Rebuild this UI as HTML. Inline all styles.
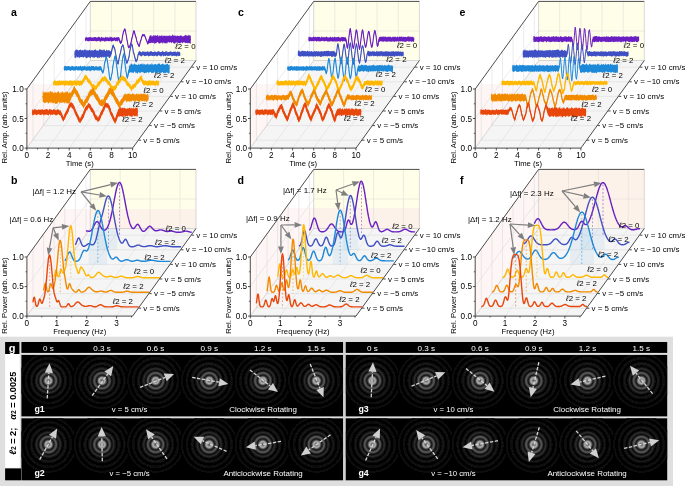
<!DOCTYPE html>
<html lang="en"><head><meta charset="utf-8"><title>Figure</title>
<style>html,body{margin:0;padding:0;background:#fff}svg{display:block;will-change:transform;transform:translateZ(0)}</style></head>
<body>
<svg width="685" height="486" viewBox="0 0 685 486" font-family='"Liberation Sans", "DejaVu Sans", sans-serif'>
<rect width="685" height="486" fill="#fff"/>
<polygon points="90.3,60.5 196,60.5 196,1.4 90.3,1.4" fill="#FFFEE8" stroke="none" stroke-width="0"/>
<polygon points="26.9,148.1 132.6,148.1 196,60.5 90.3,60.5" fill="#F5F5F5" stroke="none" stroke-width="0"/>
<clipPath id="w0_0"><rect x="0" y="84.2" width="685" height="486"/></clipPath>
<g clip-path="url(#w0_0)">
<polygon points="26.9,148.1 26.9,89 90.3,1.4 90.3,60.5" fill="#FEF5F5" stroke="none" stroke-width="0"/>
<polygon points="90.3,60.5 196,60.5 196,1.4 90.3,1.4" fill="#FDF2E9" stroke="none" stroke-width="0"/>
</g>
<line x1="111.4" y1="60.5" x2="111.4" y2="1.4" stroke="#D9D9D9" stroke-width="0.5"/>
<line x1="48" y1="148.1" x2="111.4" y2="60.5" stroke="#D9D9D9" stroke-width="0.5"/>
<line x1="132.6" y1="60.5" x2="132.6" y2="1.4" stroke="#D9D9D9" stroke-width="0.5"/>
<line x1="69.2" y1="148.1" x2="132.6" y2="60.5" stroke="#D9D9D9" stroke-width="0.5"/>
<line x1="153.7" y1="60.5" x2="153.7" y2="1.4" stroke="#D9D9D9" stroke-width="0.5"/>
<line x1="90.3" y1="148.1" x2="153.7" y2="60.5" stroke="#D9D9D9" stroke-width="0.5"/>
<line x1="174.9" y1="60.5" x2="174.9" y2="1.4" stroke="#D9D9D9" stroke-width="0.5"/>
<line x1="111.5" y1="148.1" x2="174.9" y2="60.5" stroke="#D9D9D9" stroke-width="0.5"/>
<line x1="90.3" y1="31" x2="196" y2="31" stroke="#D9D9D9" stroke-width="0.5"/>
<line x1="26.9" y1="118.5" x2="90.3" y2="31" stroke="#D9D9D9" stroke-width="0.5"/>
<line x1="33" y1="140.2" x2="138.7" y2="140.2" stroke="#D9D9D9" stroke-width="0.5"/>
<line x1="33" y1="140.2" x2="33" y2="81.1" stroke="#D9D9D9" stroke-width="0.5"/>
<line x1="43.6" y1="125.6" x2="149.3" y2="125.6" stroke="#D9D9D9" stroke-width="0.5"/>
<line x1="43.6" y1="125.6" x2="43.6" y2="66.5" stroke="#D9D9D9" stroke-width="0.5"/>
<line x1="54.2" y1="111" x2="159.9" y2="111" stroke="#D9D9D9" stroke-width="0.5"/>
<line x1="54.2" y1="111" x2="54.2" y2="51.9" stroke="#D9D9D9" stroke-width="0.5"/>
<line x1="64.8" y1="96.4" x2="170.5" y2="96.4" stroke="#D9D9D9" stroke-width="0.5"/>
<line x1="64.8" y1="96.4" x2="64.8" y2="37.3" stroke="#D9D9D9" stroke-width="0.5"/>
<line x1="75.4" y1="81.8" x2="181.1" y2="81.8" stroke="#D9D9D9" stroke-width="0.5"/>
<line x1="75.4" y1="81.8" x2="75.4" y2="22.7" stroke="#D9D9D9" stroke-width="0.5"/>
<line x1="86" y1="67.2" x2="191.7" y2="67.2" stroke="#D9D9D9" stroke-width="0.5"/>
<line x1="86" y1="67.2" x2="86" y2="8.1" stroke="#D9D9D9" stroke-width="0.5"/>
<line x1="196" y1="60.5" x2="196" y2="1.4" stroke="#BDBDBD" stroke-width="0.6"/>
<line x1="90.3" y1="60.5" x2="196" y2="60.5" stroke="#BDBDBD" stroke-width="0.6"/>
<line x1="90.3" y1="60.5" x2="90.3" y2="1.4" stroke="#BDBDBD" stroke-width="0.6"/>
<line x1="26.9" y1="148.1" x2="90.3" y2="60.5" stroke="#BDBDBD" stroke-width="0.6"/>
<polygon points="85.1,37.4 85.6,37.5 86,37.6 86.5,37 86.9,37.3 87.4,37.6 87.9,37.6 88.3,37.2 88.8,37.4 89.2,37 89.7,37.2 90.2,37.5 90.6,36.8 91.1,37.2 91.5,37.4 92,37.4 92.5,37.8 92.9,37.3 93.4,37.3 93.8,37.4 94.3,37 94.8,36.9 95.2,36.9 95.7,37.3 96.1,37.1 96.6,37.7 97,37.7 97.5,37.4 98,37 98.4,37 98.9,36.6 99.3,36.9 99.8,37.2 100.3,37.6 100.7,38.1 101.2,37.2 101.6,36.5 102.1,37.2 102.6,37.7 103,37.3 103.5,37.5 103.9,37.8 104.4,37.6 104.9,38.1 105.3,37.3 105.8,36.4 106.2,37.2 106.7,37.5 107.2,36.8 107.6,37.6 108.1,37.6 108.5,37.3 109,38.1 109.5,37.5 109.9,36.3 110.4,36.9 110.8,37.2 111.3,37 111.8,37.2 112.2,37.5 112.7,37.5 113.1,37.9 113.6,37.6 114.1,36.9 114.5,37.3 115,37.6 115.4,37.8 115.9,37.6 116.4,37.6 116.8,37.1 117.3,37.1 117.7,37.4 118.2,37.2 118.6,37.1 119.1,37 119.6,38.7 120,40.3 120.5,41.2 120.9,41.1 121.4,40.9 121.9,39.8 122.3,36.7 122.8,34.2 123.2,32 123.7,30.1 124.2,29.4 124.6,28.1 125.1,28.4 125.5,30.7 126,33.4 126.5,35.6 126.9,38.3 127.4,40.6 127.8,42.9 128.3,46 128.8,46.8 129.2,46.1 129.7,45.4 130.1,44.4 130.6,43.1 131.1,41.5 131.5,39 132,36.9 132.4,35.8 132.9,33.4 133.4,31 133.8,30 134.3,30.5 134.7,31.8 135.2,34.5 135.7,35.3 136.1,36.7 136.6,39.4 137,40.7 137.5,41.6 137.9,43 138.4,43.9 138.9,45.2 139.3,45.4 139.8,43.5 140.2,41.1 140.7,39.9 141.2,38.2 141.6,36.4 142.1,35.3 142.5,34.1 143,33.8 143.5,34.7 143.9,34.5 144.4,33.9 144.8,35.2 145.3,36.2 145.8,37.6 146.2,39.2 146.7,39.6 147.1,40.8 147.6,42.1 148.1,41.3 148.5,39.3 149,37.8 149.4,36.5 149.9,35.6 150.4,35.2 150.8,35.4 151.3,34.9 151.7,36.6 152.2,36.5 152.7,36 153.1,34.8 153.6,35.7 154,35.2 154.5,35.4 155,36.1 155.4,35.6 155.9,35 156.3,36.2 156.8,35.3 157.3,35.8 157.7,34.7 158.2,35.3 158.6,36.9 159.1,35.6 159.5,36.1 160,35.2 160.5,36.1 160.9,36.1 161.4,35.8 161.8,35.2 162.3,34.9 162.8,36.7 163.2,35.8 163.7,36.1 164.1,35.2 164.6,35.9 165.1,35.2 165.5,36.3 166,35.9 166.4,35.5 166.9,36 167.4,36.3 167.8,35.5 168.3,36 168.7,35.8 169.2,35.7 169.7,35.3 170.1,35.4 170.6,35.7 171,36.4 171.5,35.5 172,36 172.4,34.6 172.9,34.5 173.3,35.3 173.8,36.1 174.3,35.3 174.7,35.8 175.2,35.5 175.6,35.8 176.1,36.3 176.6,36.1 177,35.3 177.5,36 177.9,35.4 178.4,36.1 178.9,35.9 179.3,36.2 179.8,35.8 180.2,34.8 180.7,35.9 181.1,35.3 181.6,36.1 182.1,36 182.5,36.4 183,36.5 183.4,36.2 183.9,36 184.4,35.7 184.8,35.5 185.3,34.7 185.7,35 186.2,36.1 186.7,35.1 187.1,35.4 187.6,36.2 188,34.4 188.5,35 189,36.3 189.4,35.3 189.9,34.9 190.3,35.7 190.8,35.5 190.8,43.5 190.3,43.8 189.9,43.3 189.4,43.2 189,43.1 188.5,43.2 188,42.6 187.6,43.4 187.1,43.3 186.7,42.7 186.2,43 185.7,43.3 185.3,42.7 184.8,43 184.4,42.3 183.9,41.8 183.4,42.7 183,42.6 182.5,43.2 182.1,43.3 181.6,42.4 181.1,42.1 180.7,43.6 180.2,42.9 179.8,43.5 179.3,42.9 178.9,42.9 178.4,42.7 177.9,43.6 177.5,43.2 177,41.7 176.6,43.1 176.1,42.3 175.6,42.8 175.2,43.4 174.7,43.4 174.3,43.7 173.8,43.2 173.3,43.2 172.9,42.2 172.4,42.1 172,42.8 171.5,43.2 171,42.5 170.6,42 170.1,42.3 169.7,42.8 169.2,42.4 168.7,42 168.3,42.2 167.8,42.4 167.4,42.7 166.9,44.1 166.4,42.5 166,43.2 165.5,43.5 165.1,43.2 164.6,43.3 164.1,42.7 163.7,42.1 163.2,43.6 162.8,44.1 162.3,42.4 161.8,43.1 161.4,42.2 160.9,43.2 160.5,42.4 160,43.7 159.5,43.6 159.1,43.2 158.6,43.2 158.2,42.7 157.7,41.7 157.3,42.3 156.8,42.4 156.3,42.9 155.9,43.7 155.4,42.8 155,43.7 154.5,44.1 154,42.2 153.6,42.8 153.1,43.2 152.7,42.9 152.2,42.7 151.7,43.2 151.3,42.2 150.8,43.6 150.4,42.7 149.9,43.2 149.4,43.1 149,42.9 148.5,43.5 148.1,44.5 147.6,44.7 147.1,42.9 146.7,41.6 146.2,40.9 145.8,39.3 145.3,38.3 144.8,37.1 144.4,35.9 143.9,36.2 143.5,36.5 143,35.5 142.5,35.8 142.1,37.2 141.6,38.4 141.2,40.3 140.7,41.8 140.2,43 139.8,45.2 139.3,47.2 138.9,46.9 138.4,45.8 137.9,45.1 137.5,43.7 137,42.8 136.6,40.9 136.1,38.5 135.7,37.4 135.2,36.4 134.7,34 134.3,32.1 133.8,31.8 133.4,33 132.9,35.4 132.4,37.7 132,38.8 131.5,41 131.1,43.6 130.6,44.9 130.1,46.5 129.7,47.4 129.2,48.2 128.8,48.4 128.3,47.6 127.8,44.9 127.4,42.9 126.9,40.3 126.5,37.5 126,35 125.5,32.3 125.1,30.2 124.6,30.2 124.2,31.6 123.7,32.3 123.2,33.7 122.8,36.2 122.3,38.6 121.9,41.7 121.4,43.6 120.9,44.1 120.5,44.1 120,43.5 119.6,42.4 119.1,40.9 118.6,40.6 118.2,40.4 117.7,41.2 117.3,41.7 116.8,40.6 116.4,41.2 115.9,41.3 115.4,41.6 115,41 114.5,40.5 114.1,40.2 113.6,41 113.1,41.1 112.7,41.2 112.2,41.2 111.8,41.7 111.3,41.4 110.8,40.8 110.4,40.9 109.9,40.7 109.5,41.3 109,41.5 108.5,41 108.1,41.3 107.6,41 107.2,40.8 106.7,41.5 106.2,40.8 105.8,40.9 105.3,41.6 104.9,41.6 104.4,41.7 103.9,41.1 103.5,41.2 103,40.5 102.6,41.2 102.1,41.1 101.6,40.5 101.2,41.7 100.7,41.7 100.3,41.6 99.8,41.7 99.3,40.8 98.9,40.8 98.4,41 98,41.2 97.5,41 97,41.3 96.6,41.7 96.1,41.1 95.7,41.2 95.2,41.1 94.8,40.6 94.3,41.3 93.8,41.1 93.4,41.1 92.9,41.3 92.5,41.1 92,40.9 91.5,41.3 91.1,40.9 90.6,40.8 90.2,40.8 89.7,41.2 89.2,40.9 88.8,41.3 88.3,41.6 87.9,40.9 87.4,41.6 86.9,40.5 86.5,40.5 86,41.1 85.6,41.3 85.1,41.1" fill="#6A1FC2" stroke="none" stroke-width="0"/>
<polyline points="85.1,39.5 85.6,39.4 86,39.2 86.5,38.6 86.9,38.9 87.4,39.4 87.9,39.2 88.3,39.2 88.8,39.5 89.2,39.3 89.7,39.4 90.2,39.2 90.6,38.6 91.1,38.9 91.5,39.5 92,39.4 92.5,39.4 92.9,39.4 93.4,39.1 93.8,39.3 94.3,39.2 94.8,38.6 95.2,38.9 95.7,39.5 96.1,39.5 96.6,39.5 97,39.3 97.5,38.9 98,39.2 98.4,39.3 98.9,38.8 99.3,38.9 99.8,39.4 100.3,39.5 100.7,39.6 101.2,39.3 101.6,38.7 102.1,39 102.6,39.3 103,38.9 103.5,39.1 103.9,39.4 104.4,39.4 104.9,39.7 105.3,39.3 105.8,38.6 106.2,38.9 106.7,39.3 107.2,39.1 107.6,39.3 108.1,39.4 108.5,39.3 109,39.6 109.5,39.3 109.9,38.6 110.4,38.8 110.8,39.3 111.3,39.3 111.8,39.5 112.2,39.4 112.7,39.1 113.1,39.5 113.6,39.3 114.1,38.7 114.5,38.8 115,39.2 115.4,39.4 115.9,39.6 116.4,39.4 116.8,39 117.3,39.3 117.7,39.3 118.2,38.8 118.6,38.9 119.1,39.3 119.6,40.2 120,42 120.5,42.8 120.9,42.5 121.4,42.3 121.9,40.7 122.3,37.6 122.8,35.1 123.2,32.9 123.7,31.2 124.2,30.5 124.6,29.2 125.1,29.3 125.5,31.5 126,34.2 126.5,36.5 126.9,39.4 127.4,41.8 127.8,44 128.3,46.8 128.8,47.6 129.2,47.1 129.7,46.5 130.1,45.4 130.6,43.9 131.1,42.6 131.5,40.1 132,37.7 132.4,36.7 132.9,34.5 133.4,31.9 133.8,31 134.3,31.3 134.7,32.9 135.2,35.3 135.7,36.4 136.1,37.6 136.6,40.2 137,41.8 137.5,42.5 137.9,44 138.4,45 138.9,46 139.3,46.2 139.8,44.3 140.2,41.9 140.7,40.8 141.2,39.2 141.6,37.3 142.1,36.3 142.5,35 143,34.7 143.5,35.5 143.9,35.3 144.4,34.9 144.8,36.1 145.3,37.2 145.8,38.4 146.2,40 146.7,40.7 147.1,41.8 147.6,43.5 148.1,43 148.5,41.3 149,40.3 149.4,39.5 149.9,39.3 150.4,39.5 150.8,39.2 151.3,39.1 151.7,39.6 152.2,39.5 152.7,39 153.1,38.9 153.6,38.8 154,39.1 154.5,39.7 155,39.4 155.4,39.1 155.9,39.5 156.3,39.3 156.8,39 157.3,39 157.7,38.7 158.2,39.1 158.6,39.8 159.1,39.5 159.5,39.1 160,39.3 160.5,39.1 160.9,39 161.4,39.1 161.8,38.8 162.3,39.1 162.8,39.8 163.2,39.6 163.7,39.1 164.1,39.1 164.6,38.9 165.1,39 165.5,39.3 166,38.9 166.4,39.1 166.9,39.7 167.4,39.6 167.8,39.2 168.3,39 168.7,38.8 169.2,39 169.7,39.4 170.1,39.1 170.6,39.1 171,39.6 171.5,39.5 172,39.2 172.4,39 172.9,38.6 173.3,39 173.8,39.6 174.3,39.3 174.7,39.2 175.2,39.5 175.6,39.3 176.1,39.2 176.6,39.1 177,38.6 177.5,39 177.9,39.6 178.4,39.5 178.9,39.3 179.3,39.3 179.8,39.1 180.2,39.2 180.7,39.1 181.1,38.7 181.6,39 182.1,39.7 182.5,39.6 183,39.4 183.4,39.2 183.9,38.9 184.4,39.1 184.8,39.3 185.3,38.8 185.7,39 186.2,39.6 186.7,39.6 187.1,39.4 187.6,39.2 188,38.7 188.5,39 189,39.4 189.4,39 189.9,39.1 190.3,39.5 190.8,39.5" fill="none" stroke="#6A1FC2" stroke-width="1.1" stroke-linejoin="round"/>
<text x="195.5" y="48.8" font-size="7.85" text-anchor="end"><tspan font-style="italic">ℓ</tspan>2 = 0</text>
<polygon points="74.5,51.1 75,51 75.4,50.3 75.9,49.6 76.3,49.6 76.8,49.7 77.3,50.3 77.7,49.8 78.2,49.9 78.6,51 79.1,49.9 79.6,50 80,49.8 80.5,49.5 80.9,49.7 81.4,50.1 81.9,50.8 82.3,50 82.8,50.1 83.2,50.8 83.7,50.1 84.2,49.6 84.6,49.5 85.1,50.1 85.5,49.8 86,49.6 86.4,51.2 86.9,49.6 87.4,50 87.8,50.8 88.3,50.4 88.7,50.2 89.2,49.4 89.7,49.9 90.1,49.9 90.6,51 91,50 91.5,50.5 92,50.3 92.4,50.6 92.9,50.1 93.3,50.9 93.8,49.8 94.3,49.8 94.7,49.9 95.2,50.1 95.6,48.8 96.1,50.3 96.6,50.5 97,50.6 97.5,50.6 97.9,50.6 98.4,50.4 98.9,50.8 99.3,49.3 99.8,49.3 100.2,49.3 100.7,49.8 101.2,49.8 101.6,50 102.1,50.5 102.5,49.5 103,50.6 103.5,50.3 103.9,48.8 104.4,49.7 104.8,50.1 105.3,50.9 105.8,51 106.2,50.1 106.7,49.4 107.1,50.5 107.6,50.5 108,49.9 108.5,50.4 109,50 109.4,50.1 109.9,51.2 110.3,51.1 110.8,51.4 111.3,50.4 111.7,49.3 112.2,46.8 112.6,45.6 113.1,44.2 113.6,44.7 114,46.5 114.5,47.3 114.9,48.3 115.4,51.4 115.9,53.9 116.3,56.1 116.8,58.5 117.2,60.4 117.7,62.2 118.2,62.3 118.6,59.8 119.1,57.2 119.5,55.8 120,53.4 120.5,51.3 120.9,49.6 121.4,46.7 121.8,45.7 122.3,44.9 122.8,44 123.2,44.5 123.7,46.7 124.1,48.6 124.6,51.9 125.1,55.1 125.5,56.2 126,58.8 126.4,61.2 126.9,61.8 127.3,61 127.8,59.9 128.3,58.1 128.7,56.7 129.2,54.7 129.6,51.1 130.1,48.2 130.6,46.6 131,44.6 131.5,43.2 131.9,43.5 132.4,45 132.9,47.8 133.3,50.9 133.8,51.9 134.2,53.7 134.7,56.1 135.2,57.2 135.6,59 136.1,60 136.5,59.6 137,58.5 137.5,57 137.9,54.1 138.4,52.3 138.8,51.5 139.3,50.7 139.8,51.3 140.2,52 140.7,51.2 141.1,52.3 141.6,52.3 142.1,52 142.5,51.1 143,51.4 143.4,51.1 143.9,52.3 144.4,51.7 144.8,51.4 145.3,51.9 145.7,51.6 146.2,51.9 146.7,51.7 147.1,51.8 147.6,50.9 148,51.5 148.5,52.5 148.9,51.3 149.4,51.8 149.9,51.9 150.3,51.2 150.8,51.3 151.2,51.2 151.7,51.2 152.2,52.1 152.6,52 153.1,52.1 153.5,51.9 154,52 154.5,51.6 154.9,51.3 155.4,51.8 155.8,51.7 156.3,51.7 156.8,52.5 157.2,51.8 157.7,51.5 158.1,51.3 158.6,51 159.1,51.7 159.5,51.6 160,51.7 160.4,52.2 160.9,52.1 161.4,52 161.8,51.7 162.3,51.1 162.7,50.7 163.2,51.8 163.7,51.7 164.1,52 164.6,52.2 165,51.6 165.5,51.4 166,51.4 166.4,51.6 166.9,50.7 167.3,51.7 167.8,52.4 168.3,52.1 168.7,52.1 169.2,51.7 169.6,52.1 170.1,51.6 170.5,51.6 171,50.8 171.5,52.2 171.9,52.3 172.4,51.8 172.8,52.2 173.3,51.7 173.8,51.6 174.2,51.9 174.7,51.7 175.1,50.9 175.6,51.9 176.1,51.9 176.5,52.4 177,52 177.4,51.6 177.9,51.3 178.4,52.2 178.8,51.6 179.3,51.8 179.7,51.9 180.2,52.4 180.2,56.1 179.7,56 179.3,55.7 178.8,56.3 178.4,56 177.9,55.2 177.4,56 177,56.4 176.5,56.6 176.1,56.1 175.6,55.7 175.1,55.9 174.7,55.7 174.2,56 173.8,56.1 173.3,55.6 172.8,56.2 172.4,55.7 171.9,56.4 171.5,55.6 171,55.4 170.5,55.3 170.1,55.7 169.6,55.7 169.2,55.7 168.7,56.1 168.3,55.7 167.8,56.2 167.3,56.1 166.9,54.9 166.4,55.8 166,55.9 165.5,55.9 165,56.3 164.6,55.8 164.1,55.6 163.7,56.6 163.2,56.3 162.7,55 162.3,55.7 161.8,55.7 161.4,56.5 160.9,56.2 160.4,56.4 160,55.4 159.5,55.7 159.1,55.8 158.6,55.3 158.1,55.3 157.7,56.2 157.2,56.3 156.8,56.4 156.3,56 155.8,55.5 155.4,55.4 154.9,56.3 154.5,56.1 154,55.9 153.5,55.5 153.1,56.3 152.6,56.1 152.2,56 151.7,55.3 151.2,55.9 150.8,56 150.3,55.5 149.9,56 149.4,55.7 148.9,56.4 148.5,56.4 148,55.7 147.6,55.6 147.1,55.8 146.7,55.5 146.2,56.1 145.7,56.3 145.3,55.8 144.8,56.2 144.4,56.1 143.9,55.7 143.4,55.1 143,55.8 142.5,55.2 142.1,55.8 141.6,56.8 141.1,56 140.7,55.7 140.2,56.4 139.8,55.6 139.3,54.8 138.8,54.9 138.4,55.1 137.9,57 137.5,59.8 137,60.9 136.5,62 136.1,62.5 135.6,61.7 135.2,59.9 134.7,58.1 134.2,55.6 133.8,54.3 133.3,53 132.9,50.4 132.4,47.1 131.9,45.6 131.5,45.6 131,46.9 130.6,48.9 130.1,50.6 129.6,53.3 129.2,57.3 128.7,59 128.3,60.3 127.8,61.9 127.3,63.6 126.9,63.9 126.4,63.6 126,60.8 125.5,58.8 125.1,57.1 124.6,54.4 124.1,51.2 123.7,48.9 123.2,46.6 122.8,46.1 122.3,47.2 121.8,47.6 121.4,49.2 120.9,51.6 120.5,53.6 120,55.8 119.5,58 119.1,59.5 118.6,62.3 118.2,65 117.7,64.6 117.2,62.3 116.8,60.9 116.3,58.7 115.9,56.3 115.4,53.5 114.9,50.8 114.5,49.4 114,48.8 113.6,47.4 113.1,46.4 112.6,47.9 112.2,50 111.7,53.2 111.3,55.3 110.8,56.3 110.3,57.2 109.9,58.2 109.4,57.7 109,58.1 108.5,56.9 108,56.3 107.6,56.7 107.1,57.1 106.7,58.2 106.2,57 105.8,58.5 105.3,57.2 104.8,57.3 104.4,57 103.9,56.5 103.5,57.7 103,57.6 102.5,57 102.1,56.8 101.6,58 101.2,57.5 100.7,56.8 100.2,57.4 99.8,57.5 99.3,57.8 98.9,58.7 98.4,57.2 97.9,57.2 97.5,58.3 97,57.9 96.6,56.7 96.1,57.3 95.6,57.1 95.2,57.1 94.7,57.6 94.3,58.2 93.8,57 93.3,57.9 92.9,57.7 92.4,57.1 92,57.2 91.5,57.1 91,56.6 90.6,58.5 90.1,58.1 89.7,57.7 89.2,56.8 88.7,57 88.3,57.4 87.8,58.3 87.4,56.9 86.9,58.2 86.4,57.7 86,58.4 85.5,57.3 85.1,56.8 84.6,56.8 84.2,56.9 83.7,58 83.2,57.1 82.8,56.8 82.3,57.4 81.9,57.2 81.4,57 80.9,57.6 80.5,57.1 80,57 79.6,58.5 79.1,57.2 78.6,57.3 78.2,57.2 77.7,56.7 77.3,57.7 76.8,57.9 76.3,56.1 75.9,57.5 75.4,57.9 75,58.3 74.5,57.6" fill="#3F4FC4" stroke="none" stroke-width="0"/>
<polyline points="74.5,54.2 75,54.1 75.4,54 75.9,53.5 76.3,53.2 76.8,53.8 77.3,53.9 77.7,53.7 78.2,53.9 78.6,54 79.1,54 79.6,54.1 80,53.5 80.5,53.1 80.9,53.8 81.4,54 81.9,53.9 82.3,54 82.8,53.9 83.2,53.8 83.7,54 84.2,53.5 84.6,53.2 85.1,53.7 85.5,54.1 86,54.1 86.4,54.1 86.9,53.7 87.4,53.6 87.8,54 88.3,53.6 88.7,53.3 89.2,53.7 89.7,54 90.1,54.1 90.6,54.2 91,53.6 91.5,53.4 92,53.9 92.4,53.7 92.9,53.5 93.3,53.8 93.8,54 94.3,54.1 94.7,54.3 95.2,53.6 95.6,53.3 96.1,53.8 96.6,53.8 97,53.7 97.5,53.9 97.9,53.9 98.4,54.1 98.9,54.3 99.3,53.6 99.8,53.2 100.2,53.7 100.7,53.8 101.2,53.9 101.6,54.1 102.1,53.8 102.5,53.9 103,54.2 103.5,53.6 103.9,53.2 104.4,53.6 104.8,53.8 105.3,54.1 105.8,54.2 106.2,53.8 106.7,53.7 107.1,54.1 107.6,53.6 108,53.3 108.5,53.6 109,53.8 109.4,54.1 109.9,54.6 110.3,54.2 110.8,53.7 111.3,53.3 111.7,51.2 112.2,48.6 112.6,46.8 113.1,45.3 113.6,46.1 114,47.8 114.5,48.2 114.9,49.6 115.4,52.6 115.9,55 116.3,57.4 116.8,59.9 117.2,61.4 117.7,63.3 118.2,63.7 118.6,61 119.1,58.4 119.5,56.7 120,54.4 120.5,52.5 120.9,50.6 121.4,47.9 121.8,46.6 122.3,46 122.8,45.1 123.2,45.7 123.7,47.7 124.1,50 124.6,53.2 125.1,56.1 125.5,57.5 126,59.8 126.4,62.3 126.9,62.9 127.3,62.2 127.8,61 128.3,59.1 128.7,58 129.2,56 129.6,52.3 130.1,49.6 130.6,47.9 131,45.6 131.5,44.2 131.9,44.6 132.4,46 132.9,49 133.3,51.9 133.8,52.9 134.2,54.7 134.7,57 135.2,58.6 135.6,60.3 136.1,61.4 136.5,60.6 137,59.9 137.5,58.5 137.9,55.6 138.4,53.8 138.8,53.2 139.3,53.1 139.8,53.8 140.2,54 140.7,53.6 141.1,54 141.6,54.3 142.1,53.9 142.5,53.6 143,53.5 143.4,53.4 143.9,54 144.4,54.2 144.8,53.7 145.3,53.9 145.7,54.1 146.2,53.8 146.7,53.6 147.1,53.5 147.6,53.3 148,54 148.5,54.3 148.9,53.8 149.4,53.8 149.9,53.9 150.3,53.7 150.8,53.7 151.2,53.5 151.7,53.3 152.2,54 152.6,54.4 153.1,53.9 153.5,53.8 154,53.7 154.5,53.5 154.9,53.8 155.4,53.7 155.8,53.4 156.3,54 156.8,54.4 157.2,54 157.7,53.8 158.1,53.5 158.6,53.4 159.1,53.8 159.5,53.9 160,53.5 160.4,54 160.9,54.3 161.4,54 161.8,53.8 162.3,53.5 162.7,53.3 163.2,53.9 163.7,54.1 164.1,53.7 164.6,53.9 165,54.1 165.5,53.9 166,53.8 166.4,53.4 166.9,53.2 167.3,53.9 167.8,54.2 168.3,53.9 168.7,53.9 169.2,53.9 169.6,53.7 170.1,53.9 170.5,53.5 171,53.2 171.5,53.9 171.9,54.3 172.4,54 172.8,54 173.3,53.7 173.8,53.6 174.2,53.9 174.7,53.6 175.1,53.3 175.6,53.9 176.1,54.2 176.5,54.1 177,54 177.4,53.6 177.9,53.4 178.4,53.8 178.8,53.8 179.3,53.5 179.7,53.9 180.2,54.2" fill="none" stroke="#3F4FC4" stroke-width="1.1" stroke-linejoin="round"/>
<text x="184.9" y="63.4" font-size="7.85" text-anchor="end"><tspan font-style="italic">ℓ</tspan>2 = 2</text>
<polygon points="63.9,66.6 64.4,66.1 64.8,66.3 65.3,65.7 65.7,66.2 66.2,65.9 66.7,66.5 67.1,66.5 67.6,65.8 68,66.1 68.5,65.9 69,66.4 69.4,66.3 69.9,66.6 70.3,66 70.8,67.2 71.3,66.5 71.7,65.7 72.2,65.9 72.6,66 73.1,66.2 73.6,66.6 74,66.5 74.5,66.6 74.9,66.7 75.4,66.5 75.8,66.1 76.3,66 76.8,66.3 77.2,66.5 77.7,66.7 78.1,66.5 78.6,66 79.1,66.5 79.5,66.6 80,65.7 80.4,65.7 80.9,65.7 81.4,66.4 81.8,66.8 82.3,66.3 82.7,65.9 83.2,66.7 83.7,66.1 84.1,65.7 84.6,65.8 85,66 85.5,66.4 86,66.8 86.4,67.2 86.9,66.5 87.3,66 87.8,66.5 88.3,66.4 88.7,66.2 89.2,65.8 89.6,66 90.1,67.1 90.6,66.7 91,66 91.5,65.7 91.9,66.1 92.4,66.1 92.9,66.3 93.3,66 93.8,66 94.2,66.6 94.7,66.9 95.2,66.7 95.6,66 96.1,65.9 96.5,66.3 97,66.5 97.4,67 97.9,66.6 98.4,66.8 98.8,66.5 99.3,66.1 99.7,66.5 100.2,66.1 100.7,66.3 101.1,66.5 101.6,67.8 102,69.3 102.5,70.5 103,70.9 103.4,69.8 103.9,68.2 104.3,64.5 104.8,61.4 105.3,60.4 105.7,58.2 106.2,55.5 106.6,57.2 107.1,58.8 107.6,61.4 108,65.2 108.5,68 108.9,71 109.4,75.7 109.9,78 110.3,79.1 110.8,78.7 111.2,76.1 111.7,73.6 112.2,71.4 112.6,67.6 113.1,64.2 113.5,62.1 114,59.7 114.5,56.8 114.9,55.3 115.4,56.1 115.8,58.4 116.3,62.5 116.8,65.5 117.2,69 117.7,73.1 118.1,76.3 118.6,78.9 119,80.7 119.5,79.1 120,77 120.4,75.6 120.9,72 121.3,67.7 121.8,64.1 122.3,60 122.7,57.1 123.2,54.6 123.6,52.8 124.1,55.3 124.6,59.5 125,62.8 125.5,66.5 125.9,69.7 126.4,72.7 126.9,75.4 127.3,76.2 127.8,74.4 128.2,70.9 128.7,69.2 129.2,65.9 129.6,65.2 130.1,65.2 130.5,64.2 131,64.2 131.5,63.5 131.9,63.4 132.4,64.8 132.8,64.5 133.3,64.8 133.8,64.5 134.2,63.7 134.7,63.1 135.1,64.7 135.6,63.9 136.1,65.1 136.5,64.2 137,65 137.4,64.7 137.9,64.9 138.3,64.8 138.8,63.3 139.3,64.4 139.7,65.1 140.2,64 140.6,64.1 141.1,64.6 141.6,63.5 142,63.7 142.5,64.9 142.9,63 143.4,63.9 143.9,64.8 144.3,64.3 144.8,64.1 145.2,64.7 145.7,64.7 146.2,63.9 146.6,65 147.1,63.3 147.5,64.5 148,63.6 148.5,65 148.9,64.3 149.4,65.1 149.8,64.3 150.3,64 150.8,64.6 151.2,63.1 151.7,64.7 152.1,65 152.6,63.5 153.1,64.3 153.5,65.1 154,64.5 154.4,64 154.9,64.4 155.4,63.7 155.8,63.9 156.3,65 156.7,64.4 157.2,63.9 157.7,64.4 158.1,63.9 158.6,63.3 159,63.6 159.5,63.5 159.9,64.1 160.4,64.7 160.9,64.9 161.3,64 161.8,64.3 162.2,63.9 162.7,63.5 163.2,63.8 163.6,64.8 164.1,64.1 164.5,64.5 165,64.9 165.5,64.9 165.9,63.6 166.4,64.6 166.8,63.7 167.3,64 167.8,63.6 168.2,64.9 168.7,65.1 169.1,64.2 169.6,64.8 169.6,73.4 169.1,72.8 168.7,73.3 168.2,73.9 167.8,72.7 167.3,72.7 166.8,72.6 166.4,72.4 165.9,72.8 165.5,73.2 165,72.5 164.5,73.8 164.1,72.8 163.6,72.9 163.2,73.2 162.7,72 162.2,72.1 161.8,72.4 161.3,73.3 160.9,72.4 160.4,73 159.9,72.7 159.5,72.9 159,72.9 158.6,72.8 158.1,71.7 157.7,73.4 157.2,72.9 156.7,73.1 156.3,72.9 155.8,72.5 155.4,72.5 154.9,73.1 154.4,71.4 154,71.7 153.5,73.2 153.1,73 152.6,73.3 152.1,72.4 151.7,73.2 151.2,72.8 150.8,72.1 150.3,71.8 149.8,72 149.4,72.3 148.9,73.7 148.5,72.4 148,72.2 147.5,72.1 147.1,72.4 146.6,72.6 146.2,73 145.7,73 145.2,72.5 144.8,73.2 144.3,73.3 143.9,72.6 143.4,72.8 142.9,72.1 142.5,72.4 142,71.9 141.6,71.8 141.1,72.6 140.6,72.5 140.2,73.2 139.7,73.2 139.3,72.3 138.8,72.1 138.3,72.3 137.9,73.7 137.4,73.4 137,72.8 136.5,73.1 136.1,72.6 135.6,73.6 135.1,71.6 134.7,71.5 134.2,72 133.8,72.4 133.3,73.3 132.8,73.3 132.4,72.2 131.9,72.6 131.5,72.7 131,72 130.5,72.6 130.1,72.3 129.6,72.8 129.2,73 128.7,74.2 128.2,75.8 127.8,78.5 127.3,79.3 126.9,77.1 126.4,74.3 125.9,72 125.5,68.4 125,65 124.6,61.4 124.1,57 123.6,54.9 123.2,56.6 122.7,58.6 122.3,61.7 121.8,66 121.3,69.3 120.9,73.9 120.4,77.4 120,78.8 119.5,81 119,82.8 118.6,80.9 118.1,78.4 117.7,75.1 117.2,70.9 116.8,67.5 116.3,64.4 115.8,60.5 115.4,57.8 114.9,57.1 114.5,58.7 114,61.5 113.5,64.1 113.1,66.1 112.6,69.5 112.2,73.5 111.7,75.6 111.2,77.7 110.8,80.3 110.3,81 109.9,79.9 109.4,77.5 108.9,73.1 108.5,69.9 108,67 107.6,63.2 107.1,60.7 106.6,59 106.2,57.4 105.7,59.9 105.3,62.2 104.8,63.2 104.3,66.3 103.9,70.3 103.4,72.6 103,73.8 102.5,73.7 102,72.7 101.6,71.5 101.1,71.2 100.7,70.3 100.2,69.7 99.7,70.7 99.3,70.4 98.8,70.5 98.4,70.8 97.9,70.3 97.4,70.6 97,70.4 96.5,69.9 96.1,70.4 95.6,70.2 95.2,70.1 94.7,70.5 94.2,71 93.8,70.8 93.3,70.3 92.9,70.3 92.4,69.9 91.9,70.4 91.5,70.4 91,70.2 90.6,70.9 90.1,71.4 89.6,70.7 89.2,70.4 88.7,70.4 88.3,70.3 87.8,70.6 87.3,70.7 86.9,70.8 86.4,70.7 86,70.9 85.5,70.1 85,70.6 84.6,70 84.1,70.1 83.7,70.3 83.2,70.4 82.7,70.8 82.3,70.6 81.8,71.4 81.4,70.8 80.9,70.4 80.4,70.6 80,69.9 79.5,70.6 79.1,70.3 78.6,70.6 78.1,70.4 77.7,70.4 77.2,70.3 76.8,70.1 76.3,69.8 75.8,70 75.4,71.1 74.9,70.6 74.5,70.5 74,70.6 73.6,70.8 73.1,70.4 72.6,70.1 72.2,70.2 71.7,69.9 71.3,70.5 70.8,71 70.3,70.8 69.9,70.2 69.4,70.4 69,70.2 68.5,70.1 68,70.6 67.6,70 67.1,70.6 66.7,71.1 66.2,70.4 65.7,70 65.3,70.7 64.8,69.9 64.4,71 63.9,70.4" fill="#1E88D8" stroke="none" stroke-width="0"/>
<polyline points="63.9,68.3 64.4,68.5 64.8,68.1 65.3,68.2 65.7,68.3 66.2,68.4 66.7,68.9 67.1,68.9 67.6,68.1 68,68.1 68.5,68.3 69,68.2 69.4,68.4 69.9,68.4 70.3,68.3 70.8,68.9 71.3,68.9 71.7,68.1 72.2,68 72.6,68.2 73.1,68.2 73.6,68.6 74,68.5 74.5,68.3 74.9,68.8 75.4,68.8 75.8,68.2 76.3,68 76.8,68.1 77.2,68.2 77.7,68.8 78.1,68.7 78.6,68.3 79.1,68.6 79.5,68.7 80,68.2 80.4,68.1 80.9,68.1 81.4,68.2 81.8,68.9 82.3,68.8 82.7,68.3 83.2,68.4 83.7,68.5 84.1,68.2 84.6,68.2 85,68.1 85.5,68.2 86,68.9 86.4,68.9 86.9,68.3 87.3,68.3 87.8,68.3 88.3,68.2 88.7,68.4 89.2,68.2 89.6,68.2 90.1,68.9 90.6,68.9 91,68.3 91.5,68.2 91.9,68.1 92.4,68.1 92.9,68.6 93.3,68.4 93.8,68.2 94.2,68.8 94.7,68.8 95.2,68.3 95.6,68.2 96.1,68 96.5,68.1 97,68.7 97.4,68.6 97.9,68.3 98.4,68.7 98.8,68.7 99.3,68.3 99.7,68.2 100.2,67.9 100.7,68.1 101.1,68.9 101.6,69.7 102,70.8 102.5,72.1 103,72.4 103.4,71.2 103.9,69.1 104.3,65.3 104.8,62.3 105.3,61.1 105.7,59 106.2,56.6 106.6,58 107.1,59.7 107.6,62.4 108,66.1 108.5,68.8 108.9,72 109.4,76.4 109.9,79 110.3,80.1 110.8,79.5 111.2,76.9 111.7,74.5 112.2,72.4 112.6,68.7 113.1,65.1 113.5,63.1 114,60.5 114.5,57.9 114.9,56.4 115.4,56.9 115.8,59.4 116.3,63.5 116.8,66.6 117.2,69.8 117.7,74.1 118.1,77.3 118.6,79.8 119,81.7 119.5,80 120,77.9 120.4,76.4 120.9,72.8 121.3,68.5 121.8,64.9 122.3,60.9 122.7,57.8 123.2,55.6 123.6,53.9 124.1,56 124.6,60.3 125,63.9 125.5,67.3 125.9,70.9 126.4,73.5 126.9,76.3 127.3,77.8 127.8,76.4 128.2,73.5 128.7,71.7 129.2,69.9 129.6,68.9 130.1,68.6 130.5,68 131,68.1 131.5,68.5 131.9,68.2 132.4,68.1 132.8,68.6 133.3,68.7 133.8,68.7 134.2,68.6 134.7,67.9 135.1,68 135.6,68.5 136.1,68.4 136.5,68.3 137,68.6 137.4,68.6 137.9,68.7 138.3,68.6 138.8,67.9 139.3,67.9 139.7,68.5 140.2,68.5 140.6,68.5 141.1,68.6 141.6,68.4 142,68.6 142.5,68.6 142.9,67.9 143.4,67.9 143.9,68.5 144.3,68.6 144.8,68.7 145.2,68.7 145.7,68.2 146.2,68.4 146.6,68.6 147.1,68 147.5,68 148,68.5 148.5,68.6 148.9,68.8 149.4,68.7 149.8,68.1 150.3,68.2 150.8,68.5 151.2,68.1 151.7,68.1 152.1,68.5 152.6,68.6 153.1,68.9 153.5,68.7 154,68 154.4,68 154.9,68.4 155.4,68.3 155.8,68.3 156.3,68.5 156.7,68.5 157.2,68.8 157.7,68.8 158.1,68 158.6,67.9 159,68.3 159.5,68.4 159.9,68.6 160.4,68.6 160.9,68.4 161.3,68.7 161.8,68.7 162.2,68 162.7,67.9 163.2,68.3 163.6,68.4 164.1,68.8 164.5,68.7 165,68.2 165.5,68.5 165.9,68.6 166.4,68.1 166.8,68 167.3,68.2 167.8,68.4 168.2,68.9 168.7,68.8 169.1,68.2 169.6,68.3" fill="none" stroke="#1E88D8" stroke-width="1.1" stroke-linejoin="round"/>
<text x="174.3" y="78" font-size="7.85" text-anchor="end"><tspan font-style="italic">ℓ</tspan>2 = 2</text>
<polygon points="53.3,81 53.8,81.5 54.2,80.7 54.7,80.1 55.1,80.6 55.6,80.4 56.1,81.1 56.5,81 57,81.2 57.4,80.3 57.9,80.9 58.4,80.9 58.8,80.2 59.3,80 59.7,80.8 60.2,80.8 60.7,80.7 61.1,80.4 61.6,80.5 62,80.8 62.5,81.2 63,80.4 63.4,80.6 63.9,80.8 64.3,80.7 64.8,80.7 65.2,81.2 65.7,79.8 66.2,80.9 66.6,80.5 67.1,80.8 67.5,80.4 68,81.1 68.5,81.1 68.9,81.3 69.4,80.3 69.8,80.4 70.3,80.3 70.8,80.5 71.2,80.2 71.7,81 72.1,80.7 72.6,80.8 73.1,81.1 73.5,81 74,80.1 74.4,80.3 74.9,80.6 75.4,80.6 75.8,81.4 76.3,80.8 76.7,80.4 77.2,81.1 77.7,80.3 78.1,80 78.6,80.8 79,80.4 79.5,80.9 80,81.1 80.4,80.4 80.9,80.2 81.3,81 81.8,80.8 82.3,79.8 82.7,79.6 83.2,78.7 83.6,77.7 84.1,77.4 84.6,76.1 85,74.5 85.5,74.6 85.9,75.2 86.4,75.2 86.8,75.7 87.3,76.9 87.8,77.1 88.2,79.6 88.7,79.5 89.1,78.1 89.6,79.4 90.1,79.9 90.5,80.8 91,81.9 91.4,82.2 91.9,83 92.4,84.5 92.8,84.9 93.3,83.6 93.7,84.2 94.2,84.6 94.7,85.5 95.1,86.4 95.6,85.5 96,84.8 96.5,85.9 97,84.9 97.4,82.5 97.9,81.9 98.3,82.2 98.8,81.6 99.3,81.5 99.7,80.7 100.2,79.3 100.6,79.9 101.1,79.2 101.6,77.8 102,77.4 102.5,76.7 102.9,76.5 103.4,77.4 103.9,77.1 104.3,75.6 104.8,76.3 105.2,76.5 105.7,76.8 106.2,77.6 106.6,77.2 107.1,79 107.5,80.1 108,80.5 108.4,80.3 108.9,80.8 109.4,81.4 109.8,82.2 110.3,83.6 110.7,83.5 111.2,84.3 111.7,86.3 112.1,85.8 112.6,85.7 113,86.5 113.5,85.7 114,86.3 114.4,86 114.9,85.2 115.3,84.9 115.8,85.3 116.3,84 116.7,82.3 117.2,82.1 117.6,80.4 118.1,80 118.6,81.1 119,79 119.5,78.3 119.9,78.1 120.4,77.3 120.9,76.7 121.3,75.8 121.8,75.2 122.2,75 122.7,76.4 123.2,76.3 123.6,76.3 124.1,76.5 124.5,77.2 125,77.1 125.5,77.8 125.9,77.4 126.4,79.2 126.8,81.5 127.3,81.8 127.7,81.7 128.2,82.2 128.7,82.6 129.1,82.7 129.6,84.5 130,83.5 130.5,84.6 131,86.3 131.4,86.7 131.9,85.6 132.3,85.1 132.8,83.8 133.3,83.9 133.7,84.2 134.2,83.5 134.6,83.3 135.1,83.8 135.6,82.5 136,81.7 136.5,80.1 136.9,78.9 137.4,79.6 137.9,79.9 138.3,78.4 138.8,77.9 139.2,78.1 139.7,76.8 140.2,77 140.6,76.1 141.1,74.4 141.5,76 142,78 142.5,78.8 142.9,80.2 143.4,80.1 143.8,80.3 144.3,80.6 144.8,81 145.2,80.3 145.7,80.4 146.1,81.3 146.6,80.8 147.1,80.7 147.5,81.2 148,80.6 148.4,80.2 148.9,81 149.3,80.6 149.8,80.1 150.3,81 150.7,80.6 151.2,80.8 151.6,80.9 152.1,79.9 152.6,80.9 153,81 153.5,80.7 153.9,80.2 154.4,81.3 154.9,81.1 155.3,81.4 155.8,81.1 156.2,79.9 156.7,80.4 157.2,81.1 157.6,80.7 158.1,80.2 158.5,81.3 159,80.4 159,85 158.5,85.4 158.1,85.9 157.6,85.8 157.2,85.2 156.7,84.9 156.2,84.5 155.8,85.7 155.3,86.2 154.9,86 154.4,85.6 153.9,85.1 153.5,84.9 153,85.4 152.6,85.6 152.1,84.9 151.6,84.9 151.2,85.3 150.7,85.7 150.3,85.5 149.8,85.3 149.3,85.4 148.9,85.3 148.4,85.7 148,85.5 147.5,85.9 147.1,85.3 146.6,85.2 146.1,85.4 145.7,84.8 145.2,84.4 144.8,85.1 144.3,85.7 143.8,85 143.4,85.5 142.9,84 142.5,84.1 142,83.1 141.5,80.4 141.1,79.7 140.6,80.2 140.2,80.8 139.7,82.2 139.2,82.2 138.8,82.4 138.3,83.5 137.9,84.3 137.4,84.2 136.9,83.4 136.5,84.6 136,86.6 135.6,87.4 135.1,87.4 134.6,87.2 134.2,87.4 133.7,89.5 133.3,89.1 132.8,88.5 132.3,89.5 131.9,90.4 131.4,91.3 131,90.4 130.5,89.1 130,88 129.6,88.8 129.1,87.6 128.7,86.3 128.2,86.6 127.7,86.1 127.3,86.2 126.8,85.4 126.4,83.7 125.9,82.3 125.5,82.8 125,81.6 124.5,81.6 124.1,81.2 123.6,80.9 123.2,80.5 122.7,81.2 122.2,79.6 121.8,79.6 121.3,80.7 120.9,80.7 120.4,82.4 119.9,83.2 119.5,82.7 119,84.2 118.6,85.5 118.1,85.2 117.6,84.9 117.2,85.8 116.7,86.9 116.3,89 115.8,89.9 115.3,89.7 114.9,89.7 114.4,91.3 114,90.7 113.5,90.7 113,91 112.6,90.1 112.1,91 111.7,91 111.2,88.8 110.7,88 110.3,88 109.8,86.8 109.4,85.8 108.9,84.9 108.4,84.9 108,85.1 107.5,84.5 107.1,83.2 106.6,81.4 106.2,82.3 105.7,81.7 105.2,81.3 104.8,80.6 104.3,80.7 103.9,81.4 103.4,81.8 102.9,81 102.5,80.4 102,81.8 101.6,82.4 101.1,83.4 100.6,83.6 100.2,83.7 99.7,84.8 99.3,86.5 98.8,86.6 98.3,86.1 97.9,86.7 97.4,87.4 97,88.6 96.5,90 96,89.8 95.6,89.8 95.1,90.6 94.7,89.8 94.2,89.7 93.7,88.8 93.3,88.7 92.8,88.7 92.4,88.9 91.9,87.6 91.4,86.6 91,86.7 90.5,85.6 90.1,84.9 89.6,84.3 89.1,83.1 88.7,83.2 88.2,83.5 87.8,82 87.3,81.1 86.8,80.6 86.4,79.6 85.9,79.4 85.5,79.6 85,79.5 84.6,80.4 84.1,82.2 83.6,82.4 83.2,83.3 82.7,83.9 82.3,84.8 81.8,85.3 81.3,85.9 80.9,85.3 80.4,85 80,85.8 79.5,86 79,85.7 78.6,85.1 78.1,85 77.7,85 77.2,85.6 76.7,85.7 76.3,85.5 75.8,86 75.4,85.8 74.9,85.3 74.4,84.7 74,84.3 73.5,85.1 73.1,85.6 72.6,85.9 72.1,85.7 71.7,85.6 71.2,85.6 70.8,85.8 70.3,85.4 69.8,85.2 69.4,85.8 68.9,85.5 68.5,85.9 68,85.1 67.5,85 67.1,85.5 66.6,84.9 66.2,85.6 65.7,85.2 65.2,85.8 64.8,86.2 64.3,85.5 63.9,85.6 63.4,85.1 63,84.6 62.5,85.6 62,85.1 61.6,84.8 61.1,85.2 60.7,85.6 60.2,85.2 59.7,85.3 59.3,85.4 58.8,84.9 58.4,85.9 57.9,85.6 57.4,85.4 57,85.8 56.5,85.3 56.1,85.8 55.6,85.6 55.1,85.3 54.7,84.5 54.2,85.6 53.8,85.6 53.3,85.4" fill="#FFB700" stroke="none" stroke-width="0"/>
<polyline points="53.3,83.1 53.8,83.3 54.2,83 54.7,82.4 55.1,82.7 55.6,83.2 56.1,83.1 56.5,83.2 57,83.2 57.4,82.9 57.9,83.2 58.4,83 58.8,82.4 59.3,82.7 59.7,83.2 60.2,83.2 60.7,83.4 61.1,83.1 61.6,82.7 62,83.1 62.5,83 63,82.5 63.4,82.8 63.9,83.1 64.3,83.3 64.8,83.5 65.2,83.1 65.7,82.6 66.2,82.9 66.6,83 67.1,82.7 67.5,82.9 68,83.1 68.5,83.2 68.9,83.5 69.4,83.1 69.8,82.5 70.3,82.8 70.8,83 71.2,82.9 71.7,83.1 72.1,83.1 72.6,83.1 73.1,83.5 73.5,83.1 74,82.4 74.4,82.7 74.9,83 75.4,83 75.8,83.3 76.3,83.1 76.7,83 77.2,83.4 77.7,83.1 78.1,82.5 78.6,82.6 79,82.9 79.5,83.1 80,83.5 80.4,83.1 80.9,82.8 81.3,83.2 81.8,83 82.3,82.2 82.7,81.7 83.2,80.9 83.6,80.3 84.1,80 84.6,78.3 85,76.7 85.5,77.1 85.9,77.3 86.4,77.3 86.8,78.1 87.3,78.7 87.8,79.7 88.2,81.4 88.7,81.3 89.1,80.7 89.6,81.8 90.1,82.6 90.5,83.2 91,84.3 91.4,84.6 91.9,85.4 92.4,87 92.8,86.9 93.3,86.1 93.7,86.6 94.2,87.1 94.7,87.8 95.1,88.4 95.6,87.6 96,87.1 96.5,87.7 97,86.7 97.4,85.1 97.9,84.5 98.3,83.9 98.8,83.9 99.3,84.3 99.7,82.9 100.2,81.7 100.6,81.9 101.1,80.9 101.6,79.7 102,79.2 102.5,78.6 102.9,79 103.4,79.9 103.9,78.9 104.3,78.1 104.8,78.8 105.2,78.9 105.7,79 106.2,79.6 106.6,79.7 107.1,80.8 107.5,82.7 108,82.6 108.4,82.3 108.9,83 109.4,83.5 109.8,84.4 110.3,85.5 110.7,85.6 111.2,86.6 111.7,88.5 112.1,88.5 112.6,88 113,88.3 113.5,88.1 114,88.4 114.4,88.7 114.9,87.6 115.3,87.1 115.8,87.5 116.3,86.3 116.7,84.9 117.2,83.8 117.6,82.6 118.1,82.6 118.6,82.9 119,81.6 119.5,80.6 119.9,80.7 120.4,79.7 120.9,78.8 121.3,78.1 121.8,77.1 122.2,77.7 122.7,78.8 123.2,78.5 123.6,78.4 124.1,79 124.5,79.1 125,79.6 125.5,80.2 125.9,80 126.4,81.4 126.8,83.5 127.3,83.7 127.7,83.8 128.2,84.4 128.7,84.5 129.1,85.5 129.6,86.4 130,86.1 130.5,87 131,88.6 131.4,88.5 131.9,88.2 132.3,87.5 132.8,86.4 133.3,86.6 133.7,86.8 134.2,85.6 134.6,85.3 135.1,85.6 135.6,84.8 136,83.9 136.5,82.8 136.9,81.3 137.4,81.5 137.9,82 138.3,80.8 138.8,80.3 139.2,80.3 139.7,79.5 140.2,79 140.6,78.1 141.1,77.1 141.5,78.6 142,80.6 142.5,81.3 142.9,82.1 143.4,82.7 143.8,82.8 144.3,83.1 144.8,82.9 145.2,82.4 145.7,82.8 146.1,83.4 146.6,83.3 147.1,83.2 147.5,83.1 148,82.7 148.4,83 148.9,83 149.3,82.6 149.8,82.8 150.3,83.3 150.7,83.3 151.2,83.3 151.6,83 152.1,82.5 152.6,82.9 153,83.1 153.5,82.7 153.9,82.9 154.4,83.3 154.9,83.3 155.3,83.4 155.8,83 156.2,82.4 156.7,82.8 157.2,83.2 157.6,82.9 158.1,83.1 158.5,83.2 159,83.1" fill="none" stroke="#FFB700" stroke-width="1.8059999999999998" stroke-linejoin="round"/>
<text x="163.7" y="92.6" font-size="7.85" text-anchor="end"><tspan font-style="italic">ℓ</tspan>2 = 0</text>
<polygon points="42.7,91.1 43.2,91.1 43.6,92.9 44.1,91.5 44.5,93.2 45,91.8 45.5,92.1 45.9,92.5 46.4,91.6 46.8,93.2 47.3,91.7 47.8,92.7 48.2,92 48.7,91.7 49.1,93.5 49.6,91.7 50.1,91.1 50.5,91.2 51,91.3 51.4,92.2 51.9,91.4 52.4,91.4 52.8,93 53.3,93 53.7,92.6 54.2,92.8 54.6,92 55.1,93 55.6,91.5 56,93 56.5,92.6 56.9,93.1 57.4,91.5 57.9,92.2 58.3,91.6 58.8,90.8 59.2,92.8 59.7,93 60.2,93.9 60.6,91.8 61.1,93.1 61.5,92.1 62,91.7 62.5,91 62.9,93.1 63.4,92.1 63.8,92.9 64.3,93.1 64.8,92.1 65.2,92.7 65.7,91.6 66.1,91.3 66.6,92.2 67.1,91.4 67.5,92.3 68,91.7 68.4,93.6 68.9,93.1 69.4,92 69.8,92.4 70.3,93.6 70.7,91.9 71.2,92.7 71.7,90.8 72.1,90.3 72.6,90.7 73,89.7 73.5,86.7 74,86.3 74.4,86 74.9,86.9 75.3,88.4 75.8,88.2 76.2,89 76.7,90.5 77.2,91 77.6,90.5 78.1,92.3 78.5,93.4 79,94.1 79.5,97 79.9,96.7 80.4,97.7 80.8,98.8 81.3,99.1 81.8,99.6 82.2,99.2 82.7,99.7 83.1,101.5 83.6,102.4 84.1,100.9 84.5,100.1 85,100 85.4,98.8 85.9,98.6 86.4,96.9 86.8,95.9 87.3,96.2 87.7,96.5 88.2,95 88.7,92.3 89.1,92.5 89.6,90.8 90,91 90.5,89.6 91,89.4 91.4,89.1 91.9,89.4 92.3,88.2 92.8,87.8 93.3,88 93.7,88.1 94.2,89.3 94.6,90.8 95.1,90.9 95.6,92.1 96,93.6 96.5,93.5 96.9,94 97.4,94.6 97.8,94.4 98.3,96.6 98.8,98.3 99.2,97.7 99.7,98.5 100.1,100 100.6,100.2 101.1,99.9 101.5,99.6 102,98.7 102.4,99.3 102.9,100.8 103.4,100.3 103.8,98.5 104.3,97.3 104.7,96.5 105.2,96 105.7,94.8 106.1,93.5 106.6,93.4 107,93.2 107.5,92.7 108,91 108.4,89.6 108.9,87.7 109.3,88.5 109.8,87.5 110.3,87 110.7,88 111.2,88.3 111.6,89.2 112.1,88.9 112.6,89.1 113,88.9 113.5,91.6 113.9,92.7 114.4,93.3 114.9,93.9 115.3,95.9 115.8,96.1 116.2,97.2 116.7,97.6 117.1,97.9 117.6,98.5 118.1,100.4 118.5,100.8 119,101.7 119.4,102 119.9,101.4 120.4,101.8 120.8,99.8 121.3,99 121.7,98.6 122.2,98.7 122.7,98.3 123.1,96.2 123.6,95 124,94.5 124.5,94.5 125,93.5 125.4,93.2 125.9,94.4 126.3,94.2 126.8,94.3 127.3,94.6 127.7,93.2 128.2,93.8 128.6,93.4 129.1,93.8 129.6,93.5 130,94.2 130.5,93.9 130.9,94.5 131.4,94.3 131.9,94.3 132.3,93.6 132.8,93 133.2,93.9 133.7,93.7 134.2,94.1 134.6,94.8 135.1,94.4 135.5,94.8 136,94.3 136.5,93 136.9,94.3 137.4,94.7 137.8,93.4 138.3,94.2 138.7,93.6 139.2,94.2 139.7,94.5 140.1,94.4 140.6,93.3 141,93.7 141.5,93.7 142,93.5 142.4,94.5 142.9,93.9 143.3,93.2 143.8,94.1 144.3,94.3 144.7,93.6 145.2,93.6 145.6,94.2 146.1,94.7 146.6,94.7 147,94.6 147.5,93.8 147.9,94.3 148.4,94.2 148.4,100.8 147.9,100.6 147.5,100.9 147,101.4 146.6,102 146.1,102.1 145.6,100.7 145.2,100.7 144.7,101 144.3,101.7 143.8,101.5 143.3,100.5 142.9,100.9 142.4,101.2 142,101.6 141.5,101 141,100.4 140.6,100.2 140.1,101.9 139.7,102.3 139.2,101.7 138.7,100.9 138.3,102 137.8,100.7 137.4,101 136.9,101.4 136.5,100.4 136,100.5 135.5,101.3 135.1,101.1 134.6,102 134.2,100.6 133.7,100.9 133.2,100.8 132.8,100.8 132.3,100.2 131.9,100.7 131.4,102.1 130.9,102.2 130.5,101.1 130,101 129.6,101.6 129.1,102 128.6,100.9 128.2,101.5 127.7,101.8 127.3,100.9 126.8,101.8 126.3,102.4 125.9,101.6 125.4,100.1 125,100.4 124.5,101.4 124,100.4 123.6,101.6 123.1,102.7 122.7,103.3 122.2,105.6 121.7,105.3 121.3,104.3 120.8,105.9 120.4,107.1 119.9,107.7 119.4,109 119,107.9 118.5,107.2 118.1,106.6 117.6,105.4 117.1,103.3 116.7,103.9 116.2,103.8 115.8,102 115.3,102.6 114.9,100.5 114.4,98.7 113.9,99 113.5,97.2 113,95.7 112.6,96.5 112.1,96 111.6,94.9 111.2,95.7 110.7,93.6 110.3,93.7 109.8,94.3 109.3,94.9 108.9,94.7 108.4,96.5 108,97.2 107.5,98.2 107,99.8 106.6,100.1 106.1,99.7 105.7,101.2 105.2,102.3 104.7,103.6 104.3,104.5 103.8,104.9 103.4,105.3 102.9,107.6 102.4,105.8 102,106 101.5,106.2 101.1,105.7 100.6,106.1 100.1,105.6 99.7,104.8 99.2,104.9 98.8,104.2 98.3,102.8 97.8,100.7 97.4,100.8 96.9,100.3 96.5,100.7 96,99.8 95.6,99 95.1,97.7 94.6,96.9 94.2,95.7 93.7,95 93.3,94.6 92.8,94.7 92.3,95 91.9,96.3 91.4,95.4 91,95 90.5,96.8 90,96.3 89.6,97.3 89.1,98 88.7,99 88.2,100.2 87.7,102.9 87.3,102.8 86.8,102.3 86.4,103.3 85.9,104.1 85.4,105 85,105.9 84.5,105.8 84.1,107.3 83.6,108.7 83.1,107.6 82.7,106.3 82.2,106.1 81.8,105.4 81.3,104.8 80.8,104.7 80.4,102.9 79.9,102.6 79.5,102.9 79,101 78.5,99.3 78.1,98.5 77.6,97.1 77.2,97.2 76.7,96.7 76.2,95.9 75.8,94.5 75.3,94.6 74.9,93.1 74.4,93.3 74,93.3 73.5,94 73,94.9 72.6,96.9 72.1,96.1 71.7,97.1 71.2,98.8 70.7,100.4 70.3,100.8 69.8,102.4 69.4,103 68.9,104.2 68.4,103.3 68,102.8 67.5,103.9 67.1,103 66.6,102.6 66.1,103.9 65.7,102.1 65.2,102.8 64.8,104 64.3,102.8 63.8,102.3 63.4,102.8 62.9,101.9 62.5,103.2 62,102.1 61.5,103.2 61.1,103 60.6,102.4 60.2,102.6 59.7,103.9 59.2,101.9 58.8,102 58.3,101.4 57.9,103.1 57.4,103.3 56.9,103.8 56.5,103.7 56,103.9 55.6,104 55.1,103.4 54.6,102.7 54.2,102.5 53.7,103.3 53.3,102.7 52.8,103.8 52.4,102.5 51.9,103.1 51.4,101.8 51,103.8 50.5,102.4 50.1,101.4 49.6,102.9 49.1,102.5 48.7,103.4 48.2,103.5 47.8,102.3 47.3,102.8 46.8,102 46.4,102.2 45.9,103.2 45.5,102.2 45,102.9 44.5,103.1 44.1,103.1 43.6,101.7 43.2,102.2 42.7,101.9" fill="#F28A00" stroke="none" stroke-width="0"/>
<polyline points="42.7,97.6 43.2,97.2 43.6,97.4 44.1,97.7 44.5,97.9 45,98.2 45.5,97.7 45.9,97.1 46.4,97.5 46.8,97.6 47.3,97.4 47.8,97.6 48.2,97.7 48.7,97.8 49.1,98.2 49.6,97.7 50.1,97.1 50.5,97.4 51,97.6 51.4,97.6 51.9,97.8 52.4,97.7 52.8,97.7 53.3,98.1 53.7,97.7 54.2,97.1 54.6,97.3 55.1,97.5 55.6,97.7 56,98 56.5,97.7 56.9,97.5 57.4,97.9 57.9,97.6 58.3,97.1 58.8,97.3 59.2,97.5 59.7,97.8 60.2,98.2 60.6,97.7 61.1,97.4 61.5,97.7 62,97.6 62.5,97.2 62.9,97.4 63.4,97.4 63.8,97.8 64.3,98.2 64.8,97.8 65.2,97.3 65.7,97.5 66.1,97.5 66.6,97.4 67.1,97.6 67.5,97.5 68,97.7 68.4,98.3 68.9,98 69.4,97.4 69.8,97.3 70.3,96.8 70.7,96.2 71.2,95.6 71.7,94.1 72.1,93.5 72.6,93.7 73,92.2 73.5,90.5 74,90 74.4,89.6 74.9,90.5 75.3,91.8 75.8,91.6 76.2,92.2 76.7,93.9 77.2,94.1 77.6,94.2 78.1,95.2 78.5,96 79,97.9 79.5,99.8 79.9,99.9 80.4,100.3 80.8,101.7 81.3,102 81.8,102.2 82.2,102.8 82.7,102.9 83.1,104.2 83.6,105.5 84.1,104.2 84.5,103 85,102.7 85.4,101.8 85.9,101.1 86.4,100.5 86.8,99.2 87.3,99 87.7,99.3 88.2,97.7 88.7,95.9 89.1,95 89.6,93.9 90,93.6 90.5,93.3 91,92 91.4,92 91.9,92.7 92.3,91.8 92.8,91.3 93.3,91.5 93.7,91.6 94.2,93 94.6,94.5 95.1,94.4 95.6,95.3 96,96.8 96.5,97.1 96.9,97.3 97.4,97.7 97.8,97.9 98.3,99.6 98.8,101.3 99.2,101.3 99.7,101.7 100.1,102.7 100.6,102.8 101.1,103.2 101.5,103.3 102,102.4 102.4,103 102.9,103.8 103.4,102.7 103.8,101.7 104.3,101 104.7,99.7 105.2,99.2 105.7,98.2 106.1,96.5 106.6,96.3 107,96.6 107.5,95.3 108,94 108.4,92.8 108.9,91.5 109.3,91.6 109.8,91.4 110.3,90.1 110.7,90.7 111.2,92.1 111.6,92.3 112.1,92.6 112.6,92.6 113,92.6 113.5,94.3 113.9,95.8 114.4,96 114.9,97.2 115.3,98.8 115.8,99.4 116.2,100.3 116.7,100.5 117.1,100.4 117.6,102.1 118.1,103.8 118.5,103.9 119,104.6 119.4,105.2 119.9,104.7 120.4,104.4 120.8,103.3 121.3,101.6 121.7,101.8 122.2,102 122.7,100.9 123.1,99.8 123.6,98.6 124,97.4 124.5,97.4 125,97.1 125.4,96.7 125.9,97.4 126.3,98 126.8,97.9 127.3,97.9 127.7,97.6 128.2,97.2 128.6,97.6 129.1,97.6 129.6,97.2 130,97.5 130.5,97.9 130.9,97.9 131.4,98 131.9,97.5 132.3,97 132.8,97.5 133.2,97.7 133.7,97.4 134.2,97.6 134.6,97.8 135.1,97.8 135.5,98 136,97.5 136.5,97 136.9,97.4 137.4,97.7 137.8,97.6 138.3,97.8 138.7,97.8 139.2,97.7 139.7,97.9 140.1,97.6 140.6,97 141,97.3 141.5,97.7 142,97.8 142.4,97.9 142.9,97.7 143.3,97.5 143.8,97.8 144.3,97.6 144.7,97 145.2,97.3 145.6,97.7 146.1,97.9 146.6,98.1 147,97.7 147.5,97.3 147.9,97.7 148.4,97.6" fill="none" stroke="#F28A00" stroke-width="2.52" stroke-linejoin="round"/>
<text x="153.1" y="107.2" font-size="7.85" text-anchor="end"><tspan font-style="italic">ℓ</tspan>2 = 2</text>
<polygon points="32.1,110 32.6,109.2 33,109.4 33.5,110.4 33.9,109.8 34.4,108.8 34.9,109.6 35.3,109.4 35.8,109.3 36.2,109.7 36.7,110 37.2,109.5 37.6,110.4 38.1,109.7 38.5,109.3 39,110 39.5,109.5 39.9,109.5 40.4,109.7 40.8,109.5 41.3,109.7 41.8,109.4 42.2,109.6 42.7,108.7 43.1,110 43.6,110.1 44,110.3 44.5,109.8 45,109.2 45.4,109.1 45.9,109.9 46.3,108.9 46.8,108.8 47.3,109.2 47.7,109.4 48.2,110.5 48.6,110.2 49.1,108.9 49.6,108.9 50,109.3 50.5,109.7 50.9,109 51.4,109.6 51.9,110 52.3,110 52.8,110.3 53.2,109.1 53.7,109.4 54.2,109.4 54.6,108.9 55.1,110 55.5,110.2 56,109.7 56.5,109.8 56.9,110.4 57.4,109.3 57.8,108.8 58.3,109.7 58.8,109.6 59.2,110.4 59.7,110.3 60.1,109.8 60.6,110.7 61.1,112 61.5,113 62,113.2 62.4,115.7 62.9,115.4 63.4,117.3 63.8,116.7 64.3,114.7 64.7,113.6 65.2,113.4 65.6,111.9 66.1,111.3 66.6,110.5 67,108.5 67.5,109.3 67.9,107.9 68.4,106.2 68.9,104.3 69.3,104.1 69.8,102.6 70.2,102.8 70.7,102.2 71.2,101.6 71.6,102.8 72.1,103.5 72.5,102.9 73,103.6 73.5,104.8 73.9,105.3 74.4,107 74.8,108.3 75.3,109.1 75.8,110.7 76.2,111.9 76.7,111.9 77.1,112.6 77.6,113.9 78.1,114.6 78.5,116.9 79,117.5 79.4,117 79.9,118.7 80.4,118.5 80.8,117.6 81.3,116.5 81.7,114.7 82.2,113.9 82.7,114.2 83.1,113.6 83.6,111.6 84,111 84.5,109.3 85,108.1 85.4,107.5 85.9,106.5 86.3,104.8 86.8,106.2 87.2,105.7 87.7,104.1 88.2,103.3 88.6,103.3 89.1,102.4 89.5,104.2 90,104.3 90.5,104.2 90.9,106.2 91.4,107.7 91.8,107.8 92.3,107.8 92.8,108.3 93.2,109.1 93.7,110.9 94.1,111.5 94.6,111.6 95.1,114.5 95.5,115.4 96,115 96.4,115.6 96.9,115.5 97.4,116.5 97.8,118.2 98.3,117.6 98.7,115.9 99.2,115.6 99.7,115 100.1,113.7 100.6,113.4 101,111.4 101.5,109.8 102,110.8 102.4,109.4 102.9,107.8 103.3,107.1 103.8,106 104.3,105.4 104.7,104.2 105.2,103.1 105.6,101.5 106.1,103.1 106.5,103.3 107,103.1 107.5,103.4 107.9,103.3 108.4,103.4 108.8,105 109.3,105.1 109.8,106.4 110.2,108.6 110.7,109.9 111.1,111.5 111.6,111.9 112.1,112.4 112.5,113 113,115 113.4,116.4 113.9,116.6 114.4,117.8 114.8,119.1 115.3,119 115.7,118.3 116.2,116.2 116.7,113.9 117.1,112.9 117.6,111.7 118,109.2 118.5,109.2 119,108.8 119.4,108.3 119.9,107.4 120.3,107.6 120.8,106.9 121.3,107.9 121.7,108.6 122.2,107.7 122.6,107.6 123.1,108.5 123.6,107.7 124,108.1 124.5,107.6 124.9,108.3 125.4,108.5 125.9,108.4 126.3,108.8 126.8,108.7 127.2,108.8 127.7,108 128.1,108.2 128.6,108.4 129.1,108 129.5,107.7 130,107.6 130.4,107.7 130.9,109.2 131.4,107.7 131.8,108 132.3,108.3 132.7,108.7 133.2,107.1 133.7,108.6 134.1,108.9 134.6,108.1 135,108.7 135.5,107.6 136,107.4 136.4,107.7 136.9,107.9 137.3,107.5 137.8,108.5 137.8,115.8 137.3,116.9 136.9,115.5 136.4,117.1 136,115.3 135.5,116.6 135,116.1 134.6,116.2 134.1,116.1 133.7,115.5 133.2,115.6 132.7,116.1 132.3,117 131.8,116.4 131.4,116.9 130.9,116.1 130.4,116.8 130,116.3 129.5,116.4 129.1,115.5 128.6,115.2 128.1,116.1 127.7,116 127.2,116.8 126.8,115.9 126.3,116.1 125.9,116.3 125.4,117.2 124.9,115.4 124.5,115.8 124,116.2 123.6,116.3 123.1,116.8 122.6,116.8 122.2,117.1 121.7,116.1 121.3,116.6 120.8,116.2 120.3,116.3 119.9,115.7 119.4,117.3 119,116.6 118.5,116.6 118,116.4 117.6,117.2 117.1,119.6 116.7,118.6 116.2,120.8 115.7,122.8 115.3,123.8 114.8,123.5 114.4,122.3 113.9,121.6 113.4,120.6 113,120.3 112.5,118 112.1,116.8 111.6,116.8 111.1,116.3 110.7,114.6 110.2,113.8 109.8,110.6 109.3,109.9 108.8,110.4 108.4,108.6 107.9,107.6 107.5,108.2 107,107.6 106.5,108 106.1,107 105.6,106.7 105.2,107.5 104.7,108.9 104.3,110.2 103.8,111.2 103.3,111.6 102.9,112.4 102.4,115 102,115.1 101.5,115.1 101,116.3 100.6,118.1 100.1,119.3 99.7,120.3 99.2,121 98.7,120.9 98.3,122 97.8,122.6 97.4,120.9 96.9,120.1 96.4,120.3 96,120.4 95.5,119.8 95.1,119.2 94.6,117.2 94.1,116.2 93.7,116 93.2,114.2 92.8,112.6 92.3,112.2 91.8,112.2 91.4,112.3 90.9,111.1 90.5,108.8 90,108.4 89.5,109 89.1,107.6 88.6,107.4 88.2,108.1 87.7,108.9 87.2,110.5 86.8,110.7 86.3,109.8 85.9,110.5 85.4,112.6 85,112.9 84.5,114.6 84,115.7 83.6,116.8 83.1,118.3 82.7,119.6 82.2,119.6 81.7,120.4 81.3,121.1 80.8,121.7 80.4,123.2 79.9,123.2 79.4,121.9 79,122.8 78.5,121.5 78.1,119.4 77.6,118.6 77.1,117.6 76.7,117.4 76.2,116.5 75.8,115.2 75.3,113.1 74.8,113.6 74.4,111.7 73.9,109.7 73.5,109.1 73,108.4 72.5,108.6 72.1,108.9 71.6,107.8 71.2,105.7 70.7,107.3 70.2,107.5 69.8,107.5 69.3,108.4 68.9,109.7 68.4,111 67.9,113.5 67.5,114 67,113.4 66.6,115.1 66.1,115.5 65.6,116.6 65.2,118.8 64.7,119 64.3,119.1 63.8,121.1 63.4,121.7 62.9,120.8 62.4,120.3 62,119 61.5,117 61.1,116.6 60.6,115.7 60.1,114.5 59.7,115.4 59.2,114.9 58.8,114.3 58.3,114.3 57.8,114.8 57.4,114.6 56.9,115.4 56.5,115.3 56,115.1 55.5,115.1 55.1,115.4 54.6,114.5 54.2,114.6 53.7,114.1 53.2,114.8 52.8,114.9 52.3,114.8 51.9,114.6 51.4,114.6 50.9,114.9 50.5,114.7 50,115.1 49.6,113.9 49.1,114.2 48.6,115.4 48.2,115.5 47.7,114.8 47.3,115.1 46.8,114.8 46.3,114.5 45.9,114.4 45.4,115 45,114.5 44.5,114.8 44,115.7 43.6,115.2 43.1,114.4 42.7,114.5 42.2,114 41.8,115.4 41.3,114.2 40.8,114.9 40.4,114.9 39.9,115.2 39.5,114.5 39,114.5 38.5,114.1 38.1,114.2 37.6,114.6 37.2,115.2 36.7,115.3 36.2,114.7 35.8,114.8 35.3,114.6 34.9,114.9 34.4,114.1 33.9,114.7 33.5,115 33,115.5 32.6,115.2 32.1,114.9" fill="#E8470C" stroke="none" stroke-width="0"/>
<polyline points="32.1,112.4 32.6,112.3 33,112.5 33.5,112.6 33.9,111.9 34.4,111.6 34.9,112.1 35.3,112.2 35.8,112.3 36.2,112.5 36.7,112.2 37.2,112.3 37.6,112.5 38.1,111.9 38.5,111.6 39,112.1 39.5,112.3 39.9,112.5 40.4,112.6 40.8,112.1 41.3,112.2 41.8,112.4 42.2,111.9 42.7,111.8 43.1,112.1 43.6,112.2 44,112.6 44.5,112.7 45,112 45.4,112 45.9,112.3 46.3,112 46.8,111.9 47.3,112.1 47.7,112.2 48.2,112.6 48.6,112.7 49.1,112 49.6,111.8 50,112.1 50.5,112 50.9,112.1 51.4,112.3 51.9,112.1 52.3,112.6 52.8,112.7 53.2,112 53.7,111.7 54.2,112 54.6,112.1 55.1,112.3 55.5,112.4 56,112.1 56.5,112.4 56.9,112.6 57.4,112 57.8,111.8 58.3,111.9 58.8,112 59.2,112.5 59.7,112.6 60.1,112.3 60.6,113.1 61.1,114.4 61.5,115.1 62,116.2 62.4,117.7 62.9,118.3 63.4,119.3 63.8,119 64.3,117.2 64.7,116.4 65.2,116 65.6,114.5 66.1,113.4 66.6,112.4 67,111.3 67.5,111.4 67.9,110.7 68.4,108.3 68.9,107 69.3,106.3 69.8,105.3 70.2,105.1 70.7,104.5 71.2,103.8 71.6,105.3 72.1,106.3 72.5,105.7 73,106 73.5,106.9 73.9,107.8 74.4,109.6 74.8,110.7 75.3,111.1 75.8,113.1 76.2,114.6 76.7,114.6 77.1,115.3 77.6,116.1 78.1,117.1 78.5,119.2 79,120.1 79.4,119.9 79.9,120.9 80.4,121 80.8,119.7 81.3,118.8 81.7,117.6 82.2,116.7 82.7,117.1 83.1,116.3 83.6,114.2 84,113.2 84.5,112.2 85,110.7 85.4,109.8 85.9,108.4 86.3,107.4 86.8,108.1 87.2,108 87.7,106.4 88.2,105.8 88.6,105.3 89.1,105.2 89.5,106.2 90,106.4 90.5,106.7 90.9,108.6 91.4,109.8 91.8,109.8 92.3,110.3 92.8,110.6 93.2,111.4 93.7,113.4 94.1,114.2 94.6,114.6 95.1,116.5 95.5,117.7 96,117.9 96.4,118.3 96.9,118.2 97.4,118.6 97.8,120.1 98.3,119.8 98.7,118.6 99.2,118.5 99.7,117.8 100.1,116.5 100.6,115.5 101,113.6 101.5,112.4 102,112.8 102.4,112.1 102.9,110.4 103.3,109.6 103.8,108.5 104.3,107.4 104.7,106.8 105.2,105.2 105.6,104.2 106.1,105.1 106.5,105.3 107,105.2 107.5,105.6 107.9,105.6 108.4,106.2 108.8,107.6 109.3,108 109.8,108.6 110.2,111 110.7,112.7 111.1,113.5 111.6,114.5 112.1,114.8 112.5,115.7 113,117.8 113.4,118.4 113.9,118.7 114.4,120.3 114.8,121.2 115.3,121.3 115.7,120.6 116.2,118.2 116.7,116.5 117.1,115.9 117.6,114.4 118,113.1 118.5,112.7 119,112.4 119.4,112.4 119.9,112.4 120.3,111.8 120.8,111.6 121.3,112.3 121.7,112.4 122.2,112.3 122.6,112.4 123.1,112.2 123.6,112.2 124,112.4 124.5,111.8 124.9,111.6 125.4,112.2 125.9,112.5 126.3,112.5 126.8,112.5 127.2,112.1 127.7,112.1 128.1,112.4 128.6,111.9 129.1,111.7 129.5,112.2 130,112.5 130.4,112.6 130.9,112.6 131.4,111.9 131.8,111.9 132.3,112.3 132.7,112.1 133.2,111.9 133.7,112.3 134.1,112.4 134.6,112.6 135,112.6 135.5,111.9 136,111.7 136.4,112.2 136.9,112.2 137.3,112.1 137.8,112.4" fill="none" stroke="#E8470C" stroke-width="1.9319999999999997" stroke-linejoin="round"/>
<text x="142.5" y="121.8" font-size="7.85" text-anchor="end"><tspan font-style="italic">ℓ</tspan>2 = 2</text>
<polyline points="196,1.4 90.3,1.4 26.9,89 26.9,148.1 132.6,148.1 196,60.5" fill="none" stroke="#1f1f1f" stroke-width="0.8" stroke-linejoin="miter"/>
<line x1="26.9" y1="148.1" x2="26.9" y2="150.4" stroke="#1f1f1f" stroke-width="0.8"/>
<text x="26.9" y="158.4" font-size="8.2" text-anchor="middle" fill="#000">0</text>
<line x1="37.5" y1="148.1" x2="37.5" y2="149.5" stroke="#1f1f1f" stroke-width="0.7"/>
<line x1="48" y1="148.1" x2="48" y2="150.4" stroke="#1f1f1f" stroke-width="0.8"/>
<text x="48" y="158.4" font-size="8.2" text-anchor="middle" fill="#000">2</text>
<line x1="58.6" y1="148.1" x2="58.6" y2="149.5" stroke="#1f1f1f" stroke-width="0.7"/>
<line x1="69.2" y1="148.1" x2="69.2" y2="150.4" stroke="#1f1f1f" stroke-width="0.8"/>
<text x="69.2" y="158.4" font-size="8.2" text-anchor="middle" fill="#000">4</text>
<line x1="79.8" y1="148.1" x2="79.8" y2="149.5" stroke="#1f1f1f" stroke-width="0.7"/>
<line x1="90.3" y1="148.1" x2="90.3" y2="150.4" stroke="#1f1f1f" stroke-width="0.8"/>
<text x="90.3" y="158.4" font-size="8.2" text-anchor="middle" fill="#000">6</text>
<line x1="100.9" y1="148.1" x2="100.9" y2="149.5" stroke="#1f1f1f" stroke-width="0.7"/>
<line x1="111.5" y1="148.1" x2="111.5" y2="150.4" stroke="#1f1f1f" stroke-width="0.8"/>
<text x="111.5" y="158.4" font-size="8.2" text-anchor="middle" fill="#000">8</text>
<line x1="122" y1="148.1" x2="122" y2="149.5" stroke="#1f1f1f" stroke-width="0.7"/>
<line x1="132.6" y1="148.1" x2="132.6" y2="150.4" stroke="#1f1f1f" stroke-width="0.8"/>
<text x="132.6" y="158.4" font-size="8.2" text-anchor="middle" fill="#000">10</text>
<line x1="24.6" y1="148.1" x2="26.9" y2="148.1" stroke="#1f1f1f" stroke-width="0.8"/>
<text x="23.7" y="151" font-size="8.2" text-anchor="end" fill="#000">0.0</text>
<line x1="24.6" y1="118.5" x2="26.9" y2="118.5" stroke="#1f1f1f" stroke-width="0.8"/>
<text x="23.7" y="121.5" font-size="8.2" text-anchor="end" fill="#000">0.5</text>
<line x1="24.6" y1="89" x2="26.9" y2="89" stroke="#1f1f1f" stroke-width="0.8"/>
<text x="23.7" y="91.9" font-size="8.2" text-anchor="end" fill="#000">1.0</text>
<line x1="25.5" y1="133.3" x2="26.9" y2="133.3" stroke="#1f1f1f" stroke-width="0.7"/>
<line x1="25.5" y1="103.8" x2="26.9" y2="103.8" stroke="#1f1f1f" stroke-width="0.7"/>
<text x="79.8" y="165.5" font-size="7.7" text-anchor="middle" fill="#000">Time (s)</text>
<text transform="translate(7.3,127.5) rotate(-90)" font-size="7.7" text-anchor="middle">Rel. Amp. (arb. units)</text>
<line x1="138.7" y1="140.2" x2="141.1" y2="140.2" stroke="#1f1f1f" stroke-width="0.8"/>
<text x="143.3" y="142.8" font-size="7.95" text-anchor="start" fill="#000">v = 5 cm/s</text>
<line x1="149.3" y1="125.6" x2="151.7" y2="125.6" stroke="#1f1f1f" stroke-width="0.8"/>
<text x="153.9" y="128.2" font-size="7.95" text-anchor="start" fill="#000">v = −5 cm/s</text>
<line x1="159.9" y1="111" x2="162.3" y2="111" stroke="#1f1f1f" stroke-width="0.8"/>
<text x="164.5" y="113.6" font-size="7.95" text-anchor="start" fill="#000">v = 5 cm/s</text>
<line x1="170.5" y1="96.4" x2="172.9" y2="96.4" stroke="#1f1f1f" stroke-width="0.8"/>
<text x="175.1" y="99" font-size="7.95" text-anchor="start" fill="#000">v = 10 cm/s</text>
<line x1="181.1" y1="81.8" x2="183.5" y2="81.8" stroke="#1f1f1f" stroke-width="0.8"/>
<text x="185.7" y="84.4" font-size="7.95" text-anchor="start" fill="#000">v = −10 cm/s</text>
<line x1="191.7" y1="67.2" x2="194.1" y2="67.2" stroke="#1f1f1f" stroke-width="0.8"/>
<text x="196.3" y="69.8" font-size="7.95" text-anchor="start" fill="#000">v = 10 cm/s</text>
<text x="11" y="15.7" font-size="10.6" text-anchor="start" fill="#000" font-weight="bold">a</text>
<polygon points="313.7,60.5 419.4,60.5 419.4,1.4 313.7,1.4" fill="#FFFEE8" stroke="none" stroke-width="0"/>
<polygon points="250.3,148.1 356,148.1 419.4,60.5 313.7,60.5" fill="#F5F5F5" stroke="none" stroke-width="0"/>
<clipPath id="w223_0"><rect x="0" y="84.2" width="685" height="486"/></clipPath>
<g clip-path="url(#w223_0)">
<polygon points="250.3,148.1 250.3,89 313.7,1.4 313.7,60.5" fill="#FEF5F5" stroke="none" stroke-width="0"/>
<polygon points="313.7,60.5 419.4,60.5 419.4,1.4 313.7,1.4" fill="#FDF2E9" stroke="none" stroke-width="0"/>
</g>
<line x1="334.8" y1="60.5" x2="334.8" y2="1.4" stroke="#D9D9D9" stroke-width="0.5"/>
<line x1="271.4" y1="148.1" x2="334.8" y2="60.5" stroke="#D9D9D9" stroke-width="0.5"/>
<line x1="356" y1="60.5" x2="356" y2="1.4" stroke="#D9D9D9" stroke-width="0.5"/>
<line x1="292.6" y1="148.1" x2="356" y2="60.5" stroke="#D9D9D9" stroke-width="0.5"/>
<line x1="377.1" y1="60.5" x2="377.1" y2="1.4" stroke="#D9D9D9" stroke-width="0.5"/>
<line x1="313.7" y1="148.1" x2="377.1" y2="60.5" stroke="#D9D9D9" stroke-width="0.5"/>
<line x1="398.3" y1="60.5" x2="398.3" y2="1.4" stroke="#D9D9D9" stroke-width="0.5"/>
<line x1="334.9" y1="148.1" x2="398.3" y2="60.5" stroke="#D9D9D9" stroke-width="0.5"/>
<line x1="313.7" y1="31" x2="419.4" y2="31" stroke="#D9D9D9" stroke-width="0.5"/>
<line x1="250.3" y1="118.5" x2="313.7" y2="31" stroke="#D9D9D9" stroke-width="0.5"/>
<line x1="256.4" y1="140.2" x2="362.1" y2="140.2" stroke="#D9D9D9" stroke-width="0.5"/>
<line x1="256.4" y1="140.2" x2="256.4" y2="81.1" stroke="#D9D9D9" stroke-width="0.5"/>
<line x1="267" y1="125.6" x2="372.7" y2="125.6" stroke="#D9D9D9" stroke-width="0.5"/>
<line x1="267" y1="125.6" x2="267" y2="66.5" stroke="#D9D9D9" stroke-width="0.5"/>
<line x1="277.6" y1="111" x2="383.3" y2="111" stroke="#D9D9D9" stroke-width="0.5"/>
<line x1="277.6" y1="111" x2="277.6" y2="51.9" stroke="#D9D9D9" stroke-width="0.5"/>
<line x1="288.2" y1="96.4" x2="393.9" y2="96.4" stroke="#D9D9D9" stroke-width="0.5"/>
<line x1="288.2" y1="96.4" x2="288.2" y2="37.3" stroke="#D9D9D9" stroke-width="0.5"/>
<line x1="298.8" y1="81.8" x2="404.5" y2="81.8" stroke="#D9D9D9" stroke-width="0.5"/>
<line x1="298.8" y1="81.8" x2="298.8" y2="22.7" stroke="#D9D9D9" stroke-width="0.5"/>
<line x1="309.4" y1="67.2" x2="415.1" y2="67.2" stroke="#D9D9D9" stroke-width="0.5"/>
<line x1="309.4" y1="67.2" x2="309.4" y2="8.1" stroke="#D9D9D9" stroke-width="0.5"/>
<line x1="419.4" y1="60.5" x2="419.4" y2="1.4" stroke="#BDBDBD" stroke-width="0.6"/>
<line x1="313.7" y1="60.5" x2="419.4" y2="60.5" stroke="#BDBDBD" stroke-width="0.6"/>
<line x1="313.7" y1="60.5" x2="313.7" y2="1.4" stroke="#BDBDBD" stroke-width="0.6"/>
<line x1="250.3" y1="148.1" x2="313.7" y2="60.5" stroke="#BDBDBD" stroke-width="0.6"/>
<polygon points="308.5,36.9 309,36.6 309.4,37.3 309.9,37.1 310.3,36.8 310.8,37.3 311.3,37.4 311.7,37.2 312.2,37.3 312.6,37.4 313.1,36.6 313.6,36.6 314,37 314.5,37.1 314.9,37.3 315.4,36.8 315.9,36.7 316.3,37.3 316.8,37.3 317.2,36.9 317.7,36.8 318.2,36.9 318.6,36.7 319.1,36.8 319.5,37.1 320,37 320.4,37.7 320.9,37.4 321.4,36.8 321.8,36.5 322.3,36.7 322.7,37.4 323.2,37.6 323.7,37.1 324.1,36.6 324.6,37.6 325,37.1 325.5,37.4 326,36.7 326.4,36.5 326.9,36.8 327.3,37 327.8,37.4 328.3,37.4 328.7,37.6 329.2,37.3 329.6,37.4 330.1,37.1 330.6,36.5 331,37.2 331.5,37.5 331.9,37.6 332.4,36.8 332.9,37.3 333.3,37.4 333.8,37.3 334.2,36.7 334.7,36.7 335.2,37.1 335.6,37.3 336.1,37.7 336.5,37 337,37 337.5,37.3 337.9,37.1 338.4,36.8 338.8,36.7 339.3,37.1 339.8,37.7 340.2,37.8 340.7,37.5 341.1,37.4 341.6,36.8 342,37.1 342.5,37 343,36.7 343.4,37.2 343.9,37.1 344.3,37.3 344.8,37.2 345.3,37.5 345.7,37.1 346.2,38.4 346.6,42.2 347.1,46.5 347.6,47.2 348,44.6 348.5,40.8 348.9,36.2 349.4,32.5 349.9,28.9 350.3,27.8 350.8,30.8 351.2,34.2 351.7,37.7 352.2,41.7 352.6,44.9 353.1,47.3 353.5,47.4 354,44.4 354.5,41.2 354.9,38.2 355.4,34.7 355.8,31.3 356.3,28.9 356.8,29.8 357.2,32.6 357.7,36.3 358.1,39.8 358.6,43.1 359.1,46.7 359.5,48.5 360,46.3 360.4,43.2 360.9,39.1 361.4,35.1 361.8,32.3 362.3,29.7 362.7,29.1 363.2,32 363.6,35.3 364.1,38.8 364.6,42.1 365,44.5 365.5,46.4 365.9,46 366.4,43.5 366.9,40.4 367.3,37.2 367.8,34.3 368.2,31.9 368.7,30.7 369.2,31.5 369.6,33.8 370.1,37.4 370.5,40.8 371,43.4 371.5,46 371.9,46.5 372.4,44.4 372.8,41.9 373.3,37.9 373.8,34.3 374.2,31.9 374.7,29.7 375.1,30.2 375.6,32.6 376.1,35.6 376.5,39.6 377,43.6 377.4,45.4 377.9,44.1 378.4,40.7 378.8,37.5 379.3,36.9 379.7,37.3 380.2,36.4 380.7,36.8 381.1,37 381.6,36.5 382,36.8 382.5,36.6 382.9,37.1 383.4,36.6 383.9,36.5 384.3,36.8 384.8,36.8 385.2,36.6 385.7,36.8 386.2,36.4 386.6,37.4 387.1,36.9 387.5,36.7 388,37 388.5,36.7 388.9,36.6 389.4,36.7 389.8,37 390.3,36.7 390.8,36.7 391.2,37.2 391.7,37.4 392.1,37.4 392.6,36.4 393.1,37 393.5,36.6 394,37.3 394.4,37.1 394.9,36.5 395.4,36.4 395.8,37 396.3,37.5 396.7,36.9 397.2,36.8 397.7,36.4 398.1,36.9 398.6,37.5 399,36.7 399.5,36.3 400,37.1 400.4,36.8 400.9,36.8 401.3,36.6 401.8,36.5 402.3,36.4 402.7,37.6 403.2,37 403.6,36.6 404.1,36.9 404.5,37 405,36.4 405.5,36.9 405.9,36.9 406.4,37.3 406.8,36.9 407.3,36.7 407.8,36.6 408.2,36.2 408.7,36.5 409.1,36.6 409.6,37.1 410.1,36.6 410.5,36.4 411,37.4 411.4,36.7 411.9,36.8 412.4,36.9 412.8,36.5 413.3,37.2 413.7,37.5 414.2,37.2 414.2,41.4 413.7,42.1 413.3,41.7 412.8,41.1 412.4,41.8 411.9,41.6 411.4,42.2 411,41.3 410.5,41.2 410.1,41.3 409.6,41.4 409.1,41.7 408.7,41.5 408.2,41.4 407.8,41.1 407.3,41.3 406.8,41.3 406.4,41.5 405.9,42 405.5,42 405,41.6 404.5,41.8 404.1,41.7 403.6,41.2 403.2,41.7 402.7,41.6 402.3,41.6 401.8,41.2 401.3,41.3 400.9,41.4 400.4,41.5 400,41 399.5,41.2 399,42.1 398.6,41.6 398.1,41.5 397.7,41.6 397.2,41.1 396.7,41.1 396.3,42.2 395.8,41.6 395.4,41.1 394.9,42 394.4,41.8 394,41.8 393.5,41.5 393.1,41.5 392.6,41.4 392.1,41.3 391.7,42 391.2,41.3 390.8,42 390.3,41.7 389.8,41.1 389.4,41.8 388.9,41.6 388.5,41.3 388,42.1 387.5,41.6 387.1,41.6 386.6,41.7 386.2,41.8 385.7,41.5 385.2,41.5 384.8,40.9 384.3,41.5 383.9,41.9 383.4,41.4 382.9,41.8 382.5,41.5 382,41.6 381.6,41.2 381.1,41.5 380.7,41 380.2,41.5 379.7,41.6 379.3,42.1 378.8,41.8 378.4,44 377.9,46.8 377.4,47 377,45.2 376.5,41 376.1,37.2 375.6,34.2 375.1,31.9 374.7,31.3 374.2,33.7 373.8,36 373.3,39.7 372.8,43.4 372.4,46.2 371.9,47.9 371.5,47.5 371,45.1 370.5,42.5 370.1,39.1 369.6,35.7 369.2,33.2 368.7,32.3 368.2,33.6 367.8,36 367.3,39.1 366.9,41.9 366.4,45.1 365.9,47.8 365.5,48.1 365,46.1 364.6,43.8 364.1,40.5 363.6,37.1 363.2,33.7 362.7,30.8 362.3,31.3 361.8,34.2 361.4,36.9 360.9,40.7 360.4,45 360,48 359.5,50.1 359.1,48.3 358.6,45 358.1,41.3 357.7,37.9 357.2,34.3 356.8,31.7 356.3,30.6 355.8,32.8 355.4,36.3 354.9,40.1 354.5,42.8 354,46.3 353.5,49.3 353.1,49 352.6,46.7 352.2,43.2 351.7,39.3 351.2,35.7 350.8,32.3 350.3,29.3 349.9,30.8 349.4,34.3 348.9,38 348.5,42.4 348,46.2 347.6,48.9 347.1,48.7 346.6,44.8 346.2,41.8 345.7,41.4 345.3,41.7 344.8,41 344.3,41.3 343.9,41 343.4,41.5 343,40.9 342.5,41.7 342,41.5 341.6,40.7 341.1,40.9 340.7,41.5 340.2,41.9 339.8,41.9 339.3,40.7 338.8,41.6 338.4,41 337.9,41.4 337.5,41.6 337,41.6 336.5,41.3 336.1,41.7 335.6,41.9 335.2,41 334.7,41.4 334.2,41 333.8,41.5 333.3,41.4 332.9,41.8 332.4,41.4 331.9,41.2 331.5,41.4 331,40.9 330.6,41.2 330.1,41.6 329.6,41.3 329.2,41.8 328.7,41.5 328.3,41.5 327.8,41.8 327.3,41.4 326.9,41 326.4,41.1 326,40.9 325.5,40.8 325,41.9 324.6,41.2 324.1,41.1 323.7,41.1 323.2,41.4 322.7,40.8 322.3,40.8 321.8,40.9 321.4,41.1 320.9,41.7 320.4,41.1 320,41.6 319.5,41.1 319.1,41.7 318.6,41 318.2,41.5 317.7,41 317.2,41.1 316.8,41.7 316.3,41.6 315.9,41.2 315.4,40.8 314.9,40.9 314.5,40.8 314,41.5 313.6,40.9 313.1,41.3 312.6,41.1 312.2,41.3 311.7,41.2 311.3,41.3 310.8,41 310.3,41 309.9,41.3 309.4,41.6 309,41 308.5,41.6" fill="#6A1FC2" stroke="none" stroke-width="0"/>
<polyline points="308.5,39.4 309,39.1 309.4,39.3 309.9,39.3 310.3,39.1 310.8,39 311.3,39.1 311.7,39.1 312.2,39.4 312.6,39.4 313.1,39.1 313.6,39.2 314,39.2 314.5,39.1 314.9,39.1 315.4,39.1 315.9,39.1 316.3,39.5 316.8,39.5 317.2,39.1 317.7,39.1 318.2,39.1 318.6,39.1 319.1,39.2 319.5,39.2 320,39.1 320.4,39.4 320.9,39.5 321.4,39.1 321.8,39.1 322.3,39.1 322.7,39.1 323.2,39.3 323.7,39.2 324.1,39.1 324.6,39.4 325,39.4 325.5,39.1 326,39.1 326.4,39 326.9,39.1 327.3,39.4 327.8,39.3 328.3,39.1 328.7,39.3 329.2,39.3 329.6,39.1 330.1,39.1 330.6,39 331,39 331.5,39.4 331.9,39.4 332.4,39.2 332.9,39.2 333.3,39.2 333.8,39.1 334.2,39.1 334.7,39 335.2,39 335.6,39.4 336.1,39.5 336.5,39.2 337,39.2 337.5,39.1 337.9,39.1 338.4,39.2 338.8,39.1 339.3,39.1 339.8,39.4 340.2,39.5 340.7,39.2 341.1,39.2 341.6,39 342,39 342.5,39.3 343,39.2 343.4,39.1 343.9,39.4 344.3,39.4 344.8,39.2 345.3,39.2 345.7,39 346.2,40 346.6,43.4 347.1,47.5 347.6,47.9 348,45.5 348.5,41.6 348.9,37.2 349.4,33.3 349.9,29.8 350.3,28.5 350.8,31.6 351.2,34.9 351.7,38.5 352.2,42.5 352.6,45.8 353.1,48.1 353.5,48.3 354,45.4 354.5,42 354.9,39.1 355.4,35.5 355.8,32.1 356.3,30 356.8,30.7 357.2,33.4 357.7,37.1 358.1,40.6 358.6,44.1 359.1,47.7 359.5,49.4 360,47.2 360.4,44 360.9,39.8 361.4,36 361.8,33.1 362.3,30.4 362.7,30 363.2,32.9 363.6,36.2 364.1,39.7 364.6,43 365,45.2 365.5,47.1 365.9,46.8 366.4,44.3 366.9,41.1 367.3,38.2 367.8,35.2 368.2,32.8 368.7,31.4 369.2,32.3 369.6,34.7 370.1,38.4 370.5,41.6 371,44.4 371.5,46.8 371.9,47.2 372.4,45.4 372.8,42.7 373.3,38.7 373.8,35.2 374.2,32.8 374.7,30.6 375.1,31.1 375.6,33.5 376.1,36.4 376.5,40.3 377,44.3 377.4,46.2 377.9,45.6 378.4,42.4 378.8,40 379.3,39.4 379.7,39.3 380.2,39 380.7,39.1 381.1,39.3 381.6,39.1 382,39.1 382.5,39.3 382.9,39.3 383.4,39.4 383.9,39.4 384.3,39 384.8,39 385.2,39.2 385.7,39.2 386.2,39.2 386.6,39.3 387.1,39.3 387.5,39.4 388,39.4 388.5,39 388.9,38.9 389.4,39.2 389.8,39.2 390.3,39.3 390.8,39.3 391.2,39.2 391.7,39.3 392.1,39.3 392.6,39 393.1,38.9 393.5,39.2 394,39.2 394.4,39.4 394.9,39.4 395.4,39.1 395.8,39.2 396.3,39.3 396.7,39 397.2,39 397.7,39.2 398.1,39.2 398.6,39.4 399,39.4 399.5,39.1 400,39.1 400.4,39.2 400.9,39.1 401.3,39.1 401.8,39.2 402.3,39.2 402.7,39.5 403.2,39.4 403.6,39 404.1,39 404.5,39.2 405,39.1 405.5,39.2 405.9,39.2 406.4,39.2 406.8,39.4 407.3,39.4 407.8,39 408.2,39 408.7,39.1 409.1,39.1 409.6,39.3 410.1,39.3 410.5,39.2 411,39.4 411.4,39.4 411.9,39.1 412.4,39 412.8,39.1 413.3,39.1 413.7,39.4 414.2,39.4" fill="none" stroke="#6A1FC2" stroke-width="1.1" stroke-linejoin="round"/>
<text x="417.1" y="47.7" font-size="7.85" text-anchor="end"><tspan font-style="italic">ℓ</tspan>2 = 0</text>
<polygon points="297.9,51.2 298.4,50.6 298.8,50.5 299.3,50.8 299.7,51.4 300.2,51.4 300.7,51.6 301.1,51.6 301.6,50.8 302,51.1 302.5,50.7 303,50.4 303.4,50.7 303.9,51.6 304.3,51.1 304.8,50.9 305.3,51.1 305.7,50.9 306.2,51.7 306.6,51.4 307.1,50.6 307.6,50.7 308,51.2 308.5,51.5 308.9,51.2 309.4,51.2 309.8,51.2 310.3,51.5 310.8,51.4 311.2,51 311.7,51.2 312.1,51.1 312.6,51.9 313.1,51.9 313.5,51.5 314,51 314.4,50.9 314.9,51.6 315.4,51.4 315.8,50.9 316.3,51.6 316.7,50.8 317.2,51.4 317.7,51.5 318.1,51.3 318.6,51.1 319,51.5 319.5,51.6 320,51.7 320.4,51.1 320.9,51.7 321.3,51.3 321.8,51 322.3,51.2 322.7,51.5 323.2,51.7 323.6,51.3 324.1,51 324.6,51 325,50.9 325.5,51 325.9,51.4 326.4,50.5 326.9,51 327.3,50.8 327.8,51 328.2,51 328.7,50.6 329.2,51.1 329.6,51.4 330.1,50.9 330.5,51.3 331,51.5 331.4,51.3 331.9,50.8 332.4,51.5 332.8,50.8 333.3,50.7 333.7,51.4 334.2,50.7 334.7,51.7 335.1,51.7 335.6,52.4 336,53.5 336.5,52.3 337,48.4 337.4,44.9 337.9,42.9 338.3,44.1 338.8,47.3 339.3,51.1 339.7,54.7 340.2,58.5 340.6,62 341.1,63 341.6,60.5 342,57.4 342.5,53.5 342.9,50.2 343.4,46.7 343.9,43.5 344.3,43.5 344.8,46.2 345.2,49.4 345.7,53 346.2,57.3 346.6,60.5 347.1,63.2 347.5,62.5 348,59.1 348.5,55.1 348.9,51.1 349.4,47.1 349.8,43.8 350.3,42 350.8,44.2 351.2,48.2 351.7,52.6 352.1,56 352.6,59.9 353,62.7 353.5,63.1 354,60.6 354.4,56.9 354.9,52.4 355.3,48.8 355.8,45.9 356.3,43 356.7,43.8 357.2,46.7 357.6,50 358.1,54.6 358.6,58.1 359,60.7 359.5,62.3 359.9,60.7 360.4,57.4 360.9,53.8 361.3,50.1 361.8,47.1 362.2,45.5 362.7,45 363.2,46.6 363.6,49.4 364.1,53 364.5,56.4 365,59.3 365.5,61.7 365.9,61 366.4,58.9 366.8,55 367.3,51.5 367.8,50.7 368.2,50.8 368.7,51 369.1,51.6 369.6,51.2 370.1,51.5 370.5,51.5 371,51.4 371.4,51.9 371.9,51 372.3,51.1 372.8,51.4 373.3,51.7 373.7,51 374.2,51.6 374.6,51.1 375.1,51.9 375.6,51.9 376,51.5 376.5,50.8 376.9,51.5 377.4,51.5 377.9,51.4 378.3,51.6 378.8,51.3 379.2,51.5 379.7,51.2 380.2,51.6 380.6,51.2 381.1,51 381.5,51.2 382,51.3 382.5,51.6 382.9,51.8 383.4,51.9 383.8,51.2 384.3,51.6 384.8,51.7 385.2,51 385.7,51.4 386.1,51.4 386.6,51.1 387.1,51.7 387.5,51.1 388,51.7 388.4,51.4 388.9,51.2 389.4,51.6 389.8,51.9 390.3,51.7 390.7,51.4 391.2,51.6 391.7,51.6 392.1,50.9 392.6,51.8 393,51.2 393.5,50.9 393.9,51.3 394.4,51.5 394.9,52 395.3,51.3 395.8,51.5 396.2,51.1 396.7,51.7 397.2,51.8 397.6,51.2 398.1,51.2 398.5,51.4 399,51.2 399.5,52.1 399.9,51.6 400.4,51.6 400.8,51.4 401.3,52 401.8,51.9 402.2,51.4 402.7,51.7 403.1,51.8 403.6,51.8 403.6,56.6 403.1,56.5 402.7,56.3 402.2,56.1 401.8,55.9 401.3,56.6 400.8,56.5 400.4,55.8 399.9,55.8 399.5,56.4 399,56.1 398.5,55.8 398.1,56.1 397.6,56.6 397.2,55.8 396.7,55.9 396.2,56.2 395.8,55.6 395.3,56.4 394.9,56.5 394.4,56.7 393.9,56.6 393.5,56.4 393,56.1 392.6,56.4 392.1,56.3 391.7,56.4 391.2,56.3 390.7,56.4 390.3,56.8 389.8,56.1 389.4,55.8 388.9,56.5 388.4,56.2 388,56.4 387.5,56 387.1,56.1 386.6,56.5 386.1,56.3 385.7,56.4 385.2,56.4 384.8,55.8 384.3,56.5 383.8,56.3 383.4,56.3 382.9,56 382.5,56.6 382,56.4 381.5,55.8 381.1,55.6 380.6,55.8 380.2,56.6 379.7,56 379.2,56.5 378.8,56.2 378.3,55.7 377.9,56.6 377.4,56.6 376.9,56.3 376.5,55.7 376,56 375.6,56 375.1,56.3 374.6,55.9 374.2,55.8 373.7,56.7 373.3,56.1 372.8,55.5 372.3,55.7 371.9,55.8 371.4,56.3 371,56.3 370.5,56.6 370.1,55.6 369.6,56.3 369.1,56.6 368.7,56.2 368.2,56.1 367.8,54.8 367.3,54.8 366.8,57.4 366.4,60.8 365.9,62.5 365.5,63.3 365,61.3 364.5,57.9 364.1,54.6 363.6,51.3 363.2,48.4 362.7,46.8 362.2,47.2 361.8,48.9 361.3,51.9 360.9,55.6 360.4,59 359.9,62.3 359.5,64.1 359,62.2 358.6,60 358.1,56.4 357.6,51.8 357.2,48.2 356.7,45.3 356.3,44.8 355.8,47.6 355.3,50.3 354.9,54.1 354.4,58.7 354,62.4 353.5,64.8 353,64.6 352.6,61.6 352.1,57.8 351.7,54.1 351.2,49.8 350.8,45.8 350.3,43.9 349.8,45.5 349.4,48.6 348.9,52.7 348.5,56.9 348,60.6 347.5,64.2 347.1,64.9 346.6,61.9 346.2,58.8 345.7,55 345.2,51.1 344.8,48 344.3,45 343.9,45.5 343.4,48.6 342.9,51.9 342.5,55.3 342,59.2 341.6,62.1 341.1,64.5 340.6,63.8 340.2,60.5 339.7,56.4 339.3,53 338.8,49.1 338.3,46 337.9,44.6 337.4,46.8 337,50.5 336.5,55.2 336,56.9 335.6,57.5 335.1,56.3 334.7,56.7 334.2,56.7 333.7,56.5 333.3,56.3 332.8,56.8 332.4,56.7 331.9,56.9 331.4,56.9 331,56.1 330.5,55.9 330.1,56 329.6,56.7 329.2,55.8 328.7,56.3 328.2,56.1 327.8,56.6 327.3,56.2 326.9,56.6 326.4,55.7 325.9,56.5 325.5,56 325,56.6 324.6,56.1 324.1,56.2 323.6,56.4 323.2,56.3 322.7,56.1 322.3,56.5 321.8,56.5 321.3,56.9 320.9,56.9 320.4,56.8 320,57 319.5,56.1 319,56.3 318.6,56.2 318.1,56.2 317.7,56.3 317.2,56.7 316.7,56.1 316.3,56 315.8,56.5 315.4,56.8 314.9,56.9 314.4,56 314,56 313.5,56.4 313.1,56.8 312.6,56.6 312.1,56.4 311.7,56.8 311.2,55.9 310.8,55.9 310.3,56.7 309.8,56.4 309.4,56.2 308.9,56.1 308.5,57.1 308,57.1 307.6,55.9 307.1,55.9 306.6,56.8 306.2,56.1 305.7,56.3 305.3,56.7 304.8,56.1 304.3,56.6 303.9,56.4 303.4,56.4 303,56.7 302.5,55.9 302,56.1 301.6,56.3 301.1,56.4 300.7,56.6 300.2,56.7 299.7,56 299.3,57 298.8,55.7 298.4,56.1 297.9,56.1" fill="#3F4FC4" stroke="none" stroke-width="0"/>
<polyline points="297.9,53.9 298.4,53.6 298.8,53.5 299.3,53.8 299.7,53.9 300.2,53.9 300.7,53.9 301.1,53.8 301.6,53.7 302,53.9 302.5,53.7 303,53.5 303.4,53.8 303.9,53.9 304.3,54 304.8,54 305.3,53.7 305.7,53.6 306.2,53.8 306.6,53.7 307.1,53.6 307.6,53.8 308,53.9 308.5,54 308.9,54 309.4,53.7 309.8,53.5 310.3,53.8 310.8,53.8 311.2,53.7 311.7,53.9 312.1,53.9 312.6,53.9 313.1,54 313.5,53.7 314,53.5 314.4,53.7 314.9,53.8 315.4,53.8 315.8,53.9 316.3,53.8 316.7,53.9 317.2,54 317.7,53.7 318.1,53.5 318.6,53.7 319,53.8 319.5,53.9 320,54 320.4,53.8 320.9,53.8 321.3,53.9 321.8,53.7 322.3,53.6 322.7,53.7 323.2,53.8 323.6,54 324.1,54.1 324.6,53.7 325,53.7 325.5,53.9 325.9,53.7 326.4,53.6 326.9,53.8 327.3,53.8 327.8,54 328.2,54.1 328.7,53.7 329.2,53.6 329.6,53.8 330.1,53.7 330.5,53.7 331,53.8 331.4,53.8 331.9,54 332.4,54.1 332.8,53.7 333.3,53.6 333.7,53.7 334.2,53.7 334.7,53.8 335.1,54.1 335.6,55.1 336,55.4 336.5,53.7 337,49.5 337.4,45.8 337.9,43.8 338.3,45.1 338.8,48.3 339.3,52.1 339.7,55.7 340.2,59.5 340.6,62.8 341.1,63.8 341.6,61.3 342,58.2 342.5,54.4 342.9,51 343.4,47.7 343.9,44.5 344.3,44.3 344.8,47.1 345.2,50.2 345.7,54 346.2,57.9 346.6,61.2 347.1,64.1 347.5,63.4 348,59.9 348.5,55.9 348.9,51.9 349.4,47.8 349.8,44.7 350.3,42.9 350.8,44.9 351.2,48.8 351.7,53.3 352.1,57 352.6,60.6 353,63.6 353.5,63.9 354,61.6 354.4,57.9 354.9,53.4 355.3,49.7 355.8,46.6 356.3,43.8 356.7,44.5 357.2,47.4 357.6,51 358.1,55.4 358.6,59.1 359,61.4 359.5,63.1 359.9,61.5 360.4,58.2 360.9,54.7 361.3,51.1 361.8,47.9 362.2,46.2 362.7,45.9 363.2,47.5 363.6,50.4 364.1,53.9 364.5,57.2 365,60.3 365.5,62.4 365.9,61.8 366.4,59.8 366.8,56.3 367.3,53.3 367.8,52.8 368.2,53.6 368.7,53.7 369.1,53.8 369.6,53.7 370.1,53.6 370.5,53.9 371,54.1 371.4,53.9 371.9,53.8 372.3,53.7 372.8,53.6 373.3,53.8 373.7,53.8 374.2,53.7 374.6,53.9 375.1,54 375.6,53.9 376,53.8 376.5,53.6 376.9,53.5 377.4,53.9 377.9,53.9 378.3,53.7 378.8,53.9 379.2,54 379.7,53.8 380.2,53.8 380.6,53.6 381.1,53.5 381.5,53.9 382,54 382.5,53.8 382.9,53.9 383.4,53.9 383.8,53.8 384.3,53.8 384.8,53.6 385.2,53.5 385.7,53.9 386.1,54 386.6,53.9 387.1,53.9 387.5,53.8 388,53.7 388.4,53.8 388.9,53.7 389.4,53.6 389.8,53.9 390.3,54 390.7,53.9 391.2,53.9 391.7,53.7 392.1,53.6 392.6,53.8 393,53.8 393.5,53.6 393.9,53.9 394.4,54 394.9,53.9 395.3,53.9 395.8,53.6 396.2,53.5 396.7,53.8 397.2,53.9 397.6,53.7 398.1,53.9 398.5,53.9 399,53.9 399.5,53.9 399.9,53.6 400.4,53.5 400.8,53.8 401.3,53.9 401.8,53.8 402.2,53.9 402.7,53.8 403.1,53.8 403.6,53.9" fill="none" stroke="#3F4FC4" stroke-width="1.1" stroke-linejoin="round"/>
<text x="406.5" y="62.3" font-size="7.85" text-anchor="end"><tspan font-style="italic">ℓ</tspan>2 = 2</text>
<polygon points="287.3,66.5 287.8,66.5 288.2,66.5 288.7,66.3 289.1,66.4 289.6,66.4 290.1,66.4 290.5,65.7 291,65.9 291.4,65.7 291.9,66.2 292.4,66.4 292.8,66.2 293.3,66.7 293.7,66.5 294.2,66.3 294.7,66.1 295.1,66.6 295.6,66.5 296,66.2 296.5,66 297,66 297.4,66.3 297.9,66.8 298.3,66.5 298.8,65.9 299.2,66.5 299.7,66.6 300.2,65.9 300.6,66.8 301.1,66.4 301.5,66.2 302,66.8 302.5,66.4 302.9,66.1 303.4,65.9 303.8,66.4 304.3,66.8 304.8,66.4 305.2,66.5 305.7,66.8 306.1,66.2 306.6,65.7 307.1,65.9 307.5,66 308,66.7 308.4,66.8 308.9,66.6 309.4,65.9 309.8,66.3 310.3,66 310.7,66.5 311.2,66.1 311.7,66.3 312.1,66.6 312.6,66.2 313,66.8 313.5,66.5 314,66.2 314.4,66.2 314.9,66.3 315.3,66.1 315.8,66.4 316.3,66.2 316.7,66.8 317.2,66.3 317.6,66.4 318.1,66 318.6,66.5 319,66.5 319.5,66.1 319.9,66.2 320.4,66.7 320.8,66.1 321.3,66.9 321.8,66.4 322.2,66.3 322.7,65.8 323.1,65.9 323.6,66.8 324.1,66.2 324.5,65.8 325,66.8 325.4,68.4 325.9,71 326.4,71.9 326.8,71.2 327.3,67.7 327.7,64.4 328.2,60.8 328.7,57.9 329.1,58.3 329.6,61.1 330,64.2 330.5,68.3 331,72.4 331.4,75.7 331.9,78.6 332.3,76.5 332.8,73 333.3,69 333.7,65 334.2,61.3 334.6,58.5 335.1,57.4 335.6,59.7 336,63.9 336.5,67.5 336.9,70.9 337.4,74.4 337.9,77 338.3,76.9 338.8,74.5 339.2,70.8 339.7,66.5 340.2,62.9 340.6,59.4 341.1,56.2 341.5,57.6 342,60.8 342.4,65.3 342.9,70.2 343.4,74.5 343.8,77.7 344.3,79.7 344.7,77.3 345.2,73 345.7,68 346.1,63.2 346.6,59.1 347,56.8 347.5,57 348,59.6 348.4,63.9 348.9,68.1 349.3,72.4 349.8,75.8 350.3,77.9 350.7,76.5 351.2,74.3 351.6,70.3 352.1,65.8 352.6,61.9 353,59.1 353.5,57.5 353.9,59.8 354.4,62.8 354.9,66.7 355.3,71.1 355.8,74.2 356.2,76.4 356.7,74.8 357.2,70.4 357.6,67.2 358.1,65.6 358.5,65.7 359,64.5 359.5,65.8 359.9,65.9 360.4,65.5 360.8,64.9 361.3,64.7 361.7,64.5 362.2,64.9 362.7,64.9 363.1,64.7 363.6,65.2 364,66.1 364.5,64.7 365,65 365.4,64.8 365.9,65.6 366.3,64.8 366.8,65.2 367.3,65.6 367.7,66 368.2,65.8 368.6,65.4 369.1,65.7 369.6,65.3 370,65 370.5,65.8 370.9,65.7 371.4,64.9 371.9,65.7 372.3,65.3 372.8,65 373.2,64.8 373.7,64.8 374.2,65.5 374.6,65.5 375.1,65.5 375.5,65.9 376,65.3 376.5,65.4 376.9,65.6 377.4,65.5 377.8,64.6 378.3,65.7 378.8,65.1 379.2,64.9 379.7,64.9 380.1,64.7 380.6,65.4 381.1,64.6 381.5,65.9 382,64.7 382.4,64.9 382.9,65.5 383.3,65.8 383.8,65.5 384.3,64.6 384.7,65.4 385.2,64.8 385.6,66 386.1,65 386.6,65.7 387,65.2 387.5,65.8 387.9,64.7 388.4,64.8 388.9,64.4 389.3,65.4 389.8,64.8 390.2,65.8 390.7,65.5 391.2,65.8 391.6,65.1 392.1,65.4 392.5,66 393,65.4 393,71.3 392.5,72.2 392.1,71.8 391.6,72.1 391.2,72 390.7,71.2 390.2,71.1 389.8,71.1 389.3,71.4 388.9,70.8 388.4,71.4 387.9,71.9 387.5,72 387,71.9 386.6,71.6 386.1,71.7 385.6,71.6 385.2,71.3 384.7,70.6 384.3,71.6 383.8,71.1 383.3,71.9 382.9,71.4 382.4,70.9 382,71.5 381.5,71.3 381.1,71 380.6,70.8 380.1,71.6 379.7,71.1 379.2,72.4 378.8,71.8 378.3,71.1 377.8,71.5 377.4,71.6 376.9,70.8 376.5,71.3 376,71.1 375.5,71.1 375.1,72.1 374.6,71.2 374.2,70.7 373.7,71.8 373.2,71 372.8,71.4 372.3,71.3 371.9,71.2 371.4,71.2 370.9,71.6 370.5,72.1 370,70.8 369.6,71.1 369.1,71.9 368.6,71.8 368.2,72.2 367.7,72.1 367.3,71 366.8,71.8 366.3,71.6 365.9,70.8 365.4,70.8 365,71.6 364.5,71.1 364,71.3 363.6,71.4 363.1,71.9 362.7,71.2 362.2,71 361.7,71.2 361.3,70.8 360.8,71.4 360.4,71.4 359.9,71.2 359.5,72.1 359,71.7 358.5,71.5 358.1,71 357.6,71.2 357.2,73.6 356.7,77.4 356.2,78.2 355.8,76.1 355.3,72.6 354.9,68.2 354.4,64.3 353.9,61.7 353.5,59.3 353,60.7 352.6,63.8 352.1,67.2 351.6,72 351.2,75.7 350.7,78.4 350.3,79.7 349.8,77.7 349.3,74.1 348.9,69.9 348.4,65.5 348,61.2 347.5,58.7 347,58.6 346.6,61 346.1,64.9 345.7,69.9 345.2,74.4 344.7,78.9 344.3,81.4 343.8,79.7 343.4,76.4 342.9,72.1 342.4,66.8 342,62.3 341.5,59.1 341.1,57.9 340.6,61.1 340.2,64.7 339.7,68.4 339.2,72.4 338.8,76.5 338.3,78.8 337.9,78.9 337.4,76.1 336.9,72.6 336.5,69.3 336,65.3 335.6,61.3 335.1,59.3 334.6,60.1 334.2,62.9 333.7,66.6 333.3,70.9 332.8,74.4 332.3,78.4 331.9,80.1 331.4,77.4 331,73.9 330.5,70.2 330,65.8 329.6,62.6 329.1,59.9 328.7,59.3 328.2,62.6 327.7,66.1 327.3,69.5 326.8,72.9 326.4,74.6 325.9,74 325.4,71.9 325,70.9 324.5,70.6 324.1,70.3 323.6,70.2 323.1,70.3 322.7,70.5 322.2,70.4 321.8,70.7 321.3,70.3 320.8,71 320.4,70.1 319.9,70.8 319.5,70.9 319,70.4 318.6,70.9 318.1,69.9 317.6,70.7 317.2,70.7 316.7,70.9 316.3,70.7 315.8,70.4 315.3,70.1 314.9,70 314.4,70.7 314,70.4 313.5,70 313,70.8 312.6,70.7 312.1,70.3 311.7,70.6 311.2,70.7 310.7,70.2 310.3,70.6 309.8,70 309.4,70.6 308.9,70.2 308.4,70.8 308,70.1 307.5,70.8 307.1,70.2 306.6,70.2 306.1,71 305.7,70.9 305.2,70.2 304.8,70.6 304.3,70.3 303.8,70.9 303.4,70.8 302.9,70.7 302.5,70.5 302,70.3 301.5,70.6 301.1,70.9 300.6,70.3 300.2,70.4 299.7,70.6 299.2,70.4 298.8,70.4 298.3,70.6 297.9,70.3 297.4,70.9 297,71 296.5,70.8 296,70.6 295.6,70.2 295.1,70.7 294.7,70.3 294.2,70.5 293.7,70.4 293.3,70.4 292.8,70.6 292.4,70.8 291.9,70 291.4,70 291,70.4 290.5,70.7 290.1,70.7 289.6,70.7 289.1,70.6 288.7,70.9 288.2,70.2 287.8,70.3 287.3,70.5" fill="#1E88D8" stroke="none" stroke-width="0"/>
<polyline points="287.3,68.2 287.8,68.2 288.2,68.5 288.7,68.6 289.1,68.6 289.6,68.5 290.1,68.2 290.5,68.3 291,68.5 291.4,68.3 291.9,68.3 292.4,68.5 292.8,68.5 293.3,68.6 293.7,68.5 294.2,68.2 294.7,68.2 295.1,68.4 295.6,68.3 296,68.4 296.5,68.5 297,68.5 297.4,68.6 297.9,68.5 298.3,68.1 298.8,68.2 299.2,68.4 299.7,68.4 300.2,68.5 300.6,68.5 301.1,68.4 301.5,68.5 302,68.5 302.5,68.2 302.9,68.2 303.4,68.4 303.8,68.5 304.3,68.6 304.8,68.5 305.2,68.3 305.7,68.4 306.1,68.5 306.6,68.2 307.1,68.2 307.5,68.4 308,68.5 308.4,68.6 308.9,68.6 309.4,68.3 309.8,68.3 310.3,68.4 310.7,68.3 311.2,68.3 311.7,68.4 312.1,68.5 312.6,68.7 313,68.6 313.5,68.2 314,68.3 314.4,68.4 314.9,68.3 315.3,68.4 315.8,68.4 316.3,68.4 316.7,68.6 317.2,68.6 317.6,68.2 318.1,68.2 318.6,68.3 319,68.4 319.5,68.5 319.9,68.5 320.4,68.4 320.8,68.6 321.3,68.6 321.8,68.2 322.2,68.2 322.7,68.3 323.1,68.4 323.6,68.6 324.1,68.5 324.5,68.3 325,68.6 325.4,70 325.9,72.2 326.4,73.2 326.8,71.9 327.3,68.5 327.7,65.2 328.2,61.7 328.7,58.6 329.1,59.2 329.6,61.9 330,65.2 330.5,69.3 331,73.2 331.4,76.6 331.9,79.4 332.3,77.5 332.8,73.8 333.3,69.9 333.7,66 334.2,62.1 334.6,59.4 335.1,58.3 335.6,60.6 336,64.6 336.5,68.4 336.9,71.8 337.4,75.2 337.9,77.9 338.3,77.8 338.8,75.5 339.2,71.7 339.7,67.4 340.2,63.7 340.6,60.1 341.1,57 341.5,58.4 342,61.6 342.4,66 342.9,71.2 343.4,75.5 343.8,78.7 344.3,80.7 344.7,78.1 345.2,73.7 345.7,68.9 346.1,64 346.6,60 347,57.7 347.5,57.7 348,60.3 348.4,64.7 348.9,69.2 349.3,73.2 349.8,76.7 350.3,78.7 350.7,77.4 351.2,75 351.6,71 352.1,66.5 352.6,62.8 353,59.9 353.5,58.4 353.9,60.7 354.4,63.6 354.9,67.3 355.3,71.9 355.8,75.3 356.2,77.3 356.7,76.1 357.2,72.1 357.6,69.2 358.1,68.5 358.5,68.4 359,68.3 359.5,68.6 359.9,68.6 360.4,68.4 360.8,68.3 361.3,68.2 361.7,68.2 362.2,68.5 362.7,68.5 363.1,68.4 363.6,68.5 364,68.5 364.5,68.4 365,68.3 365.4,68.1 365.9,68.2 366.3,68.6 366.8,68.5 367.3,68.4 367.7,68.5 368.2,68.4 368.6,68.4 369.1,68.4 369.6,68.2 370,68.2 370.5,68.6 370.9,68.6 371.4,68.5 371.9,68.4 372.3,68.3 372.8,68.3 373.2,68.4 373.7,68.2 374.2,68.2 374.6,68.6 375.1,68.6 375.5,68.5 376,68.4 376.5,68.2 376.9,68.3 377.4,68.5 377.8,68.3 378.3,68.3 378.8,68.6 379.2,68.6 379.7,68.5 380.1,68.4 380.6,68.1 381.1,68.2 381.5,68.5 382,68.4 382.4,68.4 382.9,68.5 383.3,68.5 383.8,68.5 384.3,68.4 384.7,68.1 385.2,68.2 385.6,68.5 386.1,68.5 386.6,68.4 387,68.5 387.5,68.4 387.9,68.5 388.4,68.4 388.9,68.1 389.3,68.2 389.8,68.5 390.2,68.5 390.7,68.5 391.2,68.5 391.6,68.3 392.1,68.4 392.5,68.5 393,68.2" fill="none" stroke="#1E88D8" stroke-width="1.1" stroke-linejoin="round"/>
<text x="395.9" y="76.9" font-size="7.85" text-anchor="end"><tspan font-style="italic">ℓ</tspan>2 = 2</text>
<polygon points="276.7,80.6 277.2,80.7 277.6,80.1 278.1,79.9 278.5,80.9 279,80.9 279.5,81.4 279.9,81.6 280.4,80.8 280.8,81 281.3,80.9 281.8,80.4 282.2,81 282.7,81 283.1,81 283.6,81.2 284.1,80.8 284.5,80.7 285,80.2 285.4,80.6 285.9,80.4 286.4,80.4 286.8,80.3 287.3,81.1 287.7,81.5 288.2,81.3 288.6,80 289.1,80.4 289.6,80.1 290,80.4 290.5,81.4 290.9,80.8 291.4,80.3 291.9,80.5 292.3,81.4 292.8,80.4 293.2,80.2 293.7,80.6 294.2,80.5 294.6,81.6 295.1,81 295.5,80.4 296,81.2 296.5,80.6 296.9,80.3 297.4,80 297.8,80.7 298.3,80.1 298.8,81.3 299.2,80.8 299.7,80.3 300.1,80.4 300.6,81 301.1,80.8 301.5,81.1 302,80.6 302.4,80.9 302.9,80.7 303.4,81.4 303.8,80.7 304.3,80.7 304.7,80.8 305.2,81.4 305.7,81.4 306.1,80.6 306.6,79.1 307,79.3 307.5,78 308,75.3 308.4,74.1 308.9,73.3 309.3,74.1 309.8,75.3 310.2,76.6 310.7,77 311.2,79.1 311.6,80.2 312.1,79.9 312.5,81.8 313,81.5 313.5,83.4 313.9,85.8 314.4,86.3 314.8,86.5 315.3,86.9 315.8,85.9 316.2,85.1 316.7,83.7 317.1,82.4 317.6,81 318.1,82.3 318.5,80.6 319,78.6 319.4,77.4 319.9,76.9 320.4,75.8 320.8,74.9 321.3,74.6 321.7,74.7 322.2,77.4 322.7,78.1 323.1,78.2 323.6,79.5 324,79.8 324.5,81.5 325,83.2 325.4,83.3 325.9,83.9 326.3,86.3 326.8,86.6 327.3,86.7 327.7,85.3 328.2,83.8 328.6,83.1 329.1,83.8 329.6,82.8 330,81.3 330.5,80.6 330.9,79.1 331.4,78.1 331.8,77.2 332.3,74.8 332.8,74 333.2,74.9 333.7,76 334.1,75.8 334.6,76.8 335.1,78 335.5,78.7 336,80.4 336.4,80.1 336.9,81.9 337.4,84.8 337.8,86.3 338.3,86.2 338.7,87.9 339.2,87.3 339.7,87.3 340.1,86.1 340.6,84.8 341,83.5 341.5,83.7 342,81.9 342.4,81 342.9,79.4 343.3,76.7 343.8,76.4 344.3,76.1 344.7,75 345.2,73.5 345.6,75.8 346.1,76.1 346.6,77.4 347,78 347.5,78 347.9,79 348.4,81.9 348.9,82.8 349.3,83.6 349.8,85.4 350.2,85.6 350.7,86.6 351.1,87.6 351.6,85.6 352.1,84.8 352.5,84.8 353,84.5 353.4,82.7 353.9,81.5 354.4,80.1 354.8,79.7 355.3,78.6 355.7,76.3 356.2,75.6 356.7,76 357.1,75.4 357.6,76.5 358,76.6 358.5,76.7 359,77.8 359.4,79.2 359.9,78.9 360.3,80.1 360.8,81.9 361.3,83.2 361.7,84.4 362.2,84.9 362.6,84.2 363.1,84.7 363.6,83.7 364,82.1 364.5,80.8 364.9,81.2 365.4,81.1 365.9,81.3 366.3,80.7 366.8,80.7 367.2,80.1 367.7,80.8 368.2,80.2 368.6,80.8 369.1,80.4 369.5,80.4 370,81.3 370.5,81 370.9,80.2 371.4,80.2 371.8,80.7 372.3,80.5 372.7,80.9 373.2,80.4 373.7,81.1 374.1,81.5 374.6,81.1 375,80.4 375.5,80.2 376,80.3 376.4,81 376.9,80.7 377.3,80.6 377.8,80.6 378.3,80.6 378.7,81.2 379.2,80.5 379.6,80.6 380.1,80.6 380.6,81.1 381,80.7 381.5,80.8 381.9,80.1 382.4,80.4 382.4,85.6 381.9,85.1 381.5,85.4 381,85.8 380.6,85.8 380.1,85.3 379.6,84.9 379.2,85.2 378.7,85.4 378.3,85.9 377.8,85.1 377.3,86.1 376.9,85.3 376.4,85.6 376,85.1 375.5,85.1 375,84.5 374.6,85.9 374.1,85.7 373.7,85.7 373.2,85.7 372.7,85.3 372.3,85 371.8,85.7 371.4,84.8 370.9,85.2 370.5,85.3 370,86.1 369.5,85.6 369.1,85.4 368.6,85.3 368.2,85.6 367.7,85.3 367.2,84.7 366.8,84.5 366.3,85.4 365.9,85.3 365.4,85.1 364.9,85.4 364.5,86 364,86.8 363.6,88.2 363.1,89.2 362.6,89.1 362.2,90.1 361.7,89 361.3,88.4 360.8,86.6 360.3,84.5 359.9,83.4 359.4,83.8 359,82.4 358.5,81.7 358,81.9 357.6,81.2 357.1,80.5 356.7,80.6 356.2,80.2 355.7,80.3 355.3,82.8 354.8,83.9 354.4,85.2 353.9,86.3 353.4,87.7 353,88.8 352.5,89.7 352.1,89.6 351.6,89.7 351.1,92 350.7,91.3 350.2,90.2 349.8,89.6 349.3,87.7 348.9,87.2 348.4,86.5 347.9,83.4 347.5,82.7 347,82.4 346.6,82.3 346.1,81.4 345.6,80.3 345.2,78.1 344.7,78.9 344.3,80.4 343.8,80.9 343.3,81.2 342.9,83.7 342.4,84.7 342,86.3 341.5,87.5 341,88.1 340.6,88.8 340.1,90.8 339.7,91.6 339.2,91.7 338.7,92 338.3,91.6 337.8,90.2 337.4,89.4 336.9,86.1 336.4,85.5 336,84.7 335.5,83.7 335.1,82.3 334.6,81.2 334.1,80 333.7,80 333.2,79.3 332.8,78.8 332.3,79.2 331.8,81.3 331.4,82.3 330.9,84.4 330.5,84.7 330,84.9 329.6,87 329.1,88.4 328.6,87.7 328.2,89 327.7,90.3 327.3,90.6 326.8,91 326.3,90.3 325.9,88.9 325.4,88.1 325,87.2 324.5,85.7 324,84.5 323.6,83.7 323.1,82.6 322.7,82.3 322.2,81.3 321.7,79.4 321.3,78.5 320.8,80 320.4,80.2 319.9,81.1 319.4,82.5 319,83 318.5,85.2 318.1,86 317.6,86 317.1,86.6 316.7,88.3 316.2,89.6 315.8,90.7 315.3,90.7 314.8,90.2 314.4,90.6 313.9,90 313.5,87.8 313,86.2 312.5,86.3 312.1,84.5 311.6,84.7 311.2,82.9 310.7,81.4 310.2,80.2 309.8,79.8 309.3,78.1 308.9,77.7 308.4,79.3 308,80.2 307.5,82 307,83.8 306.6,84.3 306.1,85.5 305.7,86.5 305.2,86.3 304.7,85.2 304.3,84.8 303.8,84.9 303.4,86 302.9,85.9 302.4,85.2 302,85 301.5,84.9 301.1,84.8 300.6,85 300.1,85.5 299.7,85 299.2,85.5 298.8,86.3 298.3,84.8 297.8,84.9 297.4,85.4 296.9,84.8 296.5,85.6 296,85.3 295.5,85.5 295.1,85.7 294.6,86 294.2,85.3 293.7,84.9 293.2,84.7 292.8,84.8 292.3,86 291.9,85.2 291.4,85.6 290.9,85.6 290.5,85.4 290,85.2 289.6,85.3 289.1,84.9 288.6,85.4 288.2,85.5 287.7,85.2 287.3,85.6 286.8,85.3 286.4,85.2 285.9,85.5 285.4,85.5 285,84.9 284.5,84.7 284.1,85.3 283.6,85.9 283.1,84.9 282.7,85.7 282.2,85 281.8,85.3 281.3,85.2 280.8,85.2 280.4,85.4 279.9,85.6 279.5,86 279,85.2 278.5,85.7 278.1,85 277.6,84.7 277.2,85.2 276.7,85.7" fill="#FFB700" stroke="none" stroke-width="0"/>
<polyline points="276.7,82.9 277.2,83.1 277.6,82.7 278.1,82.7 278.5,82.9 279,83 279.5,83.5 279.9,83.5 280.4,82.7 280.8,82.8 281.3,83 281.8,82.8 282.2,82.9 282.7,83 283.1,83 283.6,83.5 284.1,83.5 284.5,82.7 285,82.6 285.4,82.8 285.9,82.8 286.4,83.1 286.8,83.1 287.3,82.9 287.7,83.4 288.2,83.4 288.6,82.7 289.1,82.6 289.6,82.7 290,82.8 290.5,83.3 290.9,83.3 291.4,82.9 291.9,83.2 292.3,83.3 292.8,82.8 293.2,82.7 293.7,82.7 294.2,82.8 294.6,83.5 295.1,83.4 295.5,82.9 296,83 296.5,83.1 296.9,82.8 297.4,82.8 297.8,82.7 298.3,82.8 298.8,83.5 299.2,83.5 299.7,82.9 300.1,82.9 300.6,82.9 301.1,82.8 301.5,82.9 302,82.8 302.4,82.8 302.9,83.5 303.4,83.5 303.8,82.9 304.3,83 304.7,83.3 305.2,83.5 305.7,83.9 306.1,83 306.6,81.6 307,81.3 307.5,80 308,77.9 308.4,76.7 308.9,75.7 309.3,75.9 309.8,77.7 310.2,78.5 310.7,78.9 311.2,80.9 311.6,82.2 312.1,82.7 312.5,83.6 313,84.3 313.5,85.5 313.9,87.9 314.4,88.5 314.8,88.3 315.3,88.9 315.8,88.2 316.2,87.1 316.7,86.2 317.1,84.6 317.6,83.7 318.1,84.1 318.5,83 319,81 319.4,80 319.9,78.7 320.4,77.8 320.8,77.5 321.3,76.6 321.7,77.1 322.2,79.3 322.7,80.4 323.1,80.6 323.6,81.5 324,82 324.5,83.3 325,85.2 325.4,85.7 325.9,86.3 326.3,88.2 326.8,89 327.3,88.6 327.7,87.8 328.2,86.3 328.6,85.6 329.1,85.9 329.6,84.6 330,83.1 330.5,82.8 330.9,81.7 331.4,80.3 331.8,79 332.3,77.1 332.8,76.5 333.2,77.4 333.7,77.8 334.1,78 334.6,79.3 335.1,80.1 335.5,81.2 336,82.5 336.4,82.8 336.9,84.2 337.4,87 337.8,88.4 338.3,89 338.7,89.8 339.2,89.7 339.7,89.1 340.1,88.6 340.6,86.6 341,85.4 341.5,85.5 342,84.4 342.4,82.9 342.9,81.4 343.3,79.3 343.8,78.4 344.3,78.3 344.7,76.9 345.2,76.2 345.6,77.8 346.1,78.8 346.6,79.6 347,80.3 347.5,80.2 347.9,81.5 348.4,83.8 348.9,84.7 349.3,85.7 349.8,87.4 350.2,88.3 350.7,89.2 351.1,89.5 351.6,87.7 352.1,87 352.5,87.4 353,86.3 353.4,85.1 353.9,84.2 354.4,82.7 354.8,81.8 355.3,80.7 355.7,78.4 356.2,77.6 356.7,78.2 357.1,78 357.6,78.5 358,79.2 358.5,79.2 359,80.3 359.4,81.6 359.9,81.5 360.3,82.4 360.8,84.5 361.3,85.8 361.7,87.1 362.2,87.6 362.6,86.7 363.1,86.6 363.6,86 364,84.3 364.5,83.4 364.9,83.3 365.4,83.2 365.9,83.5 366.3,83.3 366.8,82.6 367.2,82.7 367.7,83.1 368.2,82.9 368.6,82.9 369.1,83.1 369.5,83.1 370,83.4 370.5,83.4 370.9,82.6 371.4,82.5 371.8,83 372.3,83 372.7,83.1 373.2,83.2 373.7,83 374.1,83.3 374.6,83.3 375,82.6 375.5,82.5 376,82.9 376.4,83 376.9,83.3 377.3,83.3 377.8,82.9 378.3,83.1 378.7,83.2 379.2,82.6 379.6,82.6 380.1,82.9 380.6,83 381,83.5 381.5,83.4 381.9,82.8 382.4,82.9" fill="none" stroke="#FFB700" stroke-width="1.8059999999999998" stroke-linejoin="round"/>
<text x="385.3" y="91.5" font-size="7.85" text-anchor="end"><tspan font-style="italic">ℓ</tspan>2 = 0</text>
<polygon points="266.1,95.4 266.6,95.4 267,94.8 267.5,94.6 267.9,94.7 268.4,95 268.9,95.4 269.3,95.8 269.8,95.4 270.2,94.9 270.7,95.8 271.2,95 271.6,95 272.1,94.8 272.5,95 273,95.6 273.5,95.5 273.9,95.1 274.4,95 274.8,94.6 275.3,94.7 275.8,95.3 276.2,94.7 276.7,95.5 277.1,95.1 277.6,95.9 278,95.7 278.5,95.1 279,94.7 279.4,95.4 279.9,95.4 280.3,95.4 280.8,95.5 281.3,95.2 281.7,95.7 282.2,95.4 282.6,94.6 283.1,95.1 283.6,94.8 284,95.2 284.5,95.5 284.9,95 285.4,95.4 285.9,95.4 286.3,95 286.8,94.9 287.2,94.3 287.7,94.9 288.2,94.6 288.6,94.3 289.1,93.6 289.5,91.1 290,90.9 290.5,90.9 290.9,90.2 291.4,91.5 291.8,91.8 292.3,94.3 292.8,96.1 293.2,96.9 293.7,97 294.1,98 294.6,99.6 295.1,100.2 295.5,100.9 296,101.6 296.4,101.5 296.9,101.8 297.4,100.5 297.8,98.3 298.3,97.3 298.7,95.8 299.2,94.3 299.6,93.5 300.1,91.1 300.6,89.9 301,90.6 301.5,89.9 301.9,87.9 302.4,88.2 302.9,89.3 303.3,90.3 303.8,92.6 304.2,93.9 304.7,94.9 305.2,96.7 305.6,98.2 306.1,98.3 306.5,98.7 307,99.7 307.5,100.9 307.9,102.7 308.4,100.9 308.8,99.9 309.3,100.3 309.8,98.8 310.2,97.2 310.7,95.2 311.1,93.7 311.6,92.9 312.1,92.8 312.5,91.8 313,89.5 313.4,89.1 313.9,89.1 314.4,89.2 314.8,90.5 315.3,90.1 315.7,92.4 316.2,94.6 316.7,95.3 317.1,95.8 317.6,96.3 318,97.3 318.5,98.6 319,99.3 319.4,99.3 319.9,99.8 320.3,101.4 320.8,100.6 321.2,99.1 321.7,97.6 322.2,95.7 322.6,95.1 323.1,95.6 323.5,93.5 324,92.4 324.5,92 324.9,91 325.4,90.2 325.8,88.5 326.3,88.2 326.8,89.4 327.2,92 327.7,91.9 328.1,92.8 328.6,95 329.1,95.5 329.5,97.1 330,97.7 330.4,98.3 330.9,100.1 331.4,102.2 331.8,102.2 332.3,101.6 332.7,100.7 333.2,99.5 333.7,98.6 334.1,97.7 334.6,95.7 335,94.8 335.5,94.1 336,93.1 336.4,91.3 336.9,90.5 337.3,89.2 337.8,88.3 338.3,89.5 338.7,89.1 339.2,89.7 339.6,92.1 340.1,93.1 340.5,94.2 341,95 341.5,95.8 341.9,97.4 342.4,100.1 342.8,99.8 343.3,100.8 343.8,102.7 344.2,101.9 344.7,101.9 345.1,100 345.6,98.1 346.1,97.1 346.5,97 347,95.1 347.4,94.3 347.9,94.1 348.4,94 348.8,95.3 349.3,94.7 349.7,94.6 350.2,95.4 350.7,95.9 351.1,95.3 351.6,95 352,95.6 352.5,95 353,95 353.4,95.4 353.9,94.9 354.3,95.1 354.8,95.9 355.3,95.5 355.7,95.6 356.2,95 356.6,94.8 357.1,94.7 357.6,95.1 358,95.3 358.5,94.5 358.9,95.4 359.4,95.6 359.9,95.6 360.3,95.9 360.8,95.1 361.2,95.5 361.7,95.6 362.1,95 362.6,94.6 363.1,95.2 363.5,95.1 364,96.1 364.4,95.6 364.9,94.8 365.4,94.5 365.8,94.8 366.3,95 366.7,95.1 367.2,95.5 367.7,95.6 368.1,96 368.6,95.3 369,95 369.5,94.8 370,95.4 370.4,95.8 370.9,95.6 371.3,95.1 371.8,94.8 371.8,99.6 371.3,99.9 370.9,99.9 370.4,99.6 370,100 369.5,99.6 369,99.4 368.6,100.4 368.1,100 367.7,99.7 367.2,100.5 366.7,100.1 366.3,99.5 365.8,100.2 365.4,100.2 364.9,99.6 364.4,99.7 364,100.7 363.5,100.7 363.1,99.7 362.6,99.7 362.1,99.5 361.7,100.4 361.2,100.2 360.8,99.9 360.3,99.8 359.9,100.7 359.4,100.7 358.9,99.7 358.5,99.5 358,99.4 357.6,99.5 357.1,100.1 356.6,100.1 356.2,100.3 355.7,99.9 355.3,99.9 354.8,99.7 354.3,100.1 353.9,99.9 353.4,100.1 353,100.3 352.5,99.9 352,100.6 351.6,100.3 351.1,100.2 350.7,100 350.2,99.3 349.7,99.1 349.3,99.7 348.8,99.8 348.4,99.7 347.9,99.1 347.4,98.8 347,100.1 346.5,101.3 346.1,101.8 345.6,102.1 345.1,104.7 344.7,106.5 344.2,107.5 343.8,107.7 343.3,105.5 342.8,105 342.4,104.8 341.9,102.4 341.5,100.6 341,100.5 340.5,99.4 340.1,98 339.6,96.9 339.2,94.8 338.7,93.3 338.3,93.9 337.8,92.9 337.3,93.2 336.9,95.5 336.4,96.5 336,97.8 335.5,98.7 335,99.5 334.6,99.9 334.1,102.5 333.7,103.3 333.2,104.1 332.7,105.9 332.3,106 331.8,106.8 331.4,106.5 330.9,105.1 330.4,103.4 330,103 329.5,101.8 329.1,101.2 328.6,100 328.1,97.5 327.7,96.5 327.2,96.3 326.8,94.5 326.3,92.9 325.8,93.6 325.4,94.3 324.9,95.6 324.5,96.8 324,97.1 323.5,98.7 323.1,100.3 322.6,100.5 322.2,100.4 321.7,102.1 321.2,103.9 320.8,105.2 320.3,106.2 319.9,105.2 319.4,104.7 319,104.7 318.5,103 318,101.9 317.6,101.9 317.1,100.9 316.7,100.3 316.2,99.4 315.7,97 315.3,95.1 314.8,95 314.4,94 313.9,93.2 313.4,94.3 313,95 312.5,96.2 312.1,98 311.6,97.7 311.1,98.7 310.7,99.7 310.2,101.5 309.8,103.6 309.3,104.3 308.8,104.5 308.4,106.6 307.9,106.9 307.5,105.4 307,104.7 306.5,104.1 306.1,102.9 305.6,102.2 305.2,101.7 304.7,98.8 304.2,97.7 303.8,97.9 303.3,95.6 302.9,93.5 302.4,93.5 301.9,92.3 301.5,94.6 301,95.8 300.6,95.5 300.1,96.3 299.6,97.5 299.2,98.4 298.7,100.4 298.3,101.2 297.8,102.9 297.4,105.4 296.9,106.4 296.4,106.5 296,106.1 295.5,105.6 295.1,104.9 294.6,104.1 294.1,103.4 293.7,101.6 293.2,101.8 292.8,100.8 292.3,98.3 291.8,97.2 291.4,95.5 290.9,94.9 290.5,95.9 290,96 289.5,96.5 289.1,97.9 288.6,99.9 288.2,99.8 287.7,99.5 287.2,99.6 286.8,99.8 286.3,100.5 285.9,99.9 285.4,100.4 284.9,100.1 284.5,100.2 284,99.9 283.6,100.4 283.1,99.2 282.6,99.2 282.2,100 281.7,101.1 281.3,100.6 280.8,100.1 280.3,100.1 279.9,99.6 279.4,99.7 279,99.6 278.5,99.5 278,100 277.6,100.9 277.1,100.7 276.7,100 276.2,100.1 275.8,99.3 275.3,100 274.8,99.5 274.4,100.1 273.9,100.5 273.5,100.9 273,100.3 272.5,100.5 272.1,99.4 271.6,99.4 271.2,100.4 270.7,100 270.2,99.4 269.8,100.3 269.3,100.3 268.9,100.3 268.4,100.4 267.9,99.3 267.5,100 267,100.7 266.6,100.8 266.1,99.5" fill="#F28A00" stroke="none" stroke-width="0"/>
<polyline points="266.1,97.5 266.6,97.9 267,97.7 267.5,97.1 267.9,97.2 268.4,97.6 268.9,97.8 269.3,98 269.8,97.8 270.2,97.4 270.7,97.7 271.2,97.7 271.6,97.2 272.1,97.3 272.5,97.6 273,97.8 273.5,98.2 273.9,97.8 274.4,97.2 274.8,97.5 275.3,97.6 275.8,97.3 276.2,97.5 276.7,97.6 277.1,97.7 277.6,98.2 278,97.9 278.5,97.2 279,97.3 279.4,97.5 279.9,97.4 280.3,97.7 280.8,97.6 281.3,97.6 281.7,98.1 282.2,97.9 282.6,97.2 283.1,97.2 283.6,97.4 284,97.6 284.5,97.9 284.9,97.7 285.4,97.5 285.9,98 286.3,97.8 286.8,97.2 287.2,97.2 287.7,97.3 288.2,97.1 288.6,97 289.1,95.6 289.5,93.8 290,93.4 290.5,93.1 290.9,92.6 291.4,93.5 291.8,94.5 292.3,96.1 292.8,98.5 293.2,99.1 293.7,99.2 294.1,100.9 294.6,101.9 295.1,102.5 295.5,103.5 296,103.8 296.4,103.7 296.9,104.2 297.4,102.7 297.8,100.3 298.3,99.2 298.7,97.7 299.2,96.3 299.6,95.4 300.1,93.7 300.6,92.7 301,93 301.5,91.8 301.9,90.2 302.4,90.8 302.9,91.6 303.3,93 303.8,95 304.2,95.8 304.7,96.9 305.2,99.2 305.6,100.2 306.1,100.4 306.5,101.3 307,101.9 307.5,103.2 307.9,104.8 308.4,103.8 308.8,102.5 309.3,102.3 309.8,101 310.2,99.2 310.7,97.8 311.1,96 311.6,95.4 312.1,95.6 312.5,94 313,92.3 313.4,91.9 313.9,91.1 314.4,91.5 314.8,92.4 315.3,92.7 315.7,94.3 316.2,96.9 316.7,97.7 317.1,98 317.6,99.1 318,99.8 318.5,100.8 319,102.1 319.4,102 319.9,102.7 320.3,103.6 320.8,102.7 321.2,101.2 321.7,100 322.2,98.4 322.6,97.9 323.1,97.6 323.5,95.9 324,94.8 324.5,94.8 324.9,93.7 325.4,92.3 325.8,91.3 326.3,90.8 326.8,92 327.2,94 327.7,94.5 328.1,95.4 328.6,97.2 329.1,98.3 329.5,99.4 330,100.4 330.4,100.7 330.9,102.3 331.4,104.6 331.8,104.8 332.3,104.1 332.7,103.5 333.2,102.1 333.7,101.1 334.1,99.8 334.6,97.6 335,96.7 335.5,96.9 336,95.5 336.4,93.9 336.9,92.7 337.3,91.2 337.8,91 338.3,91.5 338.7,91.3 339.2,92.5 339.6,94.8 340.1,95.9 340.5,96.9 341,97.8 341.5,98.2 341.9,100.1 342.4,102.1 342.8,102.4 343.3,103.4 343.8,105 344.2,104.7 344.7,103.9 345.1,102.4 345.6,100.1 346.1,99.5 346.5,99.1 347,97.5 347.4,96.8 347.9,96.8 348.4,96.8 348.8,97.3 349.3,97.5 349.7,97 350.2,97.2 350.7,97.8 351.1,97.8 351.6,97.8 352,97.8 352.5,97.5 353,97.7 353.4,97.6 353.9,97 354.3,97.2 354.8,97.8 355.3,97.9 355.7,97.9 356.2,97.7 356.6,97.3 357.1,97.6 357.6,97.7 358,97.2 358.5,97.3 358.9,97.8 359.4,97.9 359.9,98 360.3,97.7 360.8,97.2 361.2,97.4 361.7,97.7 362.1,97.3 362.6,97.5 363.1,97.8 363.5,97.8 364,98.1 364.4,97.7 364.9,97 365.4,97.3 365.8,97.7 366.3,97.5 366.7,97.7 367.2,97.8 367.7,97.7 368.1,98 368.6,97.7 369,97 369.5,97.2 370,97.6 370.4,97.7 370.9,97.9 371.3,97.8 371.8,97.5" fill="none" stroke="#F28A00" stroke-width="1.89" stroke-linejoin="round"/>
<text x="374.7" y="106.1" font-size="7.85" text-anchor="end"><tspan font-style="italic">ℓ</tspan>2 = 2</text>
<polygon points="255.5,110.1 256,109.3 256.4,109.4 256.9,110 257.3,109.2 257.8,109.5 258.3,109.7 258.7,109.8 259.2,109.8 259.6,110.1 260.1,110 260.6,109.7 261,109.3 261.5,109.7 261.9,109.8 262.4,108.9 262.9,109.7 263.3,110.2 263.8,110.4 264.2,109.5 264.7,109.3 265.2,109.4 265.6,109.3 266.1,108.9 266.5,109.8 267,109.7 267.4,109.5 267.9,110.4 268.4,109.6 268.8,109.4 269.3,109.5 269.7,109.8 270.2,108.9 270.7,110.1 271.1,109.4 271.6,109.5 272,109.8 272.5,109.3 273,109.3 273.4,109.3 273.9,109.2 274.3,110.4 274.8,112.7 275.3,112.4 275.7,113.7 276.2,114.4 276.6,113.5 277.1,111.7 277.6,110.3 278,108.5 278.5,108.5 278.9,107.5 279.4,106.4 279.9,104.7 280.3,105 280.8,104.5 281.2,104 281.7,103.9 282.2,104.4 282.6,106.4 283.1,108.5 283.5,108.9 284,110.3 284.5,111.5 284.9,112.4 285.4,113.3 285.8,114.7 286.3,114.7 286.8,116.2 287.2,117.4 287.7,115.8 288.1,114.2 288.6,113.6 289,111.7 289.5,111 290,109.4 290.4,107.4 290.9,106.9 291.3,106.6 291.8,104.8 292.3,102.9 292.7,102.3 293.2,101.6 293.6,103.2 294.1,105.3 294.6,105.6 295,106.6 295.5,109.2 295.9,110.1 296.4,111.6 296.9,112 297.3,112.9 297.8,115.3 298.2,116.7 298.7,116.6 299.2,116.9 299.6,116.8 300.1,115.6 300.5,114.2 301,111.9 301.5,109.6 301.9,109.6 302.4,108.8 302.8,107.5 303.3,105.5 303.8,104.2 304.2,103.3 304.7,102.4 305.1,102.3 305.6,102.3 306.1,103.9 306.5,107 307,107.3 307.4,108.9 307.9,109.3 308.4,110.4 308.8,112.6 309.3,113.9 309.7,113.8 310.2,115.7 310.6,117.1 311.1,116.7 311.6,116.1 312,114.4 312.5,112.6 312.9,112.2 313.4,111.1 313.9,109.7 314.3,108.7 314.8,108.7 315.2,107.2 315.7,105.6 316.2,104.2 316.6,102.3 317.1,103.6 317.5,104.8 318,105.4 318.5,106.4 318.9,107.9 319.4,108.6 319.8,110 320.3,110.5 320.8,110.5 321.2,113.2 321.7,115.4 322.1,116.3 322.6,117 323.1,116.7 323.5,116 324,114.9 324.4,114.3 324.9,111.5 325.4,111.2 325.8,110.8 326.3,108.8 326.7,108.2 327.2,106 327.7,104.4 328.1,104.4 328.6,103.3 329,102.1 329.5,103.7 329.9,104.3 330.4,105.8 330.9,107.4 331.3,108.2 331.8,108.2 332.2,110.6 332.7,112.4 333.2,113.3 333.6,115.1 334.1,116.7 334.5,118 335,117.4 335.5,114.8 335.9,111.9 336.4,111 336.8,109.9 337.3,109.3 337.8,108.4 338.2,108.8 338.7,108.8 339.1,108.7 339.6,108.5 340.1,107.8 340.5,108.1 341,109.7 341.4,109.1 341.9,108.9 342.4,108.5 342.8,108.3 343.3,109.9 343.7,109.5 344.2,108.1 344.7,109.1 345.1,109.3 345.6,108.5 346,108.7 346.5,108.5 347,108 347.4,108.7 347.9,109.5 348.3,108.4 348.8,108.2 349.3,108.6 349.7,108.7 350.2,109.9 350.6,109.3 351.1,108 351.5,108.6 352,109.2 352.5,108 352.9,108.8 353.4,109.6 353.8,108.8 354.3,109.7 354.8,109.2 355.2,108.2 355.7,108.7 356.1,108.2 356.6,108.8 357.1,109.5 357.5,109.1 358,109.6 358.4,109.2 358.9,109.2 359.4,108.8 359.8,109.3 360.3,109.1 360.7,108.9 361.2,109.1 361.2,115.3 360.7,115.7 360.3,115.8 359.8,115.6 359.4,114.9 358.9,115.7 358.4,116 358,115.3 357.5,115.9 357.1,116 356.6,115.8 356.1,115.4 355.7,114.8 355.2,114.9 354.8,115.9 354.3,115.7 353.8,116.3 353.4,115.9 352.9,115.4 352.5,115 352,115.1 351.5,115.3 351.1,114.7 350.6,115.9 350.2,116.7 349.7,115.7 349.3,115.5 348.8,114.8 348.3,115.2 347.9,116.1 347.4,115.2 347,115.7 346.5,115.3 346,115.9 345.6,116.3 345.1,116.1 344.7,114.9 344.2,114.4 343.7,114.9 343.3,115.6 342.8,115.2 342.4,115.2 341.9,115.9 341.4,116.1 341,116.1 340.5,115.3 340.1,114.4 339.6,115.1 339.1,116.6 338.7,114.9 338.2,115.1 337.8,116.1 337.3,115.5 336.8,116.5 336.4,117.2 335.9,117.3 335.5,120.5 335,122.7 334.5,122.2 334.1,121.6 333.6,119.6 333.2,117.9 332.7,117 332.2,115.2 331.8,112.9 331.3,112.8 330.9,111.9 330.4,110.8 329.9,109.8 329.5,107.8 329,107.1 328.6,108.4 328.1,109.2 327.7,109.1 327.2,111.2 326.7,112.5 326.3,113.9 325.8,115.4 325.4,116.2 324.9,116.2 324.4,118.9 324,120.1 323.5,120.1 323.1,121.7 322.6,121.5 322.1,121.2 321.7,120.5 321.2,118 320.8,115.4 320.3,115.5 319.8,114.6 319.4,113.2 318.9,111.9 318.5,110.4 318,109.8 317.5,110.1 317.1,108.5 316.6,107 316.2,109 315.7,111.1 315.2,111.9 314.8,112.9 314.3,114 313.9,114.6 313.4,116.5 312.9,116.4 312.5,117.2 312,119.3 311.6,121 311.1,121.8 310.6,121.6 310.2,119.8 309.7,118.7 309.3,118.7 308.8,116.8 308.4,115.4 307.9,114.2 307.4,113.8 307,112.1 306.5,111.5 306.1,108.5 305.6,107.1 305.1,107.2 304.7,106.6 304.2,107.5 303.8,108.8 303.3,110.2 302.8,112.3 302.4,113.8 301.9,114 301.5,115.2 301,116.9 300.5,119.3 300.1,119.7 299.6,121.9 299.2,121.6 298.7,122.2 298.2,122.2 297.8,119.8 297.3,117.6 296.9,117.4 296.4,115.8 295.9,114.9 295.5,114.7 295,112 294.6,109.8 294.1,109.4 293.6,108.4 293.2,106.8 292.7,107.2 292.3,107.6 291.8,109.8 291.3,111 290.9,111.4 290.4,112.5 290,114.8 289.5,115.5 289,116.4 288.6,118.6 288.1,119.4 287.7,121.1 287.2,122 286.8,120.8 286.3,119.5 285.8,119.3 285.4,117.9 284.9,117.1 284.5,116.1 284,114.8 283.5,114.2 283.1,114 282.6,111.7 282.2,109.9 281.7,109.1 281.2,109.1 280.8,108.3 280.3,109.9 279.9,109.4 279.4,111.3 278.9,112.9 278.5,113.2 278,112.8 277.6,115.4 277.1,116.6 276.6,118.4 276.2,119.6 275.7,118 275.3,117.4 274.8,117.5 274.3,116.2 273.9,114.9 273.4,114.1 273,114.1 272.5,115.4 272,115.2 271.6,114.9 271.1,114.3 270.7,114.9 270.2,115.2 269.7,114.6 269.3,114.3 268.8,114.7 268.4,114.7 267.9,115.2 267.4,115.5 267,114.1 266.5,114.6 266.1,114 265.6,114.2 265.2,114.8 264.7,114.2 264.2,115.2 263.8,115 263.3,115 262.9,114.7 262.4,114.7 261.9,114 261.5,114.4 261,115.3 260.6,114.5 260.1,114.5 259.6,115.8 259.2,114.7 258.7,114.8 258.3,114.3 257.8,113.9 257.3,115 256.9,115.2 256.4,115.2 256,114.5 255.5,115" fill="#E8470C" stroke="none" stroke-width="0"/>
<polyline points="255.5,112.5 256,112.2 256.4,112.2 256.9,112.6 257.3,112.3 257.8,111.8 258.3,111.9 258.7,112 259.2,112.3 259.6,112.7 260.1,112.3 260.6,112.1 261,112.4 261.5,112.2 261.9,111.9 262.4,112 262.9,112 263.3,112.4 263.8,112.8 264.2,112.4 264.7,112 265.2,112.2 265.6,112.1 266.1,112 266.5,112.1 267,112 267.4,112.3 267.9,112.9 268.4,112.4 268.8,111.9 269.3,112 269.7,112 270.2,112.1 270.7,112.3 271.1,112 271.6,112.3 272,112.8 272.5,112.4 273,111.9 273.4,111.9 273.9,112 274.3,113.1 274.8,114.7 275.3,115.3 275.7,116 276.2,116.9 276.6,115.8 277.1,113.9 277.6,112.5 278,110.9 278.5,110.5 278.9,110.3 279.4,108.5 279.9,107.4 280.3,107.3 280.8,106.4 281.2,106.3 281.7,106.8 282.2,107.2 282.6,109.2 283.1,111.4 283.5,111.7 284,112.4 284.5,113.9 284.9,114.7 285.4,115.8 285.8,116.9 286.3,117.1 286.8,118.7 287.2,119.8 287.7,118.5 288.1,116.9 288.6,115.8 289,114.1 289.5,113.2 290,112 290.4,109.8 290.9,109 291.3,108.8 291.8,107.1 292.3,105.5 292.7,104.4 293.2,104.2 293.6,105.8 294.1,107.4 294.6,107.9 295,109.5 295.5,111.8 295.9,112.8 296.4,113.8 296.9,114.7 297.3,115.3 297.8,117.4 298.2,119.3 298.7,119.4 299.2,119.3 299.6,119 300.1,117.6 300.5,116.4 301,114.6 301.5,112.4 301.9,111.9 302.4,111.5 302.8,109.5 303.3,107.9 303.8,106.7 304.2,105.2 304.7,104.7 305.1,104.6 305.6,104.5 306.1,106.4 306.5,108.9 307,109.9 307.4,111 307.9,112.1 308.4,112.9 308.8,114.9 309.3,116.2 309.7,116.3 310.2,117.7 310.6,119.3 311.1,119 311.6,118.1 312,116.5 312.5,114.7 312.9,114.5 313.4,113.8 313.9,111.9 314.3,111.1 314.8,110.6 315.2,109.3 315.7,108.4 316.2,106.7 316.6,105 317.1,105.8 317.5,107.1 318,107.4 318.5,108.5 318.9,109.9 319.4,110.9 319.8,112.5 320.3,113.1 320.8,113.4 321.2,115.6 321.7,117.7 322.1,118.4 322.6,119.3 323.1,119.3 323.5,118.2 324,117.8 324.4,116.3 324.9,114 325.4,113.5 325.8,113.1 326.3,111.7 326.7,110.5 327.2,108.6 327.7,106.8 328.1,106.5 328.6,105.6 329,104.4 329.5,105.6 329.9,107.2 330.4,108.4 330.9,109.8 331.3,110.3 331.8,110.8 332.2,113.1 332.7,114.9 333.2,115.7 333.6,117.5 334.1,119.1 334.5,120 335,120.1 335.5,117.5 335.9,114.8 336.4,113.9 336.8,113.1 337.3,112.3 337.8,112.3 338.2,112.3 338.7,112.3 339.1,112.6 339.6,112.2 340.1,111.6 340.5,111.9 341,112.3 341.4,112.3 341.9,112.5 342.4,112.3 342.8,112.1 343.3,112.5 343.7,112.2 344.2,111.6 344.7,111.9 345.1,112.2 345.6,112.4 346,112.7 346.5,112.3 347,112 347.4,112.3 347.9,112.2 348.3,111.8 348.8,112 349.3,112.2 349.7,112.5 350.2,112.8 350.6,112.3 351.1,111.8 351.5,112.2 352,112.2 352.5,111.9 352.9,112.1 353.4,112.2 353.8,112.4 354.3,112.8 354.8,112.3 355.2,111.7 355.7,112 356.1,112.1 356.6,112.1 357.1,112.3 357.5,112.2 358,112.3 358.4,112.7 358.9,112.3 359.4,111.7 359.8,111.9 360.3,112 360.7,112.2 361.2,112.5" fill="none" stroke="#E8470C" stroke-width="1.9319999999999997" stroke-linejoin="round"/>
<text x="364.1" y="120.7" font-size="7.85" text-anchor="end"><tspan font-style="italic">ℓ</tspan>2 = 2</text>
<polyline points="419.4,1.4 313.7,1.4 250.3,89 250.3,148.1 356,148.1 419.4,60.5" fill="none" stroke="#1f1f1f" stroke-width="0.8" stroke-linejoin="miter"/>
<line x1="250.3" y1="148.1" x2="250.3" y2="150.4" stroke="#1f1f1f" stroke-width="0.8"/>
<text x="250.3" y="158.4" font-size="8.2" text-anchor="middle" fill="#000">0</text>
<line x1="260.9" y1="148.1" x2="260.9" y2="149.5" stroke="#1f1f1f" stroke-width="0.7"/>
<line x1="271.4" y1="148.1" x2="271.4" y2="150.4" stroke="#1f1f1f" stroke-width="0.8"/>
<text x="271.4" y="158.4" font-size="8.2" text-anchor="middle" fill="#000">2</text>
<line x1="282" y1="148.1" x2="282" y2="149.5" stroke="#1f1f1f" stroke-width="0.7"/>
<line x1="292.6" y1="148.1" x2="292.6" y2="150.4" stroke="#1f1f1f" stroke-width="0.8"/>
<text x="292.6" y="158.4" font-size="8.2" text-anchor="middle" fill="#000">4</text>
<line x1="303.2" y1="148.1" x2="303.2" y2="149.5" stroke="#1f1f1f" stroke-width="0.7"/>
<line x1="313.7" y1="148.1" x2="313.7" y2="150.4" stroke="#1f1f1f" stroke-width="0.8"/>
<text x="313.7" y="158.4" font-size="8.2" text-anchor="middle" fill="#000">6</text>
<line x1="324.3" y1="148.1" x2="324.3" y2="149.5" stroke="#1f1f1f" stroke-width="0.7"/>
<line x1="334.9" y1="148.1" x2="334.9" y2="150.4" stroke="#1f1f1f" stroke-width="0.8"/>
<text x="334.9" y="158.4" font-size="8.2" text-anchor="middle" fill="#000">8</text>
<line x1="345.4" y1="148.1" x2="345.4" y2="149.5" stroke="#1f1f1f" stroke-width="0.7"/>
<line x1="356" y1="148.1" x2="356" y2="150.4" stroke="#1f1f1f" stroke-width="0.8"/>
<text x="356" y="158.4" font-size="8.2" text-anchor="middle" fill="#000">10</text>
<line x1="248" y1="148.1" x2="250.3" y2="148.1" stroke="#1f1f1f" stroke-width="0.8"/>
<text x="247.1" y="151" font-size="8.2" text-anchor="end" fill="#000">0.0</text>
<line x1="248" y1="118.5" x2="250.3" y2="118.5" stroke="#1f1f1f" stroke-width="0.8"/>
<text x="247.1" y="121.5" font-size="8.2" text-anchor="end" fill="#000">0.5</text>
<line x1="248" y1="89" x2="250.3" y2="89" stroke="#1f1f1f" stroke-width="0.8"/>
<text x="247.1" y="91.9" font-size="8.2" text-anchor="end" fill="#000">1.0</text>
<line x1="248.9" y1="133.3" x2="250.3" y2="133.3" stroke="#1f1f1f" stroke-width="0.7"/>
<line x1="248.9" y1="103.8" x2="250.3" y2="103.8" stroke="#1f1f1f" stroke-width="0.7"/>
<text x="303.1" y="165.5" font-size="7.7" text-anchor="middle" fill="#000">Time (s)</text>
<text transform="translate(230.7,127.5) rotate(-90)" font-size="7.7" text-anchor="middle">Rel. Amp. (arb. units)</text>
<line x1="362.1" y1="140.2" x2="364.5" y2="140.2" stroke="#1f1f1f" stroke-width="0.8"/>
<text x="366.7" y="142.8" font-size="7.95" text-anchor="start" fill="#000">v = 5 cm/s</text>
<line x1="372.7" y1="125.6" x2="375.1" y2="125.6" stroke="#1f1f1f" stroke-width="0.8"/>
<text x="377.3" y="128.2" font-size="7.95" text-anchor="start" fill="#000">v = −5 cm/s</text>
<line x1="383.3" y1="111" x2="385.7" y2="111" stroke="#1f1f1f" stroke-width="0.8"/>
<text x="387.9" y="113.6" font-size="7.95" text-anchor="start" fill="#000">v = 5 cm/s</text>
<line x1="393.9" y1="96.4" x2="396.3" y2="96.4" stroke="#1f1f1f" stroke-width="0.8"/>
<text x="398.5" y="99" font-size="7.95" text-anchor="start" fill="#000">v = 10 cm/s</text>
<line x1="404.5" y1="81.8" x2="406.9" y2="81.8" stroke="#1f1f1f" stroke-width="0.8"/>
<text x="409.1" y="84.4" font-size="7.95" text-anchor="start" fill="#000">v = −10 cm/s</text>
<line x1="415.1" y1="67.2" x2="417.5" y2="67.2" stroke="#1f1f1f" stroke-width="0.8"/>
<text x="419.7" y="69.8" font-size="7.95" text-anchor="start" fill="#000">v = 10 cm/s</text>
<text x="237.9" y="15.7" font-size="10.6" text-anchor="start" fill="#000" font-weight="bold">c</text>
<polygon points="538.6,60.5 644.3,60.5 644.3,1.4 538.6,1.4" fill="#FFFEE8" stroke="none" stroke-width="0"/>
<polygon points="475.2,148.1 580.9,148.1 644.3,60.5 538.6,60.5" fill="#F5F5F5" stroke="none" stroke-width="0"/>
<clipPath id="w448_0"><rect x="0" y="84.2" width="685" height="486"/></clipPath>
<g clip-path="url(#w448_0)">
<polygon points="475.2,148.1 475.2,89 538.6,1.4 538.6,60.5" fill="#FEF5F5" stroke="none" stroke-width="0"/>
<polygon points="538.6,60.5 644.3,60.5 644.3,1.4 538.6,1.4" fill="#FDF2E9" stroke="none" stroke-width="0"/>
</g>
<line x1="559.7" y1="60.5" x2="559.7" y2="1.4" stroke="#D9D9D9" stroke-width="0.5"/>
<line x1="496.3" y1="148.1" x2="559.7" y2="60.5" stroke="#D9D9D9" stroke-width="0.5"/>
<line x1="580.9" y1="60.5" x2="580.9" y2="1.4" stroke="#D9D9D9" stroke-width="0.5"/>
<line x1="517.5" y1="148.1" x2="580.9" y2="60.5" stroke="#D9D9D9" stroke-width="0.5"/>
<line x1="602" y1="60.5" x2="602" y2="1.4" stroke="#D9D9D9" stroke-width="0.5"/>
<line x1="538.6" y1="148.1" x2="602" y2="60.5" stroke="#D9D9D9" stroke-width="0.5"/>
<line x1="623.2" y1="60.5" x2="623.2" y2="1.4" stroke="#D9D9D9" stroke-width="0.5"/>
<line x1="559.8" y1="148.1" x2="623.2" y2="60.5" stroke="#D9D9D9" stroke-width="0.5"/>
<line x1="538.6" y1="31" x2="644.3" y2="31" stroke="#D9D9D9" stroke-width="0.5"/>
<line x1="475.2" y1="118.5" x2="538.6" y2="31" stroke="#D9D9D9" stroke-width="0.5"/>
<line x1="481.3" y1="140.2" x2="587" y2="140.2" stroke="#D9D9D9" stroke-width="0.5"/>
<line x1="481.3" y1="140.2" x2="481.3" y2="81.1" stroke="#D9D9D9" stroke-width="0.5"/>
<line x1="491.9" y1="125.6" x2="597.6" y2="125.6" stroke="#D9D9D9" stroke-width="0.5"/>
<line x1="491.9" y1="125.6" x2="491.9" y2="66.5" stroke="#D9D9D9" stroke-width="0.5"/>
<line x1="502.5" y1="111" x2="608.2" y2="111" stroke="#D9D9D9" stroke-width="0.5"/>
<line x1="502.5" y1="111" x2="502.5" y2="51.9" stroke="#D9D9D9" stroke-width="0.5"/>
<line x1="513.1" y1="96.4" x2="618.8" y2="96.4" stroke="#D9D9D9" stroke-width="0.5"/>
<line x1="513.1" y1="96.4" x2="513.1" y2="37.3" stroke="#D9D9D9" stroke-width="0.5"/>
<line x1="523.7" y1="81.8" x2="629.4" y2="81.8" stroke="#D9D9D9" stroke-width="0.5"/>
<line x1="523.7" y1="81.8" x2="523.7" y2="22.7" stroke="#D9D9D9" stroke-width="0.5"/>
<line x1="534.3" y1="67.2" x2="640" y2="67.2" stroke="#D9D9D9" stroke-width="0.5"/>
<line x1="534.3" y1="67.2" x2="534.3" y2="8.1" stroke="#D9D9D9" stroke-width="0.5"/>
<line x1="644.3" y1="60.5" x2="644.3" y2="1.4" stroke="#BDBDBD" stroke-width="0.6"/>
<line x1="538.6" y1="60.5" x2="644.3" y2="60.5" stroke="#BDBDBD" stroke-width="0.6"/>
<line x1="538.6" y1="60.5" x2="538.6" y2="1.4" stroke="#BDBDBD" stroke-width="0.6"/>
<line x1="475.2" y1="148.1" x2="538.6" y2="60.5" stroke="#BDBDBD" stroke-width="0.6"/>
<polygon points="533.4,36.1 533.9,36.2 534.3,36.6 534.8,36.1 535.2,37.2 535.7,36.8 536.2,36.8 536.6,36.5 537.1,36.9 537.5,36.9 538,36.5 538.5,36.6 538.9,37.1 539.4,37 539.8,36.5 540.3,36.5 540.8,36 541.2,36.2 541.7,36.4 542.1,36.8 542.6,37.2 543.1,36.3 543.5,36.6 544,37.2 544.4,36.1 544.9,36.6 545.3,36.7 545.8,36.5 546.3,36.9 546.7,37 547.2,36.3 547.6,36.9 548.1,36.9 548.6,36.3 549,35.8 549.5,37 549.9,36.6 550.4,36.9 550.9,37.4 551.3,36.6 551.8,36.5 552.2,36.2 552.7,36.9 553.2,36 553.6,36.3 554.1,36.5 554.5,37 555,36.5 555.5,36.7 555.9,35.9 556.4,36.4 556.8,36.1 557.3,37 557.8,36.4 558.2,36.8 558.7,36.5 559.1,37.4 559.6,36.8 560.1,36.6 560.5,36.2 561,36.1 561.4,36.6 561.9,37.1 562.4,37 562.8,37.2 563.3,37 563.7,36.7 564.2,36.5 564.7,36.4 565.1,35.9 565.6,36.7 566,36.3 566.5,36.4 566.9,36.7 567.4,37 567.9,37.1 568.3,36 568.8,36.5 569.2,36.6 569.7,36.7 570.2,36.4 570.6,36.9 571.1,36.6 571.5,36.7 572,37 572.5,39.3 572.9,44.2 573.4,45.3 573.8,42.1 574.3,36.3 574.8,30.3 575.2,26.6 575.7,29.5 576.1,34.4 576.6,40.6 577.1,46.1 577.5,49.2 578,47.7 578.4,43.2 578.9,37.2 579.4,31.7 579.8,27.7 580.3,28.8 580.7,33.8 581.2,39.5 581.7,44.6 582.1,49 582.6,48.9 583,44.1 583.5,38.4 584,32.4 584.4,28 584.9,28.3 585.3,32.7 585.8,37.9 586.2,43.9 586.7,48.3 587.2,48.7 587.6,44.8 588.1,39.4 588.5,33.7 589,30 589.5,29.1 589.9,32.3 590.4,37.2 590.8,42.1 591.3,45.9 591.8,45.5 592.2,40.9 592.7,37 593.1,36.4 593.6,36.8 594.1,37 594.5,36.1 595,36 595.4,36 595.9,36.3 596.4,36 596.8,35.9 597.3,36.3 597.7,37 598.2,36.4 598.7,36.2 599.1,36.8 599.6,36.3 600,36.8 600.5,37 601,36.8 601.4,36.8 601.9,37 602.3,36.8 602.8,36.7 603.3,37 603.7,36.4 604.2,36.1 604.6,37 605.1,37 605.6,36.6 606,37 606.5,36.1 606.9,36.1 607.4,36.8 607.8,36.8 608.3,36.2 608.8,36.7 609.2,37 609.7,37 610.1,37 610.6,36.5 611.1,36.5 611.5,36 612,36.2 612.4,36.1 612.9,37.2 613.4,36.5 613.8,36.6 614.3,36 614.7,36.5 615.2,36.3 615.7,37 616.1,36 616.6,36.4 617,37.2 617.5,36.8 618,36.2 618.4,36.5 618.9,36.2 619.3,36.1 619.8,37 620.3,37 620.7,36.7 621.2,36.8 621.6,36.4 622.1,37.1 622.6,36.5 623,36.1 623.5,36.8 623.9,36 624.4,36.7 624.9,37.1 625.3,36.7 625.8,36.5 626.2,36.4 626.7,36.4 627.2,36.4 627.6,36.4 628.1,36.6 628.5,36.7 629,37.2 629.4,36.2 629.9,37 630.4,36.3 630.8,36.2 631.3,35.8 631.7,36.8 632.2,36.3 632.7,37 633.1,36.9 633.6,36.2 634,36.7 634.5,36.2 635,36 635.4,35.8 635.9,36.6 636.3,36.4 636.8,36.6 637.3,36.7 637.7,36.3 638.2,37 638.6,36.2 639.1,36.2 639.1,41.2 638.6,41.3 638.2,41.4 637.7,42.3 637.3,42.1 636.8,42 636.3,42.4 635.9,41.8 635.4,41 635,41.8 634.5,42 634,41.8 633.6,41.9 633.1,41.8 632.7,42.1 632.2,42.3 631.7,42.2 631.3,41.7 630.8,41.2 630.4,42.5 629.9,41.9 629.4,41.9 629,42.2 628.5,41.8 628.1,41.7 627.6,41.3 627.2,41.2 626.7,41.1 626.2,42.1 625.8,42.5 625.3,42.3 624.9,41.4 624.4,41.2 623.9,41.5 623.5,41.9 623,41.5 622.6,41.6 622.1,41.8 621.6,42.1 621.2,42.3 620.7,42.4 620.3,41.7 619.8,41.8 619.3,41.5 618.9,41.2 618.4,42.1 618,42.6 617.5,41.8 617,41.6 616.6,42.3 616.1,41.3 615.7,41.9 615.2,41.7 614.7,41.7 614.3,42.1 613.8,42.1 613.4,42.4 612.9,41.8 612.4,41.7 612,41.3 611.5,42.1 611.1,42 610.6,42.1 610.1,42.1 609.7,41.8 609.2,41.9 608.8,42.3 608.3,42 607.8,41.7 607.4,42.1 606.9,42.3 606.5,41.7 606,41.7 605.6,41.9 605.1,42 604.6,41.4 604.2,41.5 603.7,41 603.3,42.1 602.8,41.8 602.3,41.4 601.9,41.8 601.4,42.3 601,42.1 600.5,42.1 600,41.4 599.6,41.3 599.1,41.3 598.7,42.1 598.2,42.3 597.7,41.9 597.3,41.9 596.8,41.3 596.4,42.2 595.9,42.1 595.4,41.4 595,41.7 594.5,42.2 594.1,42.4 593.6,42.1 593.1,41.6 592.7,41.7 592.2,43.9 591.8,47.8 591.3,47.1 590.8,43.5 590.4,38.4 589.9,33.6 589.5,30.5 589,31.3 588.5,34.9 588.1,40.7 587.6,46.2 587.2,50.2 586.7,49.6 586.2,45.3 585.8,39.5 585.3,34.3 584.9,29.7 584.4,29.3 584,33.8 583.5,39.6 583,45.4 582.6,50.2 582.1,50.3 581.7,45.9 581.2,40.8 580.7,35.1 580.3,30.1 579.8,29.1 579.4,32.8 578.9,38.7 578.4,44.7 578,49 577.5,50.5 577.1,47.3 576.6,42 576.1,35.7 575.7,30.7 575.2,27.8 574.8,31.5 574.3,37.5 573.8,43.4 573.4,47.3 572.9,47.3 572.5,43.3 572,41.9 571.5,42.3 571.1,41.3 570.6,41.9 570.2,42.6 569.7,41.9 569.2,41.2 568.8,42 568.3,41.4 567.9,41.7 567.4,41.5 566.9,42.1 566.5,42.2 566,41.8 565.6,41.6 565.1,41.5 564.7,41.4 564.2,41.2 563.7,41.8 563.3,41.7 562.8,42.1 562.4,42.3 561.9,42.2 561.4,42.2 561,41.5 560.5,41.4 560.1,41.2 559.6,41.9 559.1,42.1 558.7,42.1 558.2,41.9 557.8,42.1 557.3,41.6 556.8,41.7 556.4,41.9 555.9,41.1 555.5,42.3 555,41.7 554.5,42 554.1,41.8 553.6,41.8 553.2,41.6 552.7,41.6 552.2,41.8 551.8,42 551.3,41.7 550.9,42.6 550.4,41.8 549.9,42.2 549.5,42 549,41.3 548.6,42.1 548.1,41.5 547.6,41.2 547.2,41.4 546.7,42.4 546.3,41.9 545.8,41.5 545.3,41.2 544.9,41.1 544.4,41.2 544,42.4 543.5,42.1 543.1,41.4 542.6,42.1 542.1,41.9 541.7,41.9 541.2,41.4 540.8,41.3 540.3,41.4 539.8,42.2 539.4,41.4 538.9,42.3 538.5,42.3 538,41.7 537.5,41.7 537.1,41.9 536.6,41.2 536.2,42.2 535.7,41.7 535.2,41.9 534.8,41.5 534.3,42 533.9,42 533.4,42.1" fill="#6A1FC2" stroke="none" stroke-width="0"/>
<polyline points="533.4,39.1 533.9,39.1 534.3,39.2 534.8,39.2 535.2,39.4 535.7,39.5 536.2,39.1 536.6,39 537.1,39.1 537.5,39.2 538,39.2 538.5,39.3 538.9,39.2 539.4,39.3 539.8,39.5 540.3,39.1 540.8,38.9 541.2,39.1 541.7,39.2 542.1,39.3 542.6,39.3 543.1,39.2 543.5,39.2 544,39.4 544.4,39.1 544.9,38.9 545.3,39.1 545.8,39.1 546.3,39.3 546.7,39.4 547.2,39.2 547.6,39.2 548.1,39.3 548.6,39.1 549,39 549.5,39.1 549.9,39.1 550.4,39.4 550.9,39.5 551.3,39.2 551.8,39.1 552.2,39.2 552.7,39.1 553.2,39.1 553.6,39.1 554.1,39.1 554.5,39.4 555,39.5 555.5,39.2 555.9,39 556.4,39.1 556.8,39.1 557.3,39.2 557.8,39.2 558.2,39.1 558.7,39.3 559.1,39.5 559.6,39.2 560.1,39 560.5,39.1 561,39.1 561.4,39.2 561.9,39.3 562.4,39.1 562.8,39.3 563.3,39.4 563.7,39.2 564.2,39 564.7,39 565.1,39 565.6,39.3 566,39.4 566.5,39.2 566.9,39.2 567.4,39.3 567.9,39.2 568.3,39.1 568.8,39 569.2,39 569.7,39.3 570.2,39.5 570.6,39.2 571.1,39.2 571.5,39.2 572,39.3 572.5,41.6 572.9,46 573.4,46.2 573.8,42.7 574.3,36.9 574.8,30.9 575.2,27.2 575.7,30.1 576.1,35.1 576.6,41.4 577.1,46.7 577.5,50 578,48.4 578.4,44.1 578.9,37.9 579.4,32.3 579.8,28.4 580.3,29.5 580.7,34.5 581.2,40.2 581.7,45.3 582.1,49.6 582.6,49.4 583,44.8 583.5,38.9 584,33.1 584.4,28.6 584.9,29.1 585.3,33.5 585.8,38.7 586.2,44.5 586.7,49 587.2,49.5 587.6,45.5 588.1,39.9 588.5,34.3 589,30.7 589.5,29.8 589.9,32.9 590.4,37.7 590.8,42.8 591.3,46.5 591.8,46.8 592.2,42.4 592.7,39.4 593.1,39.1 593.6,39.5 594.1,39.3 594.5,39.2 595,39.1 595.4,39.1 595.9,39.2 596.4,39.2 596.8,39 597.3,39.3 597.7,39.5 598.2,39.3 598.7,39.3 599.1,39.1 599.6,39 600,39.2 600.5,39.2 601,39.1 601.4,39.3 601.9,39.4 602.3,39.3 602.8,39.3 603.3,39 603.7,38.9 604.2,39.2 604.6,39.3 605.1,39.2 605.6,39.3 606,39.3 606.5,39.3 606.9,39.3 607.4,39 607.8,38.9 608.3,39.2 608.8,39.4 609.2,39.3 609.7,39.3 610.1,39.2 610.6,39.2 611.1,39.3 611.5,39.1 612,38.9 612.4,39.2 612.9,39.4 613.4,39.3 613.8,39.3 614.3,39.2 614.7,39.1 615.2,39.3 615.7,39.1 616.1,39 616.6,39.2 617,39.4 617.5,39.4 618,39.4 618.4,39.1 618.9,39 619.3,39.2 619.8,39.2 620.3,39.1 620.7,39.2 621.2,39.3 621.6,39.4 622.1,39.4 622.6,39.1 623,38.9 623.5,39.2 623.9,39.2 624.4,39.2 624.9,39.3 625.3,39.3 625.8,39.3 626.2,39.4 626.7,39.1 627.2,38.9 627.6,39.1 628.1,39.3 628.5,39.3 629,39.3 629.4,39.2 629.9,39.2 630.4,39.4 630.8,39.1 631.3,38.9 631.7,39.1 632.2,39.3 632.7,39.3 633.1,39.4 633.6,39.2 634,39.1 634.5,39.3 635,39.1 635.4,39 635.9,39.1 636.3,39.2 636.8,39.4 637.3,39.5 637.7,39.1 638.2,39 638.6,39.2 639.1,39.1" fill="none" stroke="#6A1FC2" stroke-width="0.95" stroke-linejoin="round"/>
<text x="644" y="48.4" font-size="7.85" text-anchor="end"><tspan font-style="italic">ℓ</tspan>2 = 0</text>
<polygon points="522.8,50.6 523.3,50.5 523.7,50.2 524.2,50.7 524.6,49.5 525.1,49.6 525.6,50.5 526,50.6 526.5,50.7 526.9,49.7 527.4,50.8 527.9,50.3 528.3,51 528.8,50.4 529.2,49.6 529.7,50.7 530.2,50.9 530.6,49.9 531.1,50.7 531.5,50 532,49.8 532.5,51 532.9,49.9 533.4,51.1 533.8,49.8 534.3,49.8 534.7,50 535.2,49.5 535.7,49.5 536.1,50.6 536.6,50.3 537,50.3 537.5,50.7 538,50.8 538.4,49.5 538.9,50 539.3,50.9 539.8,49.7 540.3,50.9 540.7,50.1 541.2,49.9 541.6,50.9 542.1,49.6 542.6,50.7 543,50.9 543.5,51 543.9,49.9 544.4,50.5 544.9,51.2 545.3,50.8 545.8,50 546.2,50.1 546.7,50.6 547.2,50.6 547.6,50.1 548.1,50.5 548.5,49.8 549,50.5 549.5,49.7 549.9,50.4 550.4,49.6 550.8,50.3 551.3,50.3 551.8,51 552.2,49.6 552.7,50.5 553.1,49.7 553.6,50.8 554.1,50 554.5,50 555,50 555.4,50.3 555.9,49.9 556.3,49.8 556.8,49.7 557.3,49.6 557.7,49.6 558.2,49.6 558.6,49.7 559.1,50.2 559.6,50.7 560,50.5 560.5,50.9 560.9,50.1 561.4,49.5 561.9,50.2 562.3,50.2 562.8,49.6 563.2,50.4 563.7,51 564.2,50.3 564.6,49.7 565.1,50.7 565.5,50.7 566,49.8 566.5,50.9 566.9,51.9 567.4,50.1 567.8,46.4 568.3,43.6 568.8,46.5 569.2,51.2 569.7,56 570.1,60 570.6,62.9 571.1,60.1 571.5,55.4 572,50.1 572.4,45.7 572.9,43 573.4,46.5 573.8,51 574.3,55.7 574.7,60.9 575.2,63.9 575.6,60.5 576.1,55.7 576.6,49.7 577,44.7 577.5,42.6 577.9,45.6 578.4,50.4 578.9,56.4 579.3,61.3 579.8,63.8 580.2,60.5 580.7,55.1 581.2,49.7 581.6,45.8 582.1,43.7 582.5,46.4 583,51 583.5,55.9 583.9,60 584.4,62.2 584.8,58.8 585.3,54.4 585.8,50.4 586.2,47.9 586.7,48.1 587.1,50.8 587.6,51.7 588.1,51.3 588.5,51.7 589,51.2 589.4,51.1 589.9,51.1 590.4,51.6 590.8,51.9 591.3,51.4 591.7,51.8 592.2,51.8 592.7,52 593.1,51.7 593.6,51.4 594,50.9 594.5,51.2 595,51.5 595.4,51.2 595.9,52 596.3,51.5 596.8,51.6 597.2,51.9 597.7,51.4 598.2,50.9 598.6,51.7 599.1,51.7 599.5,52.1 600,51.4 600.5,51.5 600.9,51.2 601.4,51.6 601.8,51 602.3,51.4 602.8,51.8 603.2,51.5 603.7,51.3 604.1,51.9 604.6,51.5 605.1,51 605.5,51.4 606,51.7 606.4,51.6 606.9,51.7 607.4,52 607.8,52.1 608.3,51.4 608.7,50.9 609.2,51.2 609.7,51.7 610.1,51.2 610.6,51.1 611,51.5 611.5,51.6 612,51.3 612.4,51.4 612.9,51.6 613.3,51 613.8,51.2 614.3,51 614.7,51.4 615.2,51.6 615.6,51.5 616.1,52 616.6,51.5 617,51.3 617.5,51.5 617.9,51.8 618.4,52 618.8,51.6 619.3,51 619.8,50.9 620.2,51.3 620.7,51.3 621.1,50.9 621.6,51.3 622.1,51.5 622.5,51.1 623,52.2 623.4,51 623.9,51.6 624.4,51 624.8,51.2 625.3,51.5 625.7,52 626.2,51.8 626.7,51.9 627.1,51.4 627.6,52 628,51.3 628.5,51.7 628.5,56 628,56 627.6,56.4 627.1,56.7 626.7,56.7 626.2,56.5 625.7,56.1 625.3,56.6 624.8,55.7 624.4,56.3 623.9,55.7 623.4,56.5 623,56.1 622.5,56 622.1,55.5 621.6,56.4 621.1,56 620.7,55.6 620.2,56.4 619.8,55.7 619.3,56.7 618.8,56.4 618.4,56.6 617.9,56 617.5,56.1 617,56.3 616.6,56.5 616.1,56.7 615.6,56.4 615.2,56.4 614.7,56.6 614.3,55.8 613.8,55.6 613.3,56.3 612.9,56.3 612.4,56.6 612,56.1 611.5,56.7 611,56.6 610.6,56.1 610.1,56.1 609.7,55.8 609.2,56.4 608.7,55.5 608.3,55.9 607.8,56.1 607.4,56 606.9,56.3 606.4,56.7 606,56.2 605.5,56.3 605.1,55.9 604.6,56 604.1,56.4 603.7,56.9 603.2,55.9 602.8,56.5 602.3,55.9 601.8,56.1 601.4,56.5 600.9,56.4 600.5,56 600,56.1 599.5,56.2 599.1,55.9 598.6,55.7 598.2,55.8 597.7,55.4 597.2,56.5 596.8,56.7 596.3,55.8 595.9,56 595.4,56.9 595,56 594.5,56.3 594,55.8 593.6,56.3 593.1,56.1 592.7,55.9 592.2,56.4 591.7,56.4 591.3,56.4 590.8,56 590.4,56 589.9,55.7 589.4,56 589,55.8 588.5,56.6 588.1,56.4 587.6,56.3 587.1,54.3 586.7,51.2 586.2,49.9 585.8,52 585.3,55.8 584.8,60.2 584.4,63.6 583.9,61.3 583.5,57.3 583,52.5 582.5,47.9 582.1,45.1 581.6,47.1 581.2,51 580.7,56.5 580.2,62 579.8,65.1 579.3,62.7 578.9,57.6 578.4,51.8 577.9,47.2 577.5,43.9 577,46 576.6,51.2 576.1,57.1 575.6,62 575.2,65.1 574.7,62.2 574.3,57.1 573.8,52.2 573.4,47.7 572.9,44.3 572.4,46.9 572,51.5 571.5,56.8 571.1,61.5 570.6,64 570.1,61.4 569.7,57.4 569.2,52.6 568.8,47.9 568.3,44.8 567.8,48.7 567.4,54.4 566.9,57.2 566.5,57.1 566,57.1 565.5,57.9 565.1,57.3 564.6,57.3 564.2,57.4 563.7,57.4 563.2,56.6 562.8,57.5 562.3,57.9 561.9,56.9 561.4,56.8 560.9,56.8 560.5,57.9 560,57.4 559.6,57.7 559.1,57.6 558.6,57.8 558.2,56.6 557.7,57 557.3,57.5 556.8,56.9 556.3,57.4 555.9,58.2 555.4,57.2 555,56.7 554.5,56.9 554.1,58 553.6,57.5 553.1,57.2 552.7,57.9 552.2,57.4 551.8,57.4 551.3,57.7 550.8,56.4 550.4,56.8 549.9,57.5 549.5,58 549,57.3 548.5,57.6 548.1,57 547.6,57 547.2,57 546.7,56.8 546.2,57.5 545.8,57.8 545.3,57.9 544.9,57.3 544.4,57.3 543.9,57.8 543.5,57 543,57.6 542.6,57.5 542.1,56.7 541.6,57.1 541.2,56.9 540.7,57.5 540.3,57 539.8,56.8 539.3,57.7 538.9,57.6 538.4,56.8 538,57.8 537.5,57.4 537,57.1 536.6,58.1 536.1,57.6 535.7,57.7 535.2,57 534.7,57.8 534.3,57.7 533.8,56.7 533.4,57.9 532.9,57 532.5,58.3 532,57.8 531.5,56.5 531.1,57.6 530.6,57.4 530.2,57 529.7,56.9 529.2,56.7 528.8,57.4 528.3,58.1 527.9,58 527.4,56.7 526.9,57.8 526.5,57.3 526,57.8 525.6,57.4 525.1,57 524.6,57.7 524.2,57.6 523.7,57.5 523.3,57.4 522.8,57" fill="#3F4FC4" stroke="none" stroke-width="0"/>
<polyline points="522.8,53.7 523.3,53.6 523.7,53.8 524.2,53.9 524.6,53.7 525.1,53.8 525.6,54 526,53.9 526.5,53.7 526.9,53.6 527.4,53.6 527.9,53.8 528.3,54 528.8,53.8 529.2,53.8 529.7,54 530.2,53.8 530.6,53.7 531.1,53.7 531.5,53.5 532,53.8 532.5,54.1 532.9,53.9 533.4,53.8 533.8,53.8 534.3,53.7 534.7,53.8 535.2,53.7 535.7,53.6 536.1,53.8 536.6,54.1 537,53.9 537.5,53.8 538,53.8 538.4,53.6 538.9,53.8 539.3,53.8 539.8,53.6 540.3,53.8 540.7,54.1 541.2,53.9 541.6,53.8 542.1,53.7 542.6,53.6 543,53.8 543.5,53.9 543.9,53.7 544.4,53.8 544.9,54 545.3,53.9 545.8,53.8 546.2,53.7 546.7,53.5 547.2,53.8 547.6,54 548.1,53.8 548.5,53.8 549,53.9 549.5,53.8 549.9,53.8 550.4,53.7 550.8,53.5 551.3,53.8 551.8,54 552.2,53.9 552.7,53.9 553.1,53.9 553.6,53.8 554.1,53.8 554.5,53.7 555,53.5 555.4,53.8 555.9,54 556.3,53.9 556.8,53.9 557.3,53.8 557.7,53.6 558.2,53.8 558.6,53.8 559.1,53.6 559.6,53.8 560,54 560.5,54 560.9,53.9 561.4,53.7 561.9,53.6 562.3,53.8 562.8,53.8 563.2,53.7 563.7,53.8 564.2,54 564.6,53.9 565.1,54 565.5,53.7 566,53.5 566.5,54.1 566.9,54.5 567.4,52 567.8,47.6 568.3,44.2 568.8,47.1 569.2,52 569.7,56.7 570.1,60.7 570.6,63.5 571.1,60.8 571.5,56 572,50.9 572.4,46.2 572.9,43.7 573.4,47.1 573.8,51.5 574.3,56.4 574.7,61.6 575.2,64.5 575.6,61.3 576.1,56.4 576.6,50.4 577,45.4 577.5,43.3 577.9,46.4 578.4,51.1 578.9,57 579.3,61.9 579.8,64.4 580.2,61.3 580.7,55.9 581.2,50.3 581.6,46.4 582.1,44.3 582.5,47.1 583,51.8 583.5,56.7 583.9,60.8 584.4,62.9 584.8,59.6 585.3,55 585.8,51.1 586.2,49 586.7,49.8 587.1,52.8 587.6,53.8 588.1,53.9 588.5,54 589,53.8 589.4,53.5 589.9,53.7 590.4,53.8 590.8,53.8 591.3,54 591.7,53.8 592.2,53.8 592.7,54 593.1,53.8 593.6,53.5 594,53.7 594.5,53.8 595,53.9 595.4,54 595.9,53.8 596.3,53.7 596.8,53.9 597.2,53.8 597.7,53.6 598.2,53.7 598.6,53.8 599.1,53.9 599.5,54.1 600,53.8 600.5,53.6 600.9,53.8 601.4,53.8 601.8,53.7 602.3,53.8 602.8,53.8 603.2,53.9 603.7,54.1 604.1,53.8 604.6,53.6 605.1,53.7 605.5,53.7 606,53.7 606.4,53.8 606.9,53.8 607.4,53.9 607.8,54.1 608.3,53.8 608.7,53.6 609.2,53.7 609.7,53.7 610.1,53.8 610.6,54 611,53.8 611.5,53.8 612,54 612.4,53.8 612.9,53.6 613.3,53.6 613.8,53.7 614.3,53.9 614.7,54 615.2,53.8 615.6,53.8 616.1,53.9 616.6,53.8 617,53.6 617.5,53.7 617.9,53.6 618.4,53.9 618.8,54.1 619.3,53.9 619.8,53.7 620.2,53.8 620.7,53.7 621.1,53.7 621.6,53.7 622.1,53.6 622.5,53.9 623,54.1 623.4,53.9 623.9,53.7 624.4,53.7 624.8,53.7 625.3,53.8 625.7,53.8 626.2,53.7 626.7,53.9 627.1,54.1 627.6,53.9 628,53.7 628.5,53.7" fill="none" stroke="#3F4FC4" stroke-width="0.95" stroke-linejoin="round"/>
<text x="633.4" y="63" font-size="7.85" text-anchor="end"><tspan font-style="italic">ℓ</tspan>2 = 2</text>
<polygon points="512.2,64.6 512.7,65.6 513.1,65.4 513.6,65.1 514,65.3 514.5,64.9 515,65.9 515.4,65.3 515.9,65.2 516.3,64.5 516.8,64.8 517.3,65.1 517.7,65.5 518.2,65.7 518.6,65.3 519.1,65.7 519.6,64.6 520,64.4 520.5,65.5 520.9,65.1 521.4,65.3 521.9,65.2 522.3,64.6 522.8,65.1 523.2,65.2 523.7,65 524.1,65.2 524.6,65.2 525.1,65.6 525.5,65.7 526,64.6 526.4,65.8 526.9,65.4 527.4,65 527.8,65.5 528.3,64.7 528.7,65.4 529.2,65.6 529.7,65 530.1,65.7 530.6,64.9 531,65.2 531.5,65.5 532,64.8 532.4,65.8 532.9,64.5 533.3,65.4 533.8,66.1 534.3,65.9 534.7,64.9 535.2,64.6 535.6,64.9 536.1,65.2 536.6,65.7 537,64.9 537.5,65.7 537.9,65.4 538.4,65.4 538.9,65.6 539.3,65.3 539.8,64.4 540.2,65.2 540.7,65.6 541.2,65.1 541.6,65.9 542.1,65.3 542.5,65.5 543,64.7 543.5,65.4 543.9,65.3 544.4,65.8 544.8,65.6 545.3,65.8 545.7,65.8 546.2,65.5 546.7,64.8 547.1,65.3 547.6,64.8 548,65.1 548.5,65.7 549,65.5 549.4,65.5 549.9,65.8 550.3,65.4 550.8,65.1 551.3,65.7 551.7,65.5 552.2,65 552.6,65 553.1,66.1 553.6,65.8 554,65.2 554.5,65.5 554.9,65.3 555.4,64.9 555.9,65.1 556.3,65 556.8,65.9 557.2,65.8 557.7,64.9 558.2,65.4 558.6,65.3 559.1,66.1 559.5,63.4 560,59.3 560.5,57.3 560.9,61.3 561.4,67.1 561.8,72.6 562.3,77.3 562.8,78.1 563.2,73.8 563.7,68.8 564.1,63 564.6,57.9 565.1,56.8 565.5,60.7 566,66.6 566.4,73.2 566.9,78.4 567.3,79.2 567.8,75.2 568.3,69.1 568.7,62.3 569.2,56.8 569.6,55.2 570.1,59.5 570.6,66.8 571,73.4 571.5,78.5 571.9,80.1 572.4,75.5 572.9,69.2 573.3,62.5 573.8,56.9 574.2,55.7 574.7,60.6 575.2,66.9 575.6,72.5 576.1,77.5 576.5,78.4 577,74.5 577.5,69 577.9,62.8 578.4,57.9 578.8,57.8 579.3,62.2 579.8,65.8 580.2,65.9 580.7,65.1 581.1,65.1 581.6,64.7 582.1,64.6 582.5,64.1 583,63.8 583.4,64.2 583.9,63.9 584.4,64.5 584.8,64.9 585.3,63.9 585.7,65.3 586.2,63.6 586.6,63.6 587.1,64.3 587.6,64.7 588,65.3 588.5,65.4 588.9,64.1 589.4,63.8 589.9,63.8 590.3,65.2 590.8,63.8 591.2,64.4 591.7,65.1 592.2,64 592.6,64.9 593.1,64.8 593.5,63.8 594,64.8 594.5,64.5 594.9,64.6 595.4,64.2 595.8,64.4 596.3,64.6 596.8,65.6 597.2,64 597.7,63.6 598.1,64.7 598.6,63.9 599.1,63.6 599.5,65.3 600,65.2 600.4,64.9 600.9,64.8 601.4,63.7 601.8,64.1 602.3,64.7 602.7,64.7 603.2,63.8 603.7,64.1 604.1,65.1 604.6,65.1 605,63.8 605.5,63.6 606,64.7 606.4,64.7 606.9,64.4 607.3,64.3 607.8,64.6 608.2,64.1 608.7,64 609.2,64.6 609.6,65.2 610.1,64.1 610.5,63.8 611,63.8 611.5,64.6 611.9,65.2 612.4,63.6 612.8,65.2 613.3,64.7 613.8,65.1 614.2,64.6 614.7,64.7 615.1,65 615.6,64.5 616.1,65.5 616.5,64.1 617,63.5 617.4,64.6 617.9,64.3 617.9,73 617.4,73.1 617,71.5 616.5,73.2 616.1,72.7 615.6,73 615.1,73.1 614.7,72 614.2,72.9 613.8,72.8 613.3,72.5 612.8,71.9 612.4,71.7 611.9,73 611.5,71.9 611,72.8 610.5,72.9 610.1,71.6 609.6,72.2 609.2,72.1 608.7,72.2 608.2,72.6 607.8,72.3 607.3,72.6 606.9,72 606.4,71.5 606,71.3 605.5,71.8 605,73.1 604.6,72.2 604.1,72.1 603.7,71.8 603.2,72.8 602.7,73.1 602.3,72.4 601.8,72 601.4,72.8 600.9,71.8 600.4,72 600,72.5 599.5,71.8 599.1,72.6 598.6,72.1 598.1,72.6 597.7,71.5 597.2,72.2 596.8,73.3 596.3,73.3 595.8,72.9 595.4,72.3 594.9,72.9 594.5,72.8 594,72.7 593.5,72.4 593.1,73.1 592.6,72.5 592.2,72.9 591.7,72.4 591.2,72.8 590.8,71.5 590.3,71.8 589.9,71.6 589.4,72.5 588.9,72.5 588.5,71.9 588,73.2 587.6,72.5 587.1,72.3 586.6,72.1 586.2,71.5 585.7,71.9 585.3,72 584.8,73 584.4,72.3 583.9,72.9 583.4,72.3 583,72 582.5,72.4 582.1,71.9 581.6,73 581.1,73 580.7,72.3 580.2,73 579.8,70 579.3,65.4 578.8,59.6 578.4,59.2 577.9,64 577.5,70.4 577,75.7 576.5,79.9 576.1,78.9 575.6,74.1 575.2,68.3 574.7,62 574.2,57 573.8,58.3 573.3,63.7 572.9,70.3 572.4,76.9 571.9,81.3 571.5,80 571,74.7 570.6,68.2 570.1,60.9 569.6,56.5 569.2,58 568.7,63.7 568.3,70.5 567.8,76.7 567.3,80.5 566.9,79.6 566.4,74.6 566,67.8 565.5,62.1 565.1,58 564.6,59.4 564.1,64.3 563.7,70 563.2,75.2 562.8,79.3 562.3,78.8 561.8,74.2 561.4,68.3 560.9,62.7 560.5,58.7 560,61.2 559.5,66.8 559.1,70.2 558.6,72.1 558.2,71.2 557.7,71.8 557.2,71.8 556.8,71.1 556.3,70.9 555.9,72.2 555.4,72 554.9,71.1 554.5,71.1 554,71.3 553.6,72.1 553.1,71.5 552.6,71.5 552.2,70.7 551.7,71.8 551.3,71.1 550.8,71.4 550.3,71.7 549.9,72.1 549.4,71.3 549,72.1 548.5,72.3 548,71.9 547.6,72 547.1,71.4 546.7,71.3 546.2,71.4 545.7,71.2 545.3,71.2 544.8,72.4 544.4,71.3 543.9,71.7 543.5,71.5 543,71.5 542.5,71.7 542.1,71.2 541.6,71.1 541.2,71.3 540.7,71.9 540.2,71.1 539.8,71.1 539.3,72 538.9,71.8 538.4,72 537.9,71.5 537.5,71.4 537,71 536.6,72.3 536.1,71.5 535.6,70.8 535.2,72 534.7,71.4 534.3,72 533.8,72.2 533.3,71.1 532.9,71.7 532.4,71.7 532,72 531.5,71.8 531,71.3 530.6,71.9 530.1,71.3 529.7,72.3 529.2,71.1 528.7,71.3 528.3,72.1 527.8,70.8 527.4,71.3 526.9,71.5 526.4,71.8 526,71 525.5,71.7 525.1,71.5 524.6,71.5 524.1,71.3 523.7,70.9 523.2,71.8 522.8,71.8 522.3,71.7 521.9,71.6 521.4,72.2 520.9,72 520.5,70.9 520,70.9 519.6,71.8 519.1,71.3 518.6,72.1 518.2,71.7 517.7,71.8 517.3,72.1 516.8,71.9 516.3,71.4 515.9,70.8 515.4,70.8 515,71.3 514.5,71.4 514,71.7 513.6,72 513.1,71.8 512.7,71.2 512.2,71.3" fill="#1E88D8" stroke="none" stroke-width="0"/>
<polyline points="512.2,68.3 512.7,68.4 513.1,68.5 513.6,68.3 514,68.5 514.5,68.7 515,68.4 515.4,68.2 515.9,68.3 516.3,68.3 516.8,68.5 517.3,68.6 517.7,68.4 518.2,68.4 518.6,68.6 519.1,68.4 519.6,68.2 520,68.2 520.5,68.2 520.9,68.5 521.4,68.7 521.9,68.4 522.3,68.4 522.8,68.5 523.2,68.4 523.7,68.3 524.1,68.3 524.6,68.2 525.1,68.5 525.5,68.7 526,68.4 526.4,68.3 526.9,68.4 527.4,68.3 527.8,68.3 528.3,68.3 528.7,68.2 529.2,68.5 529.7,68.7 530.1,68.5 530.6,68.3 531,68.3 531.5,68.2 532,68.4 532.4,68.4 532.9,68.3 533.3,68.5 533.8,68.7 534.3,68.5 534.7,68.3 535.2,68.2 535.6,68.2 536.1,68.4 536.6,68.5 537,68.3 537.5,68.5 537.9,68.6 538.4,68.4 538.9,68.3 539.3,68.2 539.8,68.1 540.2,68.5 540.7,68.6 541.2,68.4 541.6,68.4 542.1,68.5 542.5,68.4 543,68.4 543.5,68.3 543.9,68.1 544.4,68.5 544.8,68.7 545.3,68.5 545.7,68.4 546.2,68.4 546.7,68.3 547.1,68.4 547.6,68.3 548,68.2 548.5,68.5 549,68.7 549.4,68.5 549.9,68.4 550.3,68.3 550.8,68.2 551.3,68.4 551.7,68.4 552.2,68.2 552.6,68.5 553.1,68.7 553.6,68.5 554,68.4 554.5,68.3 554.9,68.1 555.4,68.4 555.9,68.5 556.3,68.3 556.8,68.5 557.2,68.6 557.7,68.5 558.2,68.5 558.6,68.8 559.1,68.3 559.5,65.4 560,60.4 560.5,58 560.9,62.1 561.4,67.7 561.8,73.3 562.3,78.1 562.8,78.7 563.2,74.4 563.7,69.3 564.1,63.7 564.6,58.5 565.1,57.4 565.5,61.4 566,67.3 566.4,74 566.9,79 567.3,79.9 567.8,75.9 568.3,69.9 568.7,62.9 569.2,57.4 569.6,55.8 570.1,60.3 570.6,67.4 571,74.2 571.5,79.2 571.9,80.7 572.4,76.3 572.9,69.7 573.3,63.2 573.8,57.6 574.2,56.4 574.7,61.4 575.2,67.5 575.6,73.3 576.1,78.2 576.5,79.2 577,75.1 577.5,69.6 577.9,63.4 578.4,58.6 578.8,58.7 579.3,63.8 579.8,68 580.2,69.5 580.7,68.7 581.1,68.5 581.6,68.6 582.1,68.3 582.5,68.1 583,68.3 583.4,68.5 583.9,68.5 584.4,68.6 584.8,68.4 585.3,68.4 585.7,68.5 586.2,68.3 586.6,68.1 587.1,68.3 587.6,68.5 588,68.6 588.5,68.6 588.9,68.4 589.4,68.3 589.9,68.5 590.3,68.3 590.8,68.2 591.2,68.4 591.7,68.5 592.2,68.6 592.6,68.7 593.1,68.3 593.5,68.2 594,68.4 594.5,68.4 594.9,68.3 595.4,68.4 595.8,68.4 596.3,68.5 596.8,68.7 597.2,68.3 597.7,68.1 598.1,68.3 598.6,68.4 599.1,68.4 599.5,68.5 600,68.4 600.4,68.5 600.9,68.6 601.4,68.3 601.8,68.1 602.3,68.3 602.7,68.4 603.2,68.5 603.7,68.6 604.1,68.4 604.6,68.4 605,68.6 605.5,68.3 606,68.1 606.4,68.3 606.9,68.4 607.3,68.5 607.8,68.7 608.2,68.4 608.7,68.3 609.2,68.5 609.6,68.3 610.1,68.2 610.5,68.3 611,68.3 611.5,68.6 611.9,68.7 612.4,68.4 612.8,68.2 613.3,68.4 613.8,68.3 614.2,68.3 614.7,68.4 615.1,68.3 615.6,68.5 616.1,68.7 616.5,68.4 617,68.2 617.4,68.3 617.9,68.3" fill="none" stroke="#1E88D8" stroke-width="0.95" stroke-linejoin="round"/>
<text x="622.8" y="77.6" font-size="7.85" text-anchor="end"><tspan font-style="italic">ℓ</tspan>2 = 2</text>
<polygon points="501.6,80.8 502.1,81.1 502.5,81.1 503,80.1 503.4,80.6 503.9,81.4 504.4,80.6 504.8,81 505.3,81.3 505.7,80.9 506.2,80.7 506.7,81 507.1,80.9 507.6,79.8 508,80.9 508.5,80.7 509,81 509.4,81.1 509.9,80.7 510.3,80.6 510.8,81.1 511.3,80.9 511.7,80.8 512.2,80.8 512.6,80.8 513.1,81.5 513.5,81.2 514,81.2 514.5,80.5 514.9,81.3 515.4,80.4 515.8,80.7 516.3,80.7 516.8,81.2 517.2,81.4 517.7,81.2 518.1,80.9 518.6,80.3 519.1,81.2 519.5,80.3 520,80.8 520.4,81.3 520.9,80.9 521.4,81 521.8,81.7 522.3,80.7 522.7,80.7 523.2,80.7 523.7,81.2 524.1,80.6 524.6,81.1 525,80.8 525.5,81.5 526,81.3 526.4,80.2 526.9,80.5 527.3,80.7 527.8,81.1 528.3,80.6 528.7,80.8 529.2,80.7 529.6,81.3 530.1,80.8 530.6,80.8 531,80.1 531.5,80.3 531.9,81.4 532.4,81.7 532.9,81.8 533.3,80.7 533.8,80.7 534.2,81.9 534.7,83.3 535.1,85.4 535.6,88.2 536.1,88.6 536.5,88.4 537,87 537.4,83.1 537.9,80.7 538.4,79.3 538.8,76.9 539.3,74.8 539.7,73.9 540.2,73.5 540.7,74.9 541.1,76.8 541.6,77.3 542,78.7 542.5,81.5 543,83.7 543.4,85.5 543.9,88.1 544.3,89.1 544.8,90.1 545.3,89.6 545.7,87.3 546.2,84.3 546.6,82.8 547.1,80.4 547.6,79.3 548,77 548.5,74.7 548.9,74.1 549.4,74 549.9,73.8 550.3,75 550.8,77.3 551.2,79.1 551.7,82.6 552.2,84.6 552.6,85.6 553.1,87.4 553.5,89.4 554,88.7 554.5,87.7 554.9,86 555.4,84.5 555.8,83.9 556.3,81.9 556.7,78.6 557.2,75.8 557.7,74.6 558.1,72.2 558.6,72.3 559,73.3 559.5,75 560,78.1 560.4,81.4 560.9,82.6 561.3,85 561.8,87.4 562.3,89.2 562.7,91.3 563.2,91.6 563.6,89.2 564.1,88.8 564.6,86.8 565,83 565.5,79.5 565.9,76.9 566.4,74.6 566.9,73.7 567.3,72.4 567.8,71.9 568.2,74.4 568.7,76.4 569.2,78.3 569.6,79.7 570.1,82.4 570.5,84.3 571,87.9 571.5,89.7 571.9,88.4 572.4,86.9 572.8,85 573.3,83 573.8,81.1 574.2,81.1 574.7,81 575.1,81.7 575.6,81.4 576,81.3 576.5,81.4 577,81.1 577.4,81.1 577.9,80.9 578.3,81.2 578.8,80.6 579.3,81.4 579.7,81.5 580.2,81.3 580.6,81.4 581.1,81.3 581.6,80.6 582,81.5 582.5,81 582.9,81.2 583.4,81.4 583.9,82 584.3,81.5 584.8,81.1 585.2,80.5 585.7,80.8 586.2,81 586.6,81 587.1,80.8 587.5,81 588,81.4 588.5,81.3 588.9,81.4 589.4,81 589.8,80.6 590.3,81.1 590.8,81 591.2,80.9 591.7,81.2 592.1,81 592.6,81.3 593.1,81.2 593.5,80.9 594,80.6 594.4,81.6 594.9,81.7 595.4,81.3 595.8,81.6 596.3,81.1 596.7,81.2 597.2,81.4 597.6,80.9 598.1,81 598.6,81.5 599,81.7 599.5,81 599.9,81.3 600.4,80.9 600.9,80.6 601.3,81.6 601.8,81 602.2,81.1 602.7,81.4 603.2,81.7 603.6,81.6 604.1,81.1 604.5,81 605,80.3 605.5,81.5 605.9,81.5 606.4,80.7 606.8,81.1 607.3,81.2 607.3,85 606.8,84.7 606.4,84.8 605.9,84.8 605.5,85.2 605,84.1 604.5,84.5 604.1,84.8 603.6,85 603.2,85.6 602.7,85.1 602.2,84.6 601.8,84.7 601.3,85.3 600.9,84.4 600.4,84.7 599.9,85.4 599.5,85 599,85.2 598.6,84.9 598.1,84 597.6,84.8 597.2,85.1 596.7,84.6 596.3,85.2 595.8,84.6 595.4,84.9 594.9,85.2 594.4,84.9 594,83.9 593.5,84.1 593.1,84.9 592.6,84.5 592.1,85 591.7,85 591.2,84.6 590.8,85.5 590.3,85.2 589.8,84.2 589.4,84.6 588.9,85.1 588.5,84.9 588,85 587.5,85.4 587.1,84.7 586.6,85 586.2,85.3 585.7,84.4 585.2,84.4 584.8,84.7 584.3,85.1 583.9,85.6 583.4,85.2 582.9,84.2 582.5,84.8 582,84.7 581.6,84.7 581.1,84.5 580.6,84.5 580.2,84.7 579.7,85.2 579.3,85.4 578.8,84.5 578.3,84.4 577.9,84.5 577.4,84.4 577,84.7 576.5,84.9 576,85.2 575.6,85.6 575.1,85.4 574.7,84.3 574.2,84.7 573.8,85.3 573.3,86.4 572.8,88 572.4,90.4 571.9,91.9 571.5,92.5 571,91.1 570.5,87.4 570.1,85.6 569.6,83.1 569.2,80.9 568.7,79.7 568.2,77.5 567.8,74.9 567.3,75.4 566.9,76.5 566.4,77.2 565.9,79.8 565.5,82.3 565,85.6 564.6,89.9 564.1,91.4 563.6,92.8 563.2,94.3 562.7,94.7 562.3,92.5 561.8,90.8 561.3,88 560.9,85.4 560.4,84.2 560,81.6 559.5,78.2 559,76.2 558.6,75.3 558.1,75.7 557.7,77.7 557.2,79.2 556.7,81.6 556.3,84.7 555.8,86.5 555.4,87.6 554.9,89.4 554.5,90.9 554,92.3 553.5,92.6 553.1,90.6 552.6,88.9 552.2,88.1 551.7,85.5 551.2,82.3 550.8,80.3 550.3,78.1 549.9,77 549.4,77.6 548.9,77.6 548.5,78.2 548,80.4 547.6,82 547.1,83.5 546.6,85.7 546.2,87.9 545.7,89.8 545.3,92.7 544.8,93.7 544.3,92.1 543.9,90.8 543.4,89.1 543,86.9 542.5,84.4 542,81.5 541.6,80.6 541.1,79.9 540.7,78.4 540.2,76.1 539.7,77.4 539.3,78.5 538.8,80.4 538.4,82.4 537.9,83.9 537.4,86.2 537,90.1 536.5,91.3 536.1,92 535.6,91.1 535.1,89 534.7,87.2 534.2,86.1 533.8,85.1 533.3,84.7 532.9,85.6 532.4,85.4 531.9,84.7 531.5,85.1 531,84.7 530.6,84.8 530.1,85 529.6,85.1 529.2,85.4 528.7,85.3 528.3,85.2 527.8,85.3 527.3,85.2 526.9,84.3 526.4,84.9 526,85.9 525.5,85.3 525,85.1 524.6,85.4 524.1,85 523.7,85.2 523.2,84.9 522.7,84.8 522.3,85.2 521.8,85.7 521.4,85.2 520.9,85.1 520.4,85.1 520,84.8 519.5,84.8 519.1,85.1 518.6,84.4 518.1,84.5 517.7,85.9 517.2,85.2 516.8,84.9 516.3,85.2 515.8,84.2 515.4,85.2 514.9,85.5 514.5,84.6 514,84.6 513.5,85.4 513.1,85.3 512.6,85.3 512.2,84.8 511.7,84.6 511.3,85.1 510.8,85.6 510.3,85 509.9,85.2 509.4,85.8 509,85.1 508.5,85.7 508,85.4 507.6,84.7 507.1,84.3 506.7,85.2 506.2,84.9 505.7,84.9 505.3,85.5 504.8,85.1 504.4,85 503.9,85.1 503.4,84.8 503,85.1 502.5,85.7 502.1,85.2 501.6,85.2" fill="#FFB700" stroke="none" stroke-width="0"/>
<polyline points="501.6,83.3 502.1,83.3 502.5,83.2 503,82.6 503.4,82.4 503.9,83 504.4,83.1 504.8,83 505.3,83.2 505.7,83.2 506.2,83.2 506.7,83.3 507.1,82.6 507.6,82.4 508,83 508.5,83.2 509,83.2 509.4,83.3 509.9,83 510.3,83 510.8,83.2 511.3,82.7 511.7,82.4 512.2,83 512.6,83.2 513.1,83.3 513.5,83.3 514,82.9 514.5,82.8 514.9,83.2 515.4,82.8 515.8,82.5 516.3,83 516.8,83.2 517.2,83.4 517.7,83.4 518.1,82.8 518.6,82.6 519.1,83.1 519.5,82.9 520,82.7 520.4,83.1 520.9,83.1 521.4,83.4 521.8,83.4 522.3,82.7 522.7,82.5 523.2,83 523.7,83 524.1,83 524.6,83.2 525,83 525.5,83.3 526,83.4 526.4,82.7 526.9,82.4 527.3,82.9 527.8,83 528.3,83.2 528.7,83.3 529.2,83 529.6,83.1 530.1,83.3 530.6,82.8 531,82.5 531.5,82.8 531.9,83 532.4,83.3 532.9,83.4 533.3,82.9 533.8,83.1 534.2,84.3 534.7,85.3 535.1,87 535.6,89.6 536.1,90.1 536.5,90 537,88.4 537.4,84.9 537.9,82.4 538.4,80.9 538.8,78.5 539.3,76.7 539.7,75.7 540.2,74.8 540.7,76.7 541.1,78.5 541.6,78.8 542,80.3 542.5,83 543,85 543.4,87.3 543.9,89.3 544.3,90.4 544.8,91.9 545.3,91.4 545.7,88.5 546.2,86.1 546.6,84.4 547.1,82.2 547.6,80.7 548,78.9 548.5,76.5 548.9,75.7 549.4,75.7 549.9,75.7 550.3,76.7 550.8,78.8 551.2,81 551.7,84.2 552.2,86.5 552.6,87.4 553.1,89.2 553.5,90.9 554,90.5 554.5,89.1 554.9,87.7 555.4,86 555.8,85.2 556.3,83.4 556.7,79.9 557.2,77.6 557.7,76 558.1,74 558.6,73.7 559,74.8 559.5,76.3 560,79.7 560.4,82.7 560.9,84.2 561.3,86.4 561.8,89 562.3,90.9 562.7,93 563.2,93 563.6,91.1 564.1,90.1 564.6,88.2 565,84.3 565.5,81.1 565.9,78.3 566.4,76 566.9,75.1 567.3,73.9 567.8,73.4 568.2,75.7 568.7,78.1 569.2,79.5 569.6,81.6 570.1,83.8 570.5,86.1 571,89.5 571.5,91 571.9,90.1 572.4,88.7 572.8,86.6 573.3,84.4 573.8,83.2 574.2,82.6 574.7,82.6 575.1,83.3 575.6,83.5 576,83 576.5,83 577,83 577.4,82.8 577.9,83 578.3,82.7 578.8,82.6 579.3,83.3 579.7,83.6 580.2,83.1 580.6,83 581.1,82.8 581.6,82.7 582,83 582.5,82.9 582.9,82.7 583.4,83.2 583.9,83.5 584.3,83.2 584.8,83 585.2,82.7 585.7,82.6 586.2,83.1 586.6,83.1 587.1,82.8 587.5,83.2 588,83.4 588.5,83.1 588.9,83 589.4,82.6 589.8,82.5 590.3,83.1 590.8,83.3 591.2,83 591.7,83.2 592.1,83.2 592.6,83.1 593.1,83.1 593.5,82.6 594,82.4 594.4,83.2 594.9,83.4 595.4,83.1 595.8,83.2 596.3,83 596.7,82.9 597.2,83.1 597.6,82.7 598.1,82.5 598.6,83.1 599,83.4 599.5,83.2 599.9,83.2 600.4,82.8 600.9,82.7 601.3,83.1 601.8,82.8 602.2,82.6 602.7,83.1 603.2,83.4 603.6,83.3 604.1,83.2 604.5,82.7 605,82.6 605.5,83.1 605.9,83 606.4,82.8 606.8,83.2 607.3,83.3" fill="none" stroke="#FFB700" stroke-width="1.26" stroke-linejoin="round"/>
<text x="612.2" y="92.2" font-size="7.85" text-anchor="end"><tspan font-style="italic">ℓ</tspan>2 = 0</text>
<polygon points="491,93.1 491.5,94 491.9,94.2 492.4,94.8 492.8,94.4 493.3,94.9 493.8,93.7 494.2,94.1 494.7,93.8 495.1,93.7 495.6,93.1 496.1,94.9 496.5,94.7 497,95 497.4,94.2 497.9,93.6 498.4,93.3 498.8,94.4 499.3,93.3 499.7,93.3 500.2,94.4 500.7,94.5 501.1,93.8 501.6,94.3 502,93 502.5,94.2 502.9,94 503.4,94.6 503.9,93.5 504.3,94.1 504.8,93.6 505.2,93.6 505.7,93.7 506.2,94.3 506.6,94.2 507.1,93.2 507.5,93.8 508,94.4 508.5,95 508.9,93.9 509.4,93.5 509.8,94.8 510.3,94.4 510.8,93.5 511.2,93.2 511.7,94.7 512.1,94.1 512.6,93.7 513.1,94.3 513.5,94.4 514,93.9 514.4,94.6 514.9,93.1 515.4,94.4 515.8,94.7 516.3,93.9 516.7,94.3 517.2,93.5 517.7,93.3 518.1,94.5 518.6,93.6 519,94.7 519.5,93.6 520,94.2 520.4,94.3 520.9,94.3 521.3,93.9 521.8,93.5 522.3,93.6 522.7,93.8 523.2,94.3 523.6,95 524.1,94.2 524.5,93.8 525,94.2 525.5,94.6 525.9,95.5 526.4,97.6 526.8,100.9 527.3,104.1 527.8,105.3 528.2,103.7 528.7,102.6 529.1,100.2 529.6,97.3 530.1,95.1 530.5,92.4 531,90.9 531.4,90.7 531.9,89.4 532.4,87.4 532.8,88.7 533.3,90.5 533.7,92.1 534.2,94 534.7,96.7 535.1,98.9 535.6,102.1 536,103.5 536.5,104 537,103.8 537.4,102.6 537.9,101.3 538.3,99.4 538.8,97.5 539.3,94.5 539.7,94.1 540.2,91.7 540.6,89.2 541.1,88.3 541.6,87.7 542,89.6 542.5,91.7 542.9,93.7 543.4,94.5 543.9,97.4 544.3,99.5 544.8,100.3 545.2,101.2 545.7,101.7 546.1,101.7 546.6,102.6 547.1,100.7 547.5,98.4 548,97 548.4,94.9 548.9,92.5 549.4,91 549.8,88.8 550.3,88.2 550.7,89.5 551.2,90.9 551.7,91.2 552.1,93.5 552.6,95.4 553,97.4 553.5,99.7 554,100.8 554.4,102.6 554.9,105.5 555.3,105.1 555.8,102.7 556.3,101 556.7,98.3 557.2,95.9 557.6,94.5 558.1,92 558.6,90 559,89.3 559.5,88.8 559.9,88.7 560.4,89.5 560.9,90.5 561.3,92.7 561.8,96 562.2,98 562.7,99.1 563.2,100.1 563.6,99.9 564.1,97.9 564.5,96.6 565,94.8 565.4,94.9 565.9,95.1 566.4,94.7 566.8,94.4 567.3,95.2 567.7,95.3 568.2,95 568.7,94.7 569.1,94.7 569.6,95.1 570,94.9 570.5,94.8 571,95.2 571.4,95 571.9,94.5 572.3,95.1 572.8,94.7 573.3,94.4 573.7,95.1 574.2,95.5 574.6,94.8 575.1,95 575.6,95 576,95.1 576.5,94.2 576.9,94.8 577.4,94.4 577.9,94.3 578.3,95.1 578.8,95.7 579.2,95.5 579.7,94.8 580.2,94 580.6,95.1 581.1,95.6 581.5,95 582,94.4 582.5,95.1 582.9,95.3 583.4,95.5 583.8,95.1 584.3,94.9 584.8,94.2 585.2,95.6 585.7,95.5 586.1,95.5 586.6,95.6 587,95.2 587.5,95.3 588,95.2 588.4,94.7 588.9,94.8 589.3,95.1 589.8,94.9 590.3,95 590.7,94.7 591.2,95 591.6,95 592.1,94.9 592.6,94.3 593,94.6 593.5,94.9 593.9,95.3 594.4,95.8 594.9,95.6 595.3,94.5 595.8,94.4 596.2,95.4 596.7,95 596.7,100.1 596.2,100 595.8,99.8 595.3,99.8 594.9,100.1 594.4,100.2 593.9,100 593.5,100.5 593,99.8 592.6,99.5 592.1,100.3 591.6,100 591.2,99.9 590.7,100.2 590.3,100.3 589.8,99.9 589.3,100.2 588.9,99.3 588.4,100.2 588,100.4 587.5,100.3 587,100.6 586.6,100.2 586.1,100.4 585.7,100.7 585.2,100.9 584.8,99.7 584.3,99.7 583.8,99.9 583.4,100.5 582.9,101 582.5,100.4 582,100.1 581.5,100 581.1,100.9 580.6,99.7 580.2,99.3 579.7,100.1 579.2,100.9 578.8,100.4 578.3,100.7 577.9,100.2 577.4,100 576.9,100.8 576.5,100.4 576,100.2 575.6,100.6 575.1,99.9 574.6,100.3 574.2,100.5 573.7,100.3 573.3,99.3 572.8,100.4 572.3,99.6 571.9,100.6 571.4,100.4 571,100.2 570.5,100.7 570,100.1 569.6,100.2 569.1,100.2 568.7,100 568.2,100.8 567.7,99.9 567.3,100 566.8,99.9 566.4,100.9 565.9,100.3 565.4,99.5 565,100 564.5,101.5 564.1,102.4 563.6,104.1 563.2,104.3 562.7,102.1 562.2,101 561.8,99.5 561.3,96.1 560.9,93.6 560.4,92.8 559.9,91.9 559.5,92 559,92.8 558.6,93.2 558.1,94.8 557.6,97.6 557.2,99.2 556.7,101.5 556.3,104.2 555.8,105.7 555.3,108 554.9,108.8 554.4,106 554,103.9 553.5,103.1 553,100.1 552.6,98.6 552.1,96.8 551.7,94.1 551.2,93.8 550.7,92.6 550.3,91.1 549.8,92 549.4,94.2 548.9,95.9 548.4,98.4 548,100.1 547.5,101.3 547.1,104.2 546.6,105.7 546.1,105.3 545.7,105 545.2,104 544.8,103.1 544.3,102.5 543.9,100.6 543.4,98 542.9,96.6 542.5,94.7 542,92.7 541.6,90.9 541.1,91.1 540.6,92.7 540.2,95.4 539.7,97.2 539.3,98 538.8,100.1 538.3,102.8 537.9,104.1 537.4,105.8 537,107.1 536.5,106.6 536,107.1 535.6,105.3 535.1,102 534.7,99.4 534.2,97.4 533.7,95.1 533.3,93.6 532.8,92.2 532.4,90.9 531.9,92.3 531.4,93.5 531,93.8 530.5,95.9 530.1,97.9 529.6,100.5 529.1,103.4 528.7,105.6 528.2,106.7 527.8,108.6 527.3,108.2 526.8,104.7 526.4,102.6 525.9,100.7 525.5,100.5 525,100.8 524.5,101.3 524.1,101.2 523.6,101.4 523.2,101.8 522.7,100.8 522.3,100.5 521.8,101.5 521.3,100.7 520.9,102.1 520.4,101.2 520,101.8 519.5,101.3 519,100.8 518.6,100.4 518.1,100.6 517.7,100.9 517.2,101 516.7,100.8 516.3,101.8 515.8,101.6 515.4,101.7 514.9,100.6 514.4,100.2 514,101.8 513.5,101.1 513.1,100.4 512.6,101.7 512.1,101.6 511.7,101.7 511.2,101.6 510.8,101.5 510.3,100.5 509.8,100.7 509.4,101.5 508.9,100.7 508.5,101.6 508,101.7 507.5,100.5 507.1,100.9 506.6,100.5 506.2,100.1 505.7,101 505.2,100.9 504.8,101 504.3,100.8 503.9,100.7 503.4,100.9 502.9,101.6 502.5,100.6 502,100.6 501.6,102.2 501.1,101 500.7,101.6 500.2,101.3 499.7,100.5 499.3,101.8 498.8,101.7 498.4,100.8 497.9,100.1 497.4,101.4 497,101.6 496.5,100.9 496.1,101.9 495.6,101.1 495.1,101.5 494.7,101.3 494.2,101.5 493.8,100.2 493.3,101.4 492.8,102.2 492.4,102 491.9,100.6 491.5,100.3 491,100.8" fill="#F28A00" stroke="none" stroke-width="0"/>
<polyline points="491,97.3 491.5,97.2 491.9,97.7 492.4,97.9 492.8,98 493.3,97.9 493.8,97.2 494.2,97.3 494.7,97.7 495.1,97.4 495.6,97.4 496.1,97.7 496.5,97.8 497,98 497.4,97.9 497.9,97.1 498.4,97.2 498.8,97.6 499.3,97.5 499.7,97.6 500.2,97.8 500.7,97.6 501.1,97.9 501.6,97.9 502,97.1 502.5,97.1 502.9,97.6 503.4,97.6 503.9,97.9 504.3,97.8 504.8,97.5 505.2,97.8 505.7,97.8 506.2,97.2 506.6,97.1 507.1,97.5 507.5,97.7 508,98 508.5,97.9 508.9,97.4 509.4,97.6 509.8,97.8 510.3,97.3 510.8,97.2 511.2,97.5 511.7,97.7 512.1,98.1 512.6,98 513.1,97.3 513.5,97.4 514,97.6 514.4,97.4 514.9,97.4 515.4,97.6 515.8,97.6 516.3,98.1 516.7,98 517.2,97.3 517.7,97.3 518.1,97.5 518.6,97.4 519,97.7 519.5,97.7 520,97.6 520.4,98 520.9,98 521.3,97.3 521.8,97.2 522.3,97.4 522.7,97.5 523.2,97.9 523.6,97.8 524.1,97.5 524.5,97.8 525,97.8 525.5,97.3 525.9,98.2 526.4,100.2 526.8,102.8 527.3,106.1 527.8,107.2 528.2,105 528.7,103.8 529.1,101.9 529.6,98.8 530.1,96.4 530.5,94.2 531,92.5 531.4,92.1 531.9,90.6 532.4,89 532.8,90.3 533.3,92 533.7,93.5 534.2,95.9 534.7,98 535.1,100.3 535.6,103.7 536,105.3 536.5,105.3 537,105.5 537.4,104.3 537.9,102.6 538.3,101.2 538.8,98.7 539.3,96.4 539.7,95.5 540.2,93.6 540.6,90.9 541.1,89.6 541.6,89.5 542,90.9 542.5,93.5 542.9,95 543.4,96.4 543.9,99.3 544.3,101.1 544.8,101.8 545.2,102.8 545.7,103.4 546.1,103.6 546.6,103.9 547.1,102.3 547.5,100 548,98.7 548.4,96.8 548.9,94.3 549.4,92.5 549.8,90.5 550.3,89.6 550.7,91.2 551.2,92.2 551.7,92.8 552.1,94.9 552.6,96.8 553,98.8 553.5,101.2 554,102.6 554.4,104.4 554.9,107.1 555.3,106.7 555.8,104.4 556.3,102.4 556.7,99.9 557.2,97.6 557.6,96 558.1,93.3 558.6,91.3 559,91.1 559.5,90.2 559.9,90.1 560.4,91.1 560.9,92.2 561.3,94.5 561.8,97.7 562.2,99.4 562.7,100.7 563.2,102.3 563.6,102 564.1,100.6 564.5,98.9 565,97.4 565.4,97.2 565.9,97.9 566.4,97.8 566.8,97.6 567.3,97.8 567.7,97.8 568.2,97.6 568.7,97.6 569.1,97.1 569.6,97.2 570,97.9 570.5,97.9 571,97.7 571.4,97.8 571.9,97.5 572.3,97.5 572.8,97.6 573.3,97.2 573.7,97.2 574.2,97.9 574.6,98 575.1,97.8 575.6,97.7 576,97.3 576.5,97.4 576.9,97.7 577.4,97.3 577.9,97.3 578.3,97.9 578.8,98 579.2,97.9 579.7,97.7 580.2,97.2 580.6,97.3 581.1,97.8 581.5,97.5 582,97.4 582.5,97.9 582.9,97.9 583.4,97.9 583.8,97.7 584.3,97.1 584.8,97.2 585.2,97.8 585.7,97.7 586.1,97.6 586.6,97.8 587,97.7 587.5,97.8 588,97.7 588.4,97.1 588.9,97.1 589.3,97.8 589.8,97.8 590.3,97.8 590.7,97.8 591.2,97.5 591.6,97.7 592.1,97.7 592.6,97.1 593,97.1 593.5,97.7 593.9,97.9 594.4,97.9 594.9,97.8 595.3,97.3 595.8,97.5 596.2,97.7 596.7,97.3" fill="none" stroke="#F28A00" stroke-width="1.26" stroke-linejoin="round"/>
<text x="601.6" y="106.8" font-size="7.85" text-anchor="end"><tspan font-style="italic">ℓ</tspan>2 = 2</text>
<polygon points="480.4,109.6 480.9,109.6 481.3,109 481.8,110.1 482.2,109.5 482.7,109.9 483.2,109.8 483.6,109.8 484.1,109.5 484.5,110.2 485,109.4 485.5,108.8 485.9,109.3 486.4,109.6 486.8,110.5 487.3,109.8 487.8,109.5 488.2,109.4 488.7,109.7 489.1,110.1 489.6,109.4 490.1,110 490.5,110.1 491,110.4 491.4,110.2 491.9,110 492.3,109.2 492.8,109.9 493.3,109.9 493.7,110 494.2,110.4 494.6,109.6 495.1,110.4 495.6,109.7 496,109.5 496.5,109.1 496.9,109.1 497.4,109.9 497.9,110.2 498.3,109.7 498.8,109.6 499.2,110.1 499.7,109.9 500.2,109.5 500.6,109.7 501.1,109.3 501.5,109.2 502,110 502.5,109.7 502.9,109.3 503.4,109.2 503.8,110.3 504.3,110.1 504.8,109.6 505.2,109.9 505.7,109.6 506.1,109.6 506.6,110.1 507.1,109.3 507.5,109.2 508,110 508.4,108.9 508.9,108.7 509.4,107.7 509.8,106.4 510.3,106.8 510.7,107.6 511.2,107.1 511.7,108.1 512.1,110.1 512.6,111.6 513,113.3 513.5,114.8 513.9,115.9 514.4,117.4 514.9,118 515.3,115.9 515.8,113.6 516.2,112.3 516.7,110.5 517.2,109.5 517.6,108.3 518.1,105.4 518.5,104.8 519,104.2 519.5,103.6 519.9,104.4 520.4,105.8 520.8,107.9 521.3,110.8 521.8,113.4 522.2,114 522.7,115.7 523.1,118.1 523.6,118.3 524.1,116.8 524.5,116.3 525,114.6 525.4,113.5 525.9,112.2 526.4,108.9 526.8,105.9 527.3,104.8 527.7,102.9 528.2,101.3 528.7,102.3 529.1,103.3 529.6,106.2 530,109.7 530.5,110.6 531,112.9 531.4,115.1 531.9,116.3 532.3,118.3 532.8,119.7 533.2,118 533.7,117.2 534.2,116.3 534.6,113.1 535.1,109.8 535.5,107.8 536,105.9 536.5,105 536.9,103.7 537.4,102.3 537.8,104.3 538.3,106.4 538.8,107.2 539.2,108.5 539.7,110 540.1,111.9 540.6,115.3 541.1,118 541.5,118.5 542,119.2 542.4,118.5 542.9,116.4 543.4,114.3 543.8,111.8 544.3,108.9 544.7,107.6 545.2,106.5 545.7,103.5 546.1,103 546.6,103.8 547,105.6 547.5,106.7 548,107.6 548.4,107.4 548.9,108.7 549.3,107.9 549.8,107.5 550.3,108.4 550.7,108.8 551.2,107.4 551.6,108 552.1,107.7 552.6,106.9 553,108.9 553.5,107.9 553.9,107.8 554.4,107.3 554.8,107.1 555.3,107 555.8,108.1 556.2,107.6 556.7,107 557.1,107.7 557.6,108.6 558.1,108.2 558.5,108.5 559,107 559.4,107.1 559.9,107.9 560.4,109.2 560.8,107.1 561.3,108.2 561.7,108.7 562.2,108.9 562.7,107.5 563.1,108.1 563.6,107.6 564,107.2 564.5,108.1 565,109 565.4,108.9 565.9,108.5 566.3,107.6 566.8,107.7 567.3,107.7 567.7,106.8 568.2,107.9 568.6,108.7 569.1,108.6 569.6,108.1 570,108.4 570.5,108.6 570.9,108.2 571.4,107.2 571.9,107.1 572.3,108.4 572.8,107.5 573.2,108.5 573.7,108.7 574.2,108.1 574.6,107.9 575.1,107.3 575.5,108.6 576,107.3 576.4,107.4 576.9,108.1 577.4,107.8 577.8,109.1 578.3,108.2 578.7,107.6 579.2,107.9 579.7,107.4 580.1,108.4 580.6,108.9 581,107.4 581.5,108.4 582,107.6 582.4,106.9 582.9,108.1 583.3,107.9 583.8,108.7 584.3,107.8 584.7,109 585.2,108.8 585.6,108.7 586.1,107.6 586.1,115.8 585.6,116.9 585.2,115.7 584.7,116.4 584.3,115.9 583.8,116.6 583.3,115.4 582.9,115.3 582.4,115.8 582,117.6 581.5,117.3 581,115.9 580.6,117.2 580.1,115.8 579.7,116.1 579.2,116.5 578.7,115.7 578.3,116.3 577.8,116.7 577.4,117 576.9,117.2 576.4,115.8 576,116.1 575.5,117.3 575.1,116.8 574.6,116.2 574.2,116 573.7,117.5 573.2,117.6 572.8,117 572.3,116.5 571.9,116.5 571.4,115.6 570.9,115.8 570.5,115.3 570,116.3 569.6,115.9 569.1,117.1 568.6,116.2 568.2,116.8 567.7,116.3 567.3,115.4 566.8,116.2 566.3,115.7 565.9,117.3 565.4,117.2 565,116.1 564.5,116.1 564,116.5 563.6,115.7 563.1,116.9 562.7,117.2 562.2,117 561.7,117.2 561.3,115.8 560.8,115.8 560.4,116.6 559.9,116.7 559.4,115.8 559,116.4 558.5,117.1 558.1,116.1 557.6,116.8 557.1,116.8 556.7,116.3 556.2,117.4 555.8,117.2 555.3,116.3 554.8,115.7 554.4,115.6 553.9,117.3 553.5,116.6 553,117.1 552.6,116.2 552.1,116 551.6,116.4 551.2,115.4 550.7,117.1 550.3,116.5 549.8,117 549.3,116.7 548.9,116.1 548.4,115.5 548,115.2 547.5,113.7 547,111.9 546.6,109.3 546.1,107.7 545.7,107.1 545.2,109.3 544.7,111 544.3,112.1 543.8,114.8 543.4,117.7 542.9,119.5 542.4,121.9 542,122.3 541.5,121.3 541.1,120.8 540.6,118.5 540.1,115.6 539.7,113.2 539.2,112 538.8,110.4 538.3,109.2 537.8,107.1 537.4,105.3 536.9,106.8 536.5,107.6 536,109 535.5,111.2 535.1,113.5 534.6,115.9 534.2,119.4 533.7,120.4 533.2,121 532.8,122.8 532.3,121.8 531.9,119.8 531.4,118.1 531,115.7 530.5,114.1 530,112.5 529.6,109.7 529.1,106.7 528.7,105.4 528.2,104.3 527.7,105.8 527.3,107.9 526.8,109.3 526.4,111.7 525.9,115.2 525.4,116.3 525,117.7 524.5,118.9 524.1,120.1 523.6,121.3 523.1,121.3 522.7,118.9 522.2,117.2 521.8,116.4 521.3,113.8 520.8,111.2 520.4,109 519.9,107.4 519.5,106.8 519,107.5 518.5,107.9 518.1,109 517.6,111.2 517.2,112.3 516.7,113.9 516.2,115.9 515.8,116.6 515.3,118.9 514.9,121.2 514.4,120.9 513.9,119.1 513.5,118.2 513,116 512.6,114.7 512.1,113.2 511.7,110.9 511.2,110.1 510.7,110.9 510.3,110.3 509.8,110.2 509.4,112.1 508.9,113.1 508.4,114.4 508,115 507.5,114.5 507.1,115 506.6,115.1 506.1,114.8 505.7,114.8 505.2,114.7 504.8,114.5 504.3,114.6 503.8,114.8 503.4,114.5 502.9,114.1 502.5,115.1 502,114.4 501.5,114.8 501.1,114.6 500.6,113.8 500.2,114 499.7,114.7 499.2,114.2 498.8,114.7 498.3,114.9 497.9,115.3 497.4,114.4 496.9,114.6 496.5,113.6 496,114.4 495.6,115 495.1,114.8 494.6,114.7 494.2,114.4 493.7,114.7 493.3,115 492.8,114.2 492.3,114.5 491.9,114.5 491.4,115 491,115.1 490.5,115.1 490.1,114.8 489.6,114.8 489.1,115 488.7,114.4 488.2,113.9 487.8,114.5 487.3,115.3 486.8,115.5 486.4,114.3 485.9,115.1 485.5,114.7 485,114.5 484.5,114.4 484.1,114.2 483.6,114.5 483.2,115.4 482.7,114.5 482.2,114.8 481.8,114.4 481.3,114 480.9,114.6 480.4,115.1" fill="#E8470C" stroke="none" stroke-width="0"/>
<polyline points="480.4,112.4 480.9,112 481.3,111.6 481.8,112.1 482.2,112.4 482.7,112.5 483.2,112.6 483.6,112.1 484.1,112 484.5,112.3 485,112.1 485.5,111.7 485.9,112.1 486.4,112.4 486.8,112.5 487.3,112.7 487.8,112.1 488.2,111.8 488.7,112.2 489.1,112.1 489.6,111.9 490.1,112.2 490.5,112.3 491,112.5 491.4,112.7 491.9,112 492.3,111.6 492.8,112.1 493.3,112.2 493.7,112.1 494.2,112.4 494.6,112.3 495.1,112.4 495.6,112.7 496,112 496.5,111.6 496.9,112 497.4,112.2 497.9,112.3 498.3,112.5 498.8,112.2 499.2,112.2 499.7,112.6 500.2,112.1 500.6,111.7 501.1,112 501.5,112.2 502,112.5 502.5,112.7 502.9,112.2 503.4,112.1 503.8,112.4 504.3,112.1 504.8,111.8 505.2,112 505.7,112.1 506.1,112.5 506.6,112.8 507.1,112.2 507.5,111.9 508,112.2 508.4,111.6 508.9,110.7 509.4,109.8 509.8,108.4 510.3,108.4 510.7,109.3 511.2,108.9 511.7,109.4 512.1,111.4 512.6,112.9 513,114.7 513.5,116.5 513.9,117.4 514.4,119 514.9,119.6 515.3,117.4 515.8,115.3 516.2,114 516.7,112.3 517.2,111 517.6,109.6 518.1,107.2 518.5,106.2 519,105.9 519.5,105.4 519.9,105.8 520.4,107.5 520.8,109.4 521.3,112.3 521.8,114.8 522.2,115.7 522.7,117.3 523.1,119.4 523.6,119.7 524.1,118.7 524.5,117.5 525,115.9 525.4,115.1 525.9,113.6 526.4,110.3 526.8,107.8 527.3,106.2 527.7,104.2 528.2,103 528.7,103.9 529.1,105.1 529.6,108.1 530,111.1 530.5,112.4 531,114.1 531.4,116.5 531.9,118.2 532.3,120.1 532.8,121.1 533.2,119.5 533.7,118.7 534.2,117.6 534.6,114.5 535.1,111.6 535.5,109.3 536,107.2 536.5,106.4 536.9,105.5 537.4,104 537.8,105.6 538.3,107.7 538.8,108.6 539.2,110.1 539.7,111.8 540.1,113.7 540.6,116.9 541.1,119.3 541.5,119.9 542,120.8 542.4,120.3 542.9,118.2 543.4,116.1 543.8,113.4 544.3,110.6 544.7,109.4 545.2,107.9 545.7,105.6 546.1,105.4 546.6,106.7 547,108.7 547.5,110.7 548,111.6 548.4,111.7 548.9,112.4 549.3,112.8 549.8,112.4 550.3,112.2 550.7,112.1 551.2,111.9 551.6,112.2 552.1,112.2 552.6,111.8 553,112.3 553.5,112.7 553.9,112.4 554.4,112.2 554.8,111.9 555.3,111.7 555.8,112.2 556.2,112.3 556.7,112 557.1,112.3 557.6,112.6 558.1,112.4 558.5,112.3 559,111.9 559.4,111.6 559.9,112.2 560.4,112.5 560.8,112.2 561.3,112.3 561.7,112.5 562.2,112.3 562.7,112.3 563.1,111.9 563.6,111.6 564,112.2 564.5,112.6 565,112.3 565.4,112.4 565.9,112.3 566.3,112.1 566.8,112.3 567.3,112 567.7,111.6 568.2,112.2 568.6,112.6 569.1,112.5 569.6,112.4 570,112.1 570.5,111.9 570.9,112.3 571.4,112.1 571.9,111.7 572.3,112.2 572.8,112.6 573.2,112.5 573.7,112.5 574.2,112 574.6,111.7 575.1,112.2 575.5,112.2 576,111.9 576.4,112.3 576.9,112.5 577.4,112.5 577.8,112.5 578.3,111.9 578.7,111.6 579.2,112.2 579.7,112.3 580.1,112.1 580.6,112.4 581,112.4 581.5,112.3 582,112.5 582.4,111.9 582.9,111.5 583.3,112.1 583.8,112.4 584.3,112.3 584.7,112.5 585.2,112.2 585.6,112.2 586.1,112.4" fill="none" stroke="#E8470C" stroke-width="1.26" stroke-linejoin="round"/>
<text x="591" y="121.4" font-size="7.85" text-anchor="end"><tspan font-style="italic">ℓ</tspan>2 = 2</text>
<polyline points="644.3,1.4 538.6,1.4 475.2,89 475.2,148.1 580.9,148.1 644.3,60.5" fill="none" stroke="#1f1f1f" stroke-width="0.8" stroke-linejoin="miter"/>
<line x1="475.2" y1="148.1" x2="475.2" y2="150.4" stroke="#1f1f1f" stroke-width="0.8"/>
<text x="475.2" y="158.4" font-size="8.2" text-anchor="middle" fill="#000">0</text>
<line x1="485.8" y1="148.1" x2="485.8" y2="149.5" stroke="#1f1f1f" stroke-width="0.7"/>
<line x1="496.3" y1="148.1" x2="496.3" y2="150.4" stroke="#1f1f1f" stroke-width="0.8"/>
<text x="496.3" y="158.4" font-size="8.2" text-anchor="middle" fill="#000">2</text>
<line x1="506.9" y1="148.1" x2="506.9" y2="149.5" stroke="#1f1f1f" stroke-width="0.7"/>
<line x1="517.5" y1="148.1" x2="517.5" y2="150.4" stroke="#1f1f1f" stroke-width="0.8"/>
<text x="517.5" y="158.4" font-size="8.2" text-anchor="middle" fill="#000">4</text>
<line x1="528.1" y1="148.1" x2="528.1" y2="149.5" stroke="#1f1f1f" stroke-width="0.7"/>
<line x1="538.6" y1="148.1" x2="538.6" y2="150.4" stroke="#1f1f1f" stroke-width="0.8"/>
<text x="538.6" y="158.4" font-size="8.2" text-anchor="middle" fill="#000">6</text>
<line x1="549.2" y1="148.1" x2="549.2" y2="149.5" stroke="#1f1f1f" stroke-width="0.7"/>
<line x1="559.8" y1="148.1" x2="559.8" y2="150.4" stroke="#1f1f1f" stroke-width="0.8"/>
<text x="559.8" y="158.4" font-size="8.2" text-anchor="middle" fill="#000">8</text>
<line x1="570.3" y1="148.1" x2="570.3" y2="149.5" stroke="#1f1f1f" stroke-width="0.7"/>
<line x1="580.9" y1="148.1" x2="580.9" y2="150.4" stroke="#1f1f1f" stroke-width="0.8"/>
<text x="580.9" y="158.4" font-size="8.2" text-anchor="middle" fill="#000">10</text>
<line x1="472.9" y1="148.1" x2="475.2" y2="148.1" stroke="#1f1f1f" stroke-width="0.8"/>
<text x="472" y="151" font-size="8.2" text-anchor="end" fill="#000">0.0</text>
<line x1="472.9" y1="118.5" x2="475.2" y2="118.5" stroke="#1f1f1f" stroke-width="0.8"/>
<text x="472" y="121.5" font-size="8.2" text-anchor="end" fill="#000">0.5</text>
<line x1="472.9" y1="89" x2="475.2" y2="89" stroke="#1f1f1f" stroke-width="0.8"/>
<text x="472" y="91.9" font-size="8.2" text-anchor="end" fill="#000">1.0</text>
<line x1="473.8" y1="133.3" x2="475.2" y2="133.3" stroke="#1f1f1f" stroke-width="0.7"/>
<line x1="473.8" y1="103.8" x2="475.2" y2="103.8" stroke="#1f1f1f" stroke-width="0.7"/>
<text x="528" y="165.5" font-size="7.7" text-anchor="middle" fill="#000">Time (s)</text>
<text transform="translate(455.6,127.5) rotate(-90)" font-size="7.7" text-anchor="middle">Rel. Amp. (arb. units)</text>
<line x1="587" y1="140.2" x2="589.4" y2="140.2" stroke="#1f1f1f" stroke-width="0.8"/>
<text x="591.6" y="142.8" font-size="7.95" text-anchor="start" fill="#000">v = 5 cm/s</text>
<line x1="597.6" y1="125.6" x2="600" y2="125.6" stroke="#1f1f1f" stroke-width="0.8"/>
<text x="602.2" y="128.2" font-size="7.95" text-anchor="start" fill="#000">v = −5 cm/s</text>
<line x1="608.2" y1="111" x2="610.6" y2="111" stroke="#1f1f1f" stroke-width="0.8"/>
<text x="612.8" y="113.6" font-size="7.95" text-anchor="start" fill="#000">v = 5 cm/s</text>
<line x1="618.8" y1="96.4" x2="621.2" y2="96.4" stroke="#1f1f1f" stroke-width="0.8"/>
<text x="623.4" y="99" font-size="7.95" text-anchor="start" fill="#000">v = 10 cm/s</text>
<line x1="629.4" y1="81.8" x2="631.8" y2="81.8" stroke="#1f1f1f" stroke-width="0.8"/>
<text x="634" y="84.4" font-size="7.95" text-anchor="start" fill="#000">v = −10 cm/s</text>
<line x1="640" y1="67.2" x2="642.4" y2="67.2" stroke="#1f1f1f" stroke-width="0.8"/>
<text x="644.6" y="69.8" font-size="7.95" text-anchor="start" fill="#000">v = 10 cm/s</text>
<text x="459.5" y="15.7" font-size="10.6" text-anchor="start" fill="#000" font-weight="bold">e</text>
<polygon points="90.3,228.5 196,228.5 196,169.4 90.3,169.4" fill="#FFFEE8" stroke="none" stroke-width="0"/>
<polygon points="26.9,316.1 132.6,316.1 196,228.5 90.3,228.5" fill="#F5F5F5" stroke="none" stroke-width="0"/>
<clipPath id="w0_168"><rect x="0" y="209" width="685" height="486"/></clipPath>
<g clip-path="url(#w0_168)">
<polygon points="26.9,316.1 26.9,257 90.3,169.4 90.3,228.5" fill="#FEF5F5" stroke="none" stroke-width="0"/>
<polygon points="90.3,228.5 196,228.5 196,169.4 90.3,169.4" fill="#FDF2E9" stroke="none" stroke-width="0"/>
</g>
<line x1="120.2" y1="228.5" x2="120.2" y2="169.4" stroke="#D9D9D9" stroke-width="0.5"/>
<line x1="56.8" y1="316.1" x2="120.2" y2="228.5" stroke="#D9D9D9" stroke-width="0.5"/>
<line x1="150.1" y1="228.5" x2="150.1" y2="169.4" stroke="#D9D9D9" stroke-width="0.5"/>
<line x1="86.7" y1="316.1" x2="150.1" y2="228.5" stroke="#D9D9D9" stroke-width="0.5"/>
<line x1="180" y1="228.5" x2="180" y2="169.4" stroke="#D9D9D9" stroke-width="0.5"/>
<line x1="116.6" y1="316.1" x2="180" y2="228.5" stroke="#D9D9D9" stroke-width="0.5"/>
<line x1="90.3" y1="199" x2="196" y2="199" stroke="#D9D9D9" stroke-width="0.5"/>
<line x1="26.9" y1="286.6" x2="90.3" y2="199" stroke="#D9D9D9" stroke-width="0.5"/>
<line x1="33" y1="308.2" x2="138.7" y2="308.2" stroke="#D9D9D9" stroke-width="0.5"/>
<line x1="33" y1="308.2" x2="33" y2="249.1" stroke="#D9D9D9" stroke-width="0.5"/>
<line x1="43.6" y1="293.6" x2="149.3" y2="293.6" stroke="#D9D9D9" stroke-width="0.5"/>
<line x1="43.6" y1="293.6" x2="43.6" y2="234.5" stroke="#D9D9D9" stroke-width="0.5"/>
<line x1="54.2" y1="279" x2="159.9" y2="279" stroke="#D9D9D9" stroke-width="0.5"/>
<line x1="54.2" y1="279" x2="54.2" y2="219.9" stroke="#D9D9D9" stroke-width="0.5"/>
<line x1="64.8" y1="264.4" x2="170.5" y2="264.4" stroke="#D9D9D9" stroke-width="0.5"/>
<line x1="64.8" y1="264.4" x2="64.8" y2="205.3" stroke="#D9D9D9" stroke-width="0.5"/>
<line x1="75.4" y1="249.8" x2="181.1" y2="249.8" stroke="#D9D9D9" stroke-width="0.5"/>
<line x1="75.4" y1="249.8" x2="75.4" y2="190.7" stroke="#D9D9D9" stroke-width="0.5"/>
<line x1="86" y1="235.2" x2="191.7" y2="235.2" stroke="#D9D9D9" stroke-width="0.5"/>
<line x1="86" y1="235.2" x2="86" y2="176.1" stroke="#D9D9D9" stroke-width="0.5"/>
<line x1="196" y1="228.5" x2="196" y2="169.4" stroke="#BDBDBD" stroke-width="0.6"/>
<line x1="90.3" y1="228.5" x2="196" y2="228.5" stroke="#BDBDBD" stroke-width="0.6"/>
<line x1="90.3" y1="228.5" x2="90.3" y2="169.4" stroke="#BDBDBD" stroke-width="0.6"/>
<line x1="26.9" y1="316.1" x2="90.3" y2="228.5" stroke="#BDBDBD" stroke-width="0.6"/>
<line x1="119.5" y1="184.5" x2="119.5" y2="235.2" stroke="#6A1FC2" stroke-width="0.7" stroke-dasharray="1.8 1.9" opacity="0.75"/>
<polyline points="86,231.1 86.4,231 86.9,231 87.3,231 87.8,231.1 88.2,231.1 88.6,231.2 89.1,231.2 89.5,231.2 90,231.1 90.4,230.9 90.8,230.6 91.3,230.2 91.7,229.7 92.2,229.1 92.6,228.4 93,227.7 93.5,226.8 93.9,225.9 94.4,225 94.8,224.1 95.2,223.3 95.7,222.6 96.1,222.1 96.6,221.7 97,221.6 97.5,221.7 97.9,222 98.3,222.4 98.8,223.1 99.2,223.8 99.7,224.7 100.1,225.6 100.5,226.4 101,227.3 101.4,228 101.9,228.7 102.3,229.3 102.7,229.7 103.2,230 103.6,230.2 104.1,230.3 104.5,230.3 104.9,230.1 105.4,229.9 105.8,229.5 106.3,229.1 106.7,228.5 107.1,227.8 107.6,227 108,226.1 108.5,225.1 108.9,223.9 109.3,222.6 109.8,221.1 110.2,219.6 110.7,217.8 111.1,216 111.5,214 112,211.9 112.4,209.8 112.9,207.5 113.3,205.2 113.7,202.8 114.2,200.4 114.6,198.1 115.1,195.8 115.5,193.6 115.9,191.5 116.4,189.5 116.8,187.8 117.3,186.2 117.7,184.9 118.2,183.9 118.6,183.1 119,182.6 119.5,182.5 119.9,182.6 120.4,183.1 120.8,183.8 121.2,184.8 121.7,186.1 122.1,187.7 122.6,189.4 123,191.3 123.4,193.4 123.9,195.6 124.3,197.9 124.8,200.3 125.2,202.6 125.6,205 126.1,207.3 126.5,209.6 127,211.8 127.4,213.9 127.8,215.9 128.3,217.7 128.7,219.4 129.2,221 129.6,222.5 130,223.8 130.5,224.9 130.9,225.9 131.4,226.8 131.8,227.5 132.2,228 132.7,228.3 133.1,228.5 133.6,228.5 134,228.3 134.4,227.9 134.9,227.4 135.3,226.7 135.8,226.1 136.2,225.4 136.6,224.9 137.1,224.5 137.5,224.3 138,224.4 138.4,224.7 138.8,225.2 139.3,226 139.7,226.8 140.2,227.7 140.6,228.5 141.1,229.3 141.5,230 141.9,230.5 142.4,230.9 142.8,231.2 143.3,231.3 143.7,231.3 144.1,231.2 144.6,231 145,230.7 145.5,230.3 145.9,229.8 146.3,229.3 146.8,228.8 147.2,228.2 147.7,227.7 148.1,227.2 148.5,226.8 149,226.5 149.4,226.3 149.9,226.3 150.3,226.4 150.7,226.7 151.2,227 151.6,227.5 152.1,228 152.5,228.5 152.9,229 153.4,229.4 153.8,229.9 154.3,230.2 154.7,230.5 155.1,230.6 155.6,230.7 156,230.8 156.5,230.8 156.9,230.7 157.3,230.6 157.8,230.5 158.2,230.3 158.7,230.2 159.1,230.1 159.5,230 160,229.9 160.4,229.9 160.9,229.9 161.3,229.9 161.8,230 162.2,230.1 162.6,230.2 163.1,230.3 163.5,230.5 164,230.7 164.4,230.8 164.8,231 165.3,231.1 165.7,231.3 166.2,231.4 166.6,231.5 167,231.5 167.5,231.5 167.9,231.5 168.4,231.4 168.8,231.4 169.2,231.3 169.7,231.2 170.1,231.1 170.6,231.1 171,231 171.4,231 171.9,231.1 172.3,231.2 172.8,231.3 173.2,231.4 173.6,231.5 174.1,231.7 174.5,231.8 175,231.9 175.4,232 175.8,232.1 176.3,232.1 176.7,232.2 177.2,232.2 177.6,232.2 178,232.2 178.5,232.2 178.9,232.2 179.4,232.2 179.8,232.2 180.2,232.2 180.7,232.1 181.1,232.1 181.6,232 182,231.9 182.5,231.8 182.9,231.7 183.3,231.6 183.8,231.4 184.2,231.3 184.7,231.2 185.1,231.1 185.5,231.1 186,231.1 186.4,231.1 186.9,231.2 187.3,231.3 187.7,231.4 188.2,231.5 188.6,231.6 189.1,231.8 189.5,231.9 189.9,232 190.4,232.1 190.8,232.1 191.3,232.2 191.7,232.2" fill="none" stroke="#6A1FC2" stroke-width="1.4" stroke-linejoin="round"/>
<text x="185.9" y="230.6" font-size="7.85" text-anchor="end"><tspan font-style="italic">ℓ</tspan>2 = 0</text>
<polygon points="97.4,233.5 97.9,231.5 98.3,229.4 98.7,228.5 99.2,228.5 99.6,228.5 100.1,228.5 100.5,228.5 100.9,228.5 101.4,228.5 101.8,228.5 102.3,228.5 102.7,228.5 103.1,228.5 103.6,228.5 104,228.5 104.5,228.5 104.9,228.5 105.3,228.5 105.8,228.5 106.2,228.5 106.7,228.5 107.1,228.5 107.6,228.5 108,228.5 108.4,228.5 108.9,228.5 109.3,228.5 109.8,228.5 110.2,228.5 110.6,228.5 111.1,228.5 111.5,228.5 112,228.5 112.4,228.5 112.8,228.5 113.3,228.5 113.7,228.5 114.2,228.5 114.6,228.5 115,228.5 115.5,228.5 115.9,228.5 116.4,228.8 116.8,230.8 117.2,232.6 117.2,249.8 97.4,249.8" fill="#1E88D8" fill-opacity="0.07"/>
<line x1="108.4" y1="197.9" x2="108.4" y2="249.8" stroke="#3F4FC4" stroke-width="0.7" stroke-dasharray="1.8 1.9" opacity="0.75"/>
<polyline points="75.4,244.9 75.8,244 76.3,242.9 76.7,241.7 77.2,240.4 77.6,239.3 78,238.5 78.5,238 78.9,238 79.4,238.5 79.8,239.4 80.2,240.5 80.7,241.7 81.1,242.9 81.6,244 82,244.9 82.4,245.5 82.9,245.9 83.3,246.2 83.8,246.3 84.2,246.3 84.6,246.2 85.1,246 85.5,245.7 86,245.4 86.4,245.1 86.9,244.7 87.3,244.4 87.7,244.1 88.2,243.9 88.6,243.8 89.1,243.8 89.5,243.8 89.9,243.9 90.4,244.1 90.8,244.3 91.3,244.6 91.7,244.7 92.1,244.8 92.6,244.9 93,244.8 93.5,244.5 93.9,244.1 94.3,243.5 94.8,242.7 95.2,241.7 95.7,240.5 96.1,239 96.5,237.3 97,235.5 97.4,233.5 97.9,231.5 98.3,229.4 98.7,227.5 99.2,225.6 99.6,223.8 100.1,222.2 100.5,220.7 100.9,219.2 101.4,217.8 101.8,216.3 102.3,214.7 102.7,213.1 103.1,211.3 103.6,209.5 104,207.6 104.5,205.8 104.9,203.9 105.3,202.2 105.8,200.5 106.2,199.1 106.7,197.9 107.1,197 107.6,196.3 108,196 108.4,195.9 108.9,196.2 109.3,196.7 109.8,197.6 110.2,198.8 110.6,200.2 111.1,201.8 111.5,203.7 112,205.7 112.4,207.9 112.8,210.2 113.3,212.6 113.7,215 114.2,217.4 114.6,219.8 115,222.2 115.5,224.5 115.9,226.7 116.4,228.8 116.8,230.8 117.2,232.6 117.7,234.3 118.1,235.9 118.6,237.3 119,238.6 119.4,239.8 119.9,240.8 120.3,241.6 120.8,242.3 121.2,242.8 121.6,243.1 122.1,243.1 122.5,243 123,242.5 123.4,241.9 123.8,241.2 124.3,240.5 124.7,239.8 125.2,239.4 125.6,239.3 126,239.6 126.5,240.2 126.9,241 127.4,242 127.8,243 128.2,244 128.7,244.8 129.1,245.5 129.6,246 130,246.3 130.5,246.5 130.9,246.7 131.3,246.7 131.8,246.8 132.2,246.7 132.7,246.7 133.1,246.7 133.5,246.6 134,246.5 134.4,246.3 134.9,246.2 135.3,246 135.7,245.8 136.2,245.6 136.6,245.4 137.1,245.3 137.5,245.1 137.9,245.1 138.4,245.1 138.8,245.1 139.3,245.2 139.7,245.4 140.1,245.6 140.6,245.8 141,246 141.5,246.2 141.9,246.3 142.3,246.4 142.8,246.5 143.2,246.6 143.7,246.6 144.1,246.6 144.5,246.6 145,246.6 145.4,246.5 145.9,246.5 146.3,246.4 146.7,246.3 147.2,246.2 147.6,246 148.1,245.9 148.5,245.8 148.9,245.8 149.4,245.7 149.8,245.7 150.3,245.7 150.7,245.7 151.2,245.7 151.6,245.8 152,245.9 152.5,246 152.9,246.1 153.4,246.2 153.8,246.3 154.2,246.4 154.7,246.5 155.1,246.6 155.6,246.6 156,246.7 156.4,246.7 156.9,246.7 157.3,246.7 157.8,246.7 158.2,246.6 158.6,246.6 159.1,246.6 159.5,246.5 160,246.4 160.4,246.4 160.8,246.3 161.3,246.2 161.7,246.1 162.2,246 162.6,245.9 163,245.8 163.5,245.8 163.9,245.7 164.4,245.7 164.8,245.7 165.2,245.7 165.7,245.7 166.1,245.7 166.6,245.8 167,245.8 167.4,245.9 167.9,246 168.3,246.1 168.8,246.2 169.2,246.2 169.6,246.3 170.1,246.4 170.5,246.5 171,246.5 171.4,246.6 171.9,246.7 172.3,246.7 172.7,246.7 173.2,246.8 173.6,246.8 174.1,246.8 174.5,246.8 174.9,246.8 175.4,246.8 175.8,246.8 176.3,246.8 176.7,246.8 177.1,246.8 177.6,246.8 178,246.8 178.5,246.8 178.9,246.8 179.3,246.8 179.8,246.8 180.2,246.8 180.7,246.8 181.1,246.8" fill="none" stroke="#3F4FC4" stroke-width="1.4" stroke-linejoin="round"/>
<text x="175.3" y="245.2" font-size="7.85" text-anchor="end"><tspan font-style="italic">ℓ</tspan>2 = 2</text>
<polygon points="88.6,248 89,246.6 89.5,245 89.9,243.2 90.3,241.2 90.8,239.1 91.2,236.8 91.7,234.5 92.1,232.1 92.5,229.7 93,228.5 93.4,228.5 93.9,228.5 94.3,228.5 94.7,228.5 95.2,228.5 95.6,228.5 96.1,228.5 96.5,228.5 97,228.5 97.4,228.5 97.8,228.5 98.3,228.5 98.7,228.5 99.2,228.5 99.6,228.5 100,228.5 100.5,228.5 100.9,228.5 101.4,228.5 101.8,228.5 102.2,228.5 102.7,228.5 103.1,228.5 103.6,230.4 104,232.8 104.4,235.2 104.9,237.5 105.3,239.8 105.8,242 106.2,244 106.6,246 107.1,247.8 107.1,264.4 88.6,264.4" fill="#1E88D8" fill-opacity="0.07"/>
<line x1="97.8" y1="212.5" x2="97.8" y2="264.4" stroke="#1E88D8" stroke-width="0.7" stroke-dasharray="1.8 1.9" opacity="0.75"/>
<polyline points="64.8,260.7 65.2,260.3 65.7,259.7 66.1,258.9 66.6,258 67,256.9 67.4,255.7 67.9,254.6 68.3,253.5 68.8,252.7 69.2,252.1 69.6,252 70.1,252.2 70.5,252.9 71,253.8 71.4,254.9 71.8,256.1 72.3,257.2 72.7,258.2 73.2,259.1 73.6,259.8 74,260.4 74.5,260.8 74.9,261 75.4,261.2 75.8,261.3 76.3,261.3 76.7,261.3 77.1,261.2 77.6,261 78,260.8 78.5,260.5 78.9,260.1 79.3,259.5 79.8,258.8 80.2,258 80.7,257 81.1,255.9 81.5,254.8 82,253.7 82.4,252.6 82.9,251.7 83.3,251 83.7,250.6 84.2,250.4 84.6,250.4 85.1,250.5 85.5,250.7 85.9,250.9 86.4,251 86.8,250.9 87.3,250.6 87.7,250 88.1,249.1 88.6,248 89,246.6 89.5,245 89.9,243.2 90.3,241.2 90.8,239.1 91.2,236.8 91.7,234.5 92.1,232.1 92.5,229.7 93,227.2 93.4,224.9 93.9,222.6 94.3,220.4 94.7,218.3 95.2,216.5 95.6,214.8 96.1,213.4 96.5,212.2 97,211.4 97.4,210.8 97.8,210.5 98.3,210.6 98.7,210.9 99.2,211.6 99.6,212.5 100,213.8 100.5,215.3 100.9,217 101.4,218.9 101.8,221 102.2,223.2 102.7,225.5 103.1,227.9 103.6,230.4 104,232.8 104.4,235.2 104.9,237.5 105.3,239.8 105.8,242 106.2,244 106.6,246 107.1,247.8 107.5,249.5 108,251 108.4,252.4 108.8,253.6 109.3,254.8 109.7,255.7 110.2,256.6 110.6,257.4 111,258 111.5,258.5 111.9,258.8 112.4,259 112.8,259.1 113.2,259 113.7,258.7 114.1,258.4 114.6,258 115,257.6 115.4,257.2 115.9,257.1 116.3,257.1 116.8,257.3 117.2,257.7 117.6,258.2 118.1,258.8 118.5,259.4 119,259.9 119.4,260.4 119.9,260.7 120.3,261 120.7,261.1 121.2,261.2 121.6,261.2 122.1,261.1 122.5,261.1 122.9,260.9 123.4,260.8 123.8,260.6 124.3,260.4 124.7,260.2 125.1,260 125.6,259.9 126,259.7 126.5,259.7 126.9,259.7 127.3,259.7 127.8,259.8 128.2,260 128.7,260.2 129.1,260.4 129.5,260.6 130,260.8 130.4,260.9 130.9,261 131.3,261.1 131.7,261.2 132.2,261.2 132.6,261.2 133.1,261.1 133.5,261.1 133.9,261 134.4,260.8 134.8,260.7 135.3,260.6 135.7,260.5 136.1,260.4 136.6,260.3 137,260.3 137.5,260.3 137.9,260.3 138.3,260.4 138.8,260.5 139.2,260.6 139.7,260.8 140.1,260.9 140.6,261 141,261.1 141.4,261.2 141.9,261.3 142.3,261.3 142.8,261.3 143.2,261.3 143.6,261.3 144.1,261.3 144.5,261.3 145,261.2 145.4,261.2 145.8,261.1 146.3,261 146.7,261 147.2,260.9 147.6,260.8 148,260.7 148.5,260.6 148.9,260.5 149.4,260.5 149.8,260.4 150.2,260.3 150.7,260.3 151.1,260.3 151.6,260.3 152,260.3 152.4,260.3 152.9,260.3 153.3,260.4 153.8,260.5 154.2,260.6 154.6,260.6 155.1,260.7 155.5,260.8 156,260.9 156.4,261 156.8,261.1 157.3,261.1 157.7,261.2 158.2,261.2 158.6,261.3 159,261.3 159.5,261.4 159.9,261.4 160.4,261.4 160.8,261.4 161.3,261.4 161.7,261.4 162.1,261.4 162.6,261.4 163,261.4 163.5,261.4 163.9,261.4 164.3,261.4 164.8,261.4 165.2,261.4 165.7,261.4 166.1,261.4 166.5,261.4 167,261.4 167.4,261.4 167.9,261.4 168.3,261.4 168.7,261.4 169.2,261.4 169.6,261.4 170.1,261.4 170.5,261.4" fill="none" stroke="#1E88D8" stroke-width="1.4" stroke-linejoin="round"/>
<text x="164.7" y="259.8" font-size="7.85" text-anchor="end"><tspan font-style="italic">ℓ</tspan>2 = 2</text>
<line x1="70.9" y1="227.8" x2="70.9" y2="279" stroke="#FFB700" stroke-width="0.7" stroke-dasharray="1.8 1.9" opacity="0.75"/>
<polyline points="54.2,276.6 54.6,275.3 55.1,273.3 55.5,271.2 56,270 56.4,270.4 56.8,272 57.3,274.1 57.7,275.8 58.2,276.7 58.6,276.7 59,276.1 59.5,274.8 59.9,273.1 60.4,271.3 60.8,269.9 61.2,269.6 61.7,270.2 62.1,271.4 62.6,272.6 63,273.2 63.4,273 63.9,272.1 64.3,271 64.8,269.9 65.2,268.7 65.7,267.1 66.1,264.8 66.5,261.7 67,257.7 67.4,253.2 67.9,248.2 68.3,243.1 68.7,238.1 69.2,233.7 69.6,230 70.1,227.3 70.5,225.9 70.9,225.8 71.4,227.1 71.8,229.7 72.3,233.3 72.7,237.7 73.1,242.6 73.6,247.7 74,252.7 74.5,257.2 74.9,261.1 75.3,264 75.8,266.1 76.2,267.5 76.7,268.7 77.1,270 77.5,271.4 78,272.7 78.4,273.4 78.9,273.2 79.3,272 79.7,270.3 80.2,268.5 80.6,267.3 81.1,267 81.5,267.3 81.9,268 82.4,268.6 82.8,269.2 83.3,269.8 83.7,270.6 84.1,271.4 84.6,272.4 85,273.4 85.5,274.4 85.9,275.1 86.4,275.7 86.8,275.9 87.2,275.7 87.7,275.3 88.1,274.9 88.6,274.7 89,275 89.4,275.6 89.9,276.3 90.3,276.9 90.8,277.3 91.2,277.5 91.6,277.5 92.1,277.5 92.5,277.5 93,277.3 93.4,277.2 93.8,276.9 94.3,276.7 94.7,276.3 95.2,275.8 95.6,275.3 96,274.7 96.5,274.1 96.9,273.5 97.4,273 97.8,272.6 98.2,272.4 98.7,272.3 99.1,272.4 99.6,272.6 100,272.9 100.4,273.3 100.9,273.7 101.3,274.2 101.8,274.6 102.2,275 102.6,275.3 103.1,275.6 103.5,275.9 104,276.2 104.4,276.4 104.8,276.6 105.3,276.7 105.7,276.9 106.2,276.9 106.6,277 107,277 107.5,276.9 107.9,276.8 108.4,276.7 108.8,276.5 109.3,276.4 109.7,276.3 110.1,276.2 110.6,276.2 111,276.2 111.5,276.3 111.9,276.4 112.3,276.6 112.8,276.8 113.2,277 113.7,277.2 114.1,277.3 114.5,277.4 115,277.5 115.4,277.5 115.9,277.5 116.3,277.5 116.7,277.5 117.2,277.4 117.6,277.2 118.1,277.1 118.5,276.9 118.9,276.7 119.4,276.5 119.8,276.3 120.3,276.2 120.7,276.1 121.1,276.1 121.6,276.1 122,276.3 122.5,276.4 122.9,276.6 123.3,276.8 123.8,277 124.2,277.2 124.7,277.4 125.1,277.5 125.5,277.5 126,277.6 126.4,277.6 126.9,277.7 127.3,277.7 127.7,277.7 128.2,277.7 128.6,277.7 129.1,277.7 129.5,277.7 130,277.7 130.4,277.7 130.8,277.7 131.3,277.7 131.7,277.7 132.2,277.7 132.6,277.6 133,277.6 133.5,277.5 133.9,277.5 134.4,277.4 134.8,277.2 135.2,277.1 135.7,276.9 136.1,276.8 136.6,276.7 137,276.6 137.4,276.5 137.9,276.5 138.3,276.5 138.8,276.6 139.2,276.7 139.6,276.9 140.1,277 140.5,277.2 141,277.3 141.4,277.4 141.8,277.5 142.3,277.6 142.7,277.6 143.2,277.7 143.6,277.7 144,277.7 144.5,277.7 144.9,277.7 145.4,277.7 145.8,277.7 146.2,277.7 146.7,277.7 147.1,277.7 147.6,277.7 148,277.7 148.4,277.7 148.9,277.7 149.3,277.7 149.8,277.7 150.2,277.7 150.7,277.7 151.1,277.7 151.5,277.7 152,277.7 152.4,277.7 152.9,277.7 153.3,277.7 153.7,277.7 154.2,277.7 154.6,277.7 155.1,277.7 155.5,277.7 155.9,277.7 156.4,277.7 156.8,277.7 157.3,277.7 157.7,277.7 158.1,277.7 158.6,277.7 159,277.7 159.5,277.7 159.9,277.7" fill="none" stroke="#FFB700" stroke-width="1.4" stroke-linejoin="round"/>
<text x="154.1" y="274.4" font-size="7.85" text-anchor="end"><tspan font-style="italic">ℓ</tspan>2 = 0</text>
<line x1="60.3" y1="242.4" x2="60.3" y2="293.6" stroke="#F28A00" stroke-width="0.7" stroke-dasharray="1.8 1.9" opacity="0.75"/>
<polyline points="43.6,290.4 44,288.5 44.5,286 44.9,283.9 45.4,283.2 45.8,284.5 46.2,286.8 46.7,289.2 47.1,290.8 47.6,291.6 48,291.7 48.4,291.3 48.9,290.4 49.3,288.9 49.8,287 50.2,285.2 50.6,284.1 51.1,284 51.5,284.9 52,286.4 52.4,287.8 52.8,288.5 53.3,288.3 53.7,287.1 54.2,285.2 54.6,282.9 55.1,280.4 55.5,277.7 55.9,274.8 56.4,271.3 56.8,267.2 57.3,262.5 57.7,257.6 58.1,252.7 58.6,248.2 59,244.6 59.5,241.9 59.9,240.5 60.3,240.4 60.8,241.7 61.2,244.3 61.7,247.9 62.1,252.3 62.5,257.1 63,261.9 63.4,266.4 63.9,270.2 64.3,273.3 64.7,276 65.2,278.6 65.6,281.3 66.1,284.1 66.5,286.6 66.9,288.3 67.4,289 67.8,288.7 68.3,287.4 68.7,285.6 69.1,284.2 69.6,283.6 70,284.1 70.5,285.3 70.9,286.7 71.3,287.8 71.8,288.6 72.2,289.2 72.7,289.7 73.1,290.2 73.5,290.8 74,291.2 74.4,291.6 74.9,291.8 75.3,292 75.8,292.1 76.2,292.1 76.6,291.9 77.1,291.5 77.5,290.9 78,290.2 78.4,289.7 78.8,289.6 79.3,289.9 79.7,290.5 80.2,291.2 80.6,291.7 81,292 81.5,292.1 81.9,292.1 82.4,292.1 82.8,292 83.2,291.9 83.7,291.7 84.1,291.5 84.6,291.2 85,290.9 85.4,290.5 85.9,290 86.3,289.5 86.8,288.9 87.2,288.4 87.6,288 88.1,287.6 88.5,287.4 89,287.3 89.4,287.3 89.8,287.6 90.3,287.9 90.7,288.3 91.2,288.7 91.6,289.2 92,289.6 92.5,290 92.9,290.4 93.4,290.7 93.8,291 94.2,291.2 94.7,291.4 95.1,291.6 95.6,291.7 96,291.8 96.4,291.8 96.9,291.8 97.3,291.8 97.8,291.7 98.2,291.6 98.7,291.5 99.1,291.4 99.5,291.3 100,291.1 100.4,291.1 100.9,291 101.3,291 101.7,291.1 102.2,291.2 102.6,291.4 103.1,291.5 103.5,291.7 103.9,291.8 104.4,291.9 104.8,292 105.3,292.1 105.7,292.1 106.1,292 106.6,292 107,291.8 107.5,291.7 107.9,291.5 108.3,291.2 108.8,291 109.2,290.8 109.7,290.6 110.1,290.5 110.5,290.4 111,290.4 111.4,290.5 111.9,290.7 112.3,290.9 112.7,291.1 113.2,291.4 113.6,291.6 114.1,291.8 114.5,291.9 114.9,292.1 115.4,292.1 115.8,292.2 116.3,292.2 116.7,292.3 117.1,292.3 117.6,292.3 118,292.3 118.5,292.3 118.9,292.3 119.4,292.3 119.8,292.3 120.2,292.3 120.7,292.3 121.1,292.3 121.6,292.3 122,292.2 122.4,292.2 122.9,292.1 123.3,292.1 123.8,292 124.2,291.8 124.6,291.7 125.1,291.6 125.5,291.4 126,291.3 126.4,291.2 126.8,291.2 127.3,291.2 127.7,291.2 128.2,291.3 128.6,291.4 129,291.6 129.5,291.7 129.9,291.8 130.4,292 130.8,292.1 131.2,292.1 131.7,292.2 132.1,292.2 132.6,292.3 133,292.3 133.4,292.3 133.9,292.3 134.3,292.3 134.8,292.3 135.2,292.3 135.6,292.3 136.1,292.3 136.5,292.3 137,292.3 137.4,292.3 137.8,292.3 138.3,292.3 138.7,292.3 139.2,292.3 139.6,292.3 140.1,292.3 140.5,292.3 140.9,292.3 141.4,292.3 141.8,292.3 142.3,292.3 142.7,292.3 143.1,292.3 143.6,292.3 144,292.3 144.5,292.3 144.9,292.3 145.3,292.3 145.8,292.3 146.2,292.3 146.7,292.3 147.1,292.3 147.5,292.3 148,292.3 148.4,292.3 148.9,292.3 149.3,292.3" fill="none" stroke="#F28A00" stroke-width="1.4" stroke-linejoin="round"/>
<text x="143.5" y="289" font-size="7.85" text-anchor="end"><tspan font-style="italic">ℓ</tspan>2 = 2</text>
<line x1="49.7" y1="257" x2="49.7" y2="308.2" stroke="#E8470C" stroke-width="0.7" stroke-dasharray="1.8 1.9" opacity="0.75"/>
<polyline points="33,302.3 33.4,299.5 33.9,297.5 34.3,297.2 34.8,298.8 35.2,301.4 35.6,303.9 36.1,305.6 36.5,306.3 37,306.4 37.4,306 37.8,305.2 38.3,303.8 38.7,302.1 39.2,300.4 39.6,299.3 40,299.2 40.5,300 40.9,301.4 41.4,302.7 41.8,303.3 42.2,303.1 42.7,302.2 43.1,300.8 43.6,299.3 44,297.8 44.5,296 44.9,293.7 45.3,290.7 45.8,286.8 46.2,282.3 46.7,277.4 47.1,272.3 47.5,267.3 48,262.9 48.4,259.2 48.9,256.5 49.3,255.1 49.7,255 50.2,256.3 50.6,258.9 51.1,262.5 51.5,266.9 51.9,271.8 52.4,276.9 52.8,281.9 53.3,286.3 53.7,290.1 54.1,292.9 54.6,294.8 55,296.2 55.5,297.4 55.9,298.9 56.3,300.4 56.8,301.5 57.2,301.9 57.7,301.5 58.1,300.9 58.5,300.6 59,301.1 59.4,302.4 59.9,303.9 60.3,305.2 60.7,306.1 61.2,306.6 61.6,306.8 62.1,306.9 62.5,306.9 62.9,306.9 63.4,306.9 63.8,306.9 64.3,306.9 64.7,306.9 65.2,306.9 65.6,306.8 66,306.6 66.5,306.2 66.9,305.6 67.4,304.8 67.8,304.1 68.2,303.6 68.7,303.7 69.1,304.3 69.6,305.1 70,305.8 70.4,306.3 70.9,306.5 71.3,306.6 71.8,306.5 72.2,306.4 72.6,306.2 73.1,306 73.5,305.7 74,305.3 74.4,304.9 74.8,304.4 75.3,303.8 75.7,303.3 76.2,302.8 76.6,302.4 77,302.1 77.5,302 77.9,302 78.4,302.1 78.8,302.4 79.2,302.7 79.7,303.1 80.1,303.6 80.6,304 81,304.4 81.4,304.8 81.9,305.1 82.3,305.4 82.8,305.6 83.2,305.9 83.6,306 84.1,306.2 84.5,306.3 85,306.4 85.4,306.4 85.8,306.4 86.3,306.4 86.7,306.3 87.2,306.2 87.6,306.1 88.1,306 88.5,305.8 88.9,305.7 89.4,305.6 89.8,305.6 90.3,305.6 90.7,305.7 91.1,305.8 91.6,305.9 92,306.1 92.5,306.2 92.9,306.4 93.3,306.5 93.8,306.6 94.2,306.7 94.7,306.7 95.1,306.7 95.5,306.7 96,306.7 96.4,306.6 96.9,306.4 97.3,306.2 97.7,306 98.2,305.7 98.6,305.5 99.1,305.2 99.5,305 99.9,304.8 100.4,304.8 100.8,304.8 101.3,304.9 101.7,305.1 102.1,305.3 102.6,305.6 103,305.9 103.5,306.1 103.9,306.3 104.3,306.5 104.8,306.6 105.2,306.7 105.7,306.8 106.1,306.8 106.5,306.9 107,306.9 107.4,306.9 107.9,306.9 108.3,306.9 108.8,306.9 109.2,306.9 109.6,306.9 110.1,306.9 110.5,306.9 111,306.9 111.4,306.9 111.8,306.8 112.3,306.8 112.7,306.7 113.2,306.7 113.6,306.6 114,306.4 114.5,306.3 114.9,306.2 115.4,306 115.8,305.9 116.2,305.8 116.7,305.7 117.1,305.7 117.6,305.8 118,305.9 118.4,306 118.9,306.1 119.3,306.3 119.8,306.4 120.2,306.5 120.6,306.6 121.1,306.7 121.5,306.8 122,306.8 122.4,306.9 122.8,306.9 123.3,306.9 123.7,306.9 124.2,306.9 124.6,306.9 125,306.9 125.5,306.9 125.9,306.9 126.4,306.9 126.8,306.9 127.2,306.9 127.7,306.9 128.1,306.9 128.6,306.9 129,306.9 129.5,306.9 129.9,306.9 130.3,306.9 130.8,306.9 131.2,306.9 131.7,306.9 132.1,306.9 132.5,306.9 133,306.9 133.4,306.9 133.9,306.9 134.3,306.9 134.7,306.9 135.2,306.9 135.6,306.9 136.1,306.9 136.5,306.9 136.9,306.9 137.4,306.9 137.8,306.9 138.3,306.9 138.7,306.9" fill="none" stroke="#E8470C" stroke-width="1.4" stroke-linejoin="round"/>
<text x="132.9" y="303.6" font-size="7.85" text-anchor="end"><tspan font-style="italic">ℓ</tspan>2 = 2</text>
<polyline points="196,169.4 90.3,169.4 26.9,257 26.9,316.1 132.6,316.1 196,228.5" fill="none" stroke="#1f1f1f" stroke-width="0.8" stroke-linejoin="miter"/>
<line x1="26.9" y1="316.1" x2="26.9" y2="318.4" stroke="#1f1f1f" stroke-width="0.8"/>
<text x="26.9" y="326.4" font-size="8.2" text-anchor="middle" fill="#000">0</text>
<line x1="41.8" y1="316.1" x2="41.8" y2="317.5" stroke="#1f1f1f" stroke-width="0.7"/>
<line x1="56.8" y1="316.1" x2="56.8" y2="318.4" stroke="#1f1f1f" stroke-width="0.8"/>
<text x="56.8" y="326.4" font-size="8.2" text-anchor="middle" fill="#000">1</text>
<line x1="71.7" y1="316.1" x2="71.7" y2="317.5" stroke="#1f1f1f" stroke-width="0.7"/>
<line x1="86.7" y1="316.1" x2="86.7" y2="318.4" stroke="#1f1f1f" stroke-width="0.8"/>
<text x="86.7" y="326.4" font-size="8.2" text-anchor="middle" fill="#000">2</text>
<line x1="101.6" y1="316.1" x2="101.6" y2="317.5" stroke="#1f1f1f" stroke-width="0.7"/>
<line x1="116.6" y1="316.1" x2="116.6" y2="318.4" stroke="#1f1f1f" stroke-width="0.8"/>
<text x="116.6" y="326.4" font-size="8.2" text-anchor="middle" fill="#000">3</text>
<line x1="131.5" y1="316.1" x2="131.5" y2="317.5" stroke="#1f1f1f" stroke-width="0.7"/>
<line x1="24.6" y1="316.1" x2="26.9" y2="316.1" stroke="#1f1f1f" stroke-width="0.8"/>
<text x="23.7" y="319" font-size="8.2" text-anchor="end" fill="#000">0.0</text>
<line x1="24.6" y1="286.6" x2="26.9" y2="286.6" stroke="#1f1f1f" stroke-width="0.8"/>
<text x="23.7" y="289.4" font-size="8.2" text-anchor="end" fill="#000">0.5</text>
<line x1="24.6" y1="257" x2="26.9" y2="257" stroke="#1f1f1f" stroke-width="0.8"/>
<text x="23.7" y="259.9" font-size="8.2" text-anchor="end" fill="#000">1.0</text>
<line x1="25.5" y1="301.3" x2="26.9" y2="301.3" stroke="#1f1f1f" stroke-width="0.7"/>
<line x1="25.5" y1="271.8" x2="26.9" y2="271.8" stroke="#1f1f1f" stroke-width="0.7"/>
<text x="79.8" y="333.5" font-size="7.7" text-anchor="middle" fill="#000">Frequency (Hz)</text>
<text transform="translate(7.3,295.6) rotate(-90)" font-size="7.7" text-anchor="middle">Rel. Power (arb. units)</text>
<line x1="138.7" y1="308.2" x2="141.1" y2="308.2" stroke="#1f1f1f" stroke-width="0.8"/>
<text x="143.3" y="310.8" font-size="7.95" text-anchor="start" fill="#000">v = 5 cm/s</text>
<line x1="149.3" y1="293.6" x2="151.7" y2="293.6" stroke="#1f1f1f" stroke-width="0.8"/>
<text x="153.9" y="296.2" font-size="7.95" text-anchor="start" fill="#000">v = −5 cm/s</text>
<line x1="159.9" y1="279" x2="162.3" y2="279" stroke="#1f1f1f" stroke-width="0.8"/>
<text x="164.5" y="281.6" font-size="7.95" text-anchor="start" fill="#000">v = 5 cm/s</text>
<line x1="170.5" y1="264.4" x2="172.9" y2="264.4" stroke="#1f1f1f" stroke-width="0.8"/>
<text x="175.1" y="267" font-size="7.95" text-anchor="start" fill="#000">v = 10 cm/s</text>
<line x1="181.1" y1="249.8" x2="183.5" y2="249.8" stroke="#1f1f1f" stroke-width="0.8"/>
<text x="185.7" y="252.4" font-size="7.95" text-anchor="start" fill="#000">v = −10 cm/s</text>
<line x1="191.7" y1="235.2" x2="194.1" y2="235.2" stroke="#1f1f1f" stroke-width="0.8"/>
<text x="196.3" y="237.8" font-size="7.95" text-anchor="start" fill="#000">v = 10 cm/s</text>
<text x="10.9" y="183.7" font-size="10.6" text-anchor="start" fill="#000" font-weight="bold">b</text>
<text x="32.4" y="194.3" font-size="7.95" text-anchor="start" fill="#000">|Δf| = 1.2 Hz</text>
<line x1="81" y1="191.9" x2="91.6" y2="205" stroke="#7f7f7f" stroke-width="1.2"/>
<polygon points="96.3,210.8 89.4,206.8 93.9,203.2" fill="#7f7f7f" stroke="none" stroke-width="0"/>
<line x1="81" y1="191.9" x2="99.5" y2="195" stroke="#7f7f7f" stroke-width="1.2"/>
<polygon points="106.9,196.2 99.1,197.8 100,192.1" fill="#7f7f7f" stroke="none" stroke-width="0"/>
<line x1="81" y1="191.9" x2="110.7" y2="184.6" stroke="#7f7f7f" stroke-width="1.2"/>
<polygon points="118,182.8 111.4,187.4 110,181.8" fill="#7f7f7f" stroke="none" stroke-width="0"/>
<text x="9.6" y="221.6" font-size="7.95" text-anchor="start" fill="#000">|Δf| = 0.6 Hz</text>
<line x1="53.1" y1="227.8" x2="49.5" y2="247.9" stroke="#7f7f7f" stroke-width="1.2"/>
<polygon points="48.2,255.3 46.7,247.4 52.4,248.5" fill="#7f7f7f" stroke="none" stroke-width="0"/>
<line x1="53.1" y1="227.8" x2="55.8" y2="233.9" stroke="#7f7f7f" stroke-width="1.2"/>
<polygon points="58.8,240.7 53.1,235.1 58.4,232.7" fill="#7f7f7f" stroke="none" stroke-width="0"/>
<line x1="53.1" y1="227.8" x2="62" y2="226.9" stroke="#7f7f7f" stroke-width="1.2"/>
<polygon points="69.4,226.1 62.3,229.8 61.7,224" fill="#7f7f7f" stroke="none" stroke-width="0"/>
<polygon points="313.7,228.5 419.4,228.5 419.4,169.4 313.7,169.4" fill="#FFFEE8" stroke="none" stroke-width="0"/>
<polygon points="250.3,316.1 356,316.1 419.4,228.5 313.7,228.5" fill="#F5F5F5" stroke="none" stroke-width="0"/>
<clipPath id="w223_168"><rect x="0" y="208" width="685" height="486"/></clipPath>
<g clip-path="url(#w223_168)">
<polygon points="250.3,316.1 250.3,257 313.7,169.4 313.7,228.5" fill="#FEF5F5" stroke="none" stroke-width="0"/>
<polygon points="313.7,228.5 419.4,228.5 419.4,169.4 313.7,169.4" fill="#FDF2E9" stroke="none" stroke-width="0"/>
</g>
<line x1="343.6" y1="228.5" x2="343.6" y2="169.4" stroke="#D9D9D9" stroke-width="0.5"/>
<line x1="280.2" y1="316.1" x2="343.6" y2="228.5" stroke="#D9D9D9" stroke-width="0.5"/>
<line x1="373.5" y1="228.5" x2="373.5" y2="169.4" stroke="#D9D9D9" stroke-width="0.5"/>
<line x1="310.1" y1="316.1" x2="373.5" y2="228.5" stroke="#D9D9D9" stroke-width="0.5"/>
<line x1="403.4" y1="228.5" x2="403.4" y2="169.4" stroke="#D9D9D9" stroke-width="0.5"/>
<line x1="340" y1="316.1" x2="403.4" y2="228.5" stroke="#D9D9D9" stroke-width="0.5"/>
<line x1="313.7" y1="199" x2="419.4" y2="199" stroke="#D9D9D9" stroke-width="0.5"/>
<line x1="250.3" y1="286.6" x2="313.7" y2="199" stroke="#D9D9D9" stroke-width="0.5"/>
<line x1="256.4" y1="308.2" x2="362.1" y2="308.2" stroke="#D9D9D9" stroke-width="0.5"/>
<line x1="256.4" y1="308.2" x2="256.4" y2="249.1" stroke="#D9D9D9" stroke-width="0.5"/>
<line x1="267" y1="293.6" x2="372.7" y2="293.6" stroke="#D9D9D9" stroke-width="0.5"/>
<line x1="267" y1="293.6" x2="267" y2="234.5" stroke="#D9D9D9" stroke-width="0.5"/>
<line x1="277.6" y1="279" x2="383.3" y2="279" stroke="#D9D9D9" stroke-width="0.5"/>
<line x1="277.6" y1="279" x2="277.6" y2="219.9" stroke="#D9D9D9" stroke-width="0.5"/>
<line x1="288.2" y1="264.4" x2="393.9" y2="264.4" stroke="#D9D9D9" stroke-width="0.5"/>
<line x1="288.2" y1="264.4" x2="288.2" y2="205.3" stroke="#D9D9D9" stroke-width="0.5"/>
<line x1="298.8" y1="249.8" x2="404.5" y2="249.8" stroke="#D9D9D9" stroke-width="0.5"/>
<line x1="298.8" y1="249.8" x2="298.8" y2="190.7" stroke="#D9D9D9" stroke-width="0.5"/>
<line x1="309.4" y1="235.2" x2="415.1" y2="235.2" stroke="#D9D9D9" stroke-width="0.5"/>
<line x1="309.4" y1="235.2" x2="309.4" y2="176.1" stroke="#D9D9D9" stroke-width="0.5"/>
<line x1="419.4" y1="228.5" x2="419.4" y2="169.4" stroke="#BDBDBD" stroke-width="0.6"/>
<line x1="313.7" y1="228.5" x2="419.4" y2="228.5" stroke="#BDBDBD" stroke-width="0.6"/>
<line x1="313.7" y1="228.5" x2="313.7" y2="169.4" stroke="#BDBDBD" stroke-width="0.6"/>
<line x1="250.3" y1="316.1" x2="313.7" y2="228.5" stroke="#BDBDBD" stroke-width="0.6"/>
<line x1="361.4" y1="183.2" x2="361.4" y2="235.2" stroke="#6A1FC2" stroke-width="0.7" stroke-dasharray="1.8 1.9" opacity="0.75"/>
<polyline points="309.4,230.4 309.8,229.7 310.3,228.8 310.7,227.7 311.2,226.4 311.6,224.9 312,223.4 312.5,221.8 312.9,220.4 313.4,219.2 313.8,218.4 314.2,218.1 314.7,218.2 315.1,218.8 315.6,219.7 316,221 316.4,222.5 316.9,224.1 317.3,225.6 317.8,227 318.2,228.2 318.6,229.2 319.1,230.1 319.5,230.7 320,231.1 320.4,231.4 320.9,231.6 321.3,231.7 321.7,231.8 322.2,231.8 322.6,231.8 323.1,231.7 323.5,231.7 323.9,231.6 324.4,231.4 324.8,231.2 325.3,230.9 325.7,230.6 326.1,230.2 326.6,229.7 327,229.2 327.5,228.6 327.9,228 328.3,227.3 328.8,226.6 329.2,225.9 329.7,225.3 330.1,224.8 330.5,224.4 331,224.1 331.4,224 331.9,224 332.3,224.2 332.7,224.6 333.2,225 333.6,225.6 334.1,226.3 334.5,226.9 334.9,227.6 335.4,228.3 335.8,228.9 336.3,229.5 336.7,230 337.1,230.4 337.6,230.8 338,231.1 338.5,231.3 338.9,231.5 339.3,231.6 339.8,231.7 340.2,231.8 340.7,231.8 341.1,231.9 341.6,231.9 342,231.9 342.4,231.9 342.9,231.8 343.3,231.7 343.8,231.5 344.2,231.1 344.6,230.5 345.1,229.7 345.5,228.5 346,227.1 346.4,225.4 346.8,223.7 347.3,222.1 347.7,220.8 348.2,220.1 348.6,220 349,220.4 349.5,221.3 349.9,222.3 350.4,223.3 350.8,224 351.2,224.4 351.7,224.3 352.1,223.7 352.6,222.7 353,221.3 353.4,219.6 353.9,217.7 354.3,215.5 354.8,213.1 355.2,210.5 355.6,207.8 356.1,204.9 356.5,202 357,199.1 357.4,196.2 357.8,193.5 358.3,190.8 358.7,188.4 359.2,186.3 359.6,184.5 360,183 360.5,182 360.9,181.3 361.4,181.2 361.8,181.5 362.2,182.2 362.7,183.4 363.1,184.9 363.6,186.9 364,189.1 364.5,191.6 364.9,194.2 365.3,197 365.8,199.9 366.2,202.9 366.7,205.7 367.1,208.5 367.5,211.2 368,213.8 368.4,216.2 368.9,218.3 369.3,220.3 369.7,222.1 370.2,223.6 370.6,224.9 371.1,225.9 371.5,226.6 371.9,227 372.4,227 372.8,226.7 373.3,226 373.7,225.1 374.1,224.1 374.6,223.1 375,222.3 375.5,221.8 375.9,221.8 376.3,222.3 376.8,223.3 377.2,224.5 377.7,225.9 378.1,227.3 378.5,228.5 379,229.6 379.4,230.4 379.9,230.9 380.3,231.3 380.7,231.5 381.2,231.7 381.6,231.7 382.1,231.6 382.5,231.5 382.9,231.4 383.4,231.2 383.8,230.9 384.3,230.7 384.7,230.4 385.2,230.1 385.6,229.8 386,229.6 386.5,229.4 386.9,229.3 387.4,229.3 387.8,229.4 388.2,229.6 388.7,229.8 389.1,230.1 389.6,230.4 390,230.7 390.4,230.9 390.9,231.2 391.3,231.4 391.8,231.6 392.2,231.7 392.6,231.8 393.1,231.8 393.5,231.9 394,231.9 394.4,231.9 394.8,231.9 395.3,231.9 395.7,231.9 396.2,231.9 396.6,231.9 397,231.9 397.5,231.9 397.9,231.8 398.4,231.8 398.8,231.7 399.2,231.6 399.7,231.5 400.1,231.4 400.6,231.2 401,231 401.4,230.8 401.9,230.5 402.3,230.3 402.8,230 403.2,229.8 403.6,229.6 404.1,229.4 404.5,229.3 405,229.3 405.4,229.3 405.9,229.4 406.3,229.5 406.7,229.7 407.2,229.9 407.6,230.2 408.1,230.4 408.5,230.7 408.9,230.9 409.4,231.1 409.8,231.3 410.3,231.4 410.7,231.6 411.1,231.7 411.6,231.8 412,231.8 412.5,231.9 412.9,231.9 413.3,231.9 413.8,231.9 414.2,231.9 414.7,231.9 415.1,231.9" fill="none" stroke="#6A1FC2" stroke-width="1.4" stroke-linejoin="round"/>
<text x="412.5" y="228.7" font-size="7.85" text-anchor="end"><tspan font-style="italic">ℓ</tspan>2 = 0</text>
<polygon points="342.8,233.1 343.3,231.1 343.7,228.8 344.2,228.5 344.6,228.5 345,228.5 345.5,228.5 345.9,228.5 346.4,228.5 346.8,228.5 347.2,228.5 347.7,228.5 348.1,228.5 348.6,228.5 349,228.5 349.4,228.5 349.9,228.5 350.3,228.5 350.8,228.5 351.2,228.5 351.6,228.5 352.1,228.5 352.5,228.5 353,228.5 353.4,228.5 353.9,228.5 354.3,228.5 354.7,228.5 355.2,228.5 355.6,228.5 356.1,228.5 356.5,228.5 356.9,228.5 357.4,229.1 357.8,231.3 358.3,233.4 358.3,249.8 342.8,249.8" fill="#1E88D8" fill-opacity="0.07"/>
<line x1="350.3" y1="197.5" x2="350.3" y2="249.8" stroke="#3F4FC4" stroke-width="0.7" stroke-dasharray="1.8 1.9" opacity="0.75"/>
<polyline points="298.8,246.1 299.2,245.9 299.7,245.6 300.1,245.1 300.6,244.4 301,243.3 301.4,241.9 301.9,240.1 302.3,238 302.8,235.8 303.2,233.7 303.6,232 304.1,230.9 304.5,230.6 305,231.1 305.4,232.3 305.8,234.1 306.3,236.3 306.7,238.5 307.2,240.5 307.6,242.2 308,243.6 308.5,244.5 308.9,245.2 309.4,245.7 309.8,245.9 310.3,246 310.7,246 311.1,245.9 311.6,245.6 312,245.3 312.5,244.7 312.9,244 313.3,243.2 313.8,242.2 314.2,241.1 314.7,240.2 315.1,239.4 315.5,239 316,238.9 316.4,239.2 316.9,239.8 317.3,240.7 317.7,241.8 318.2,242.8 318.6,243.7 319.1,244.5 319.5,245.1 319.9,245.5 320.4,245.8 320.8,245.9 321.3,245.9 321.7,245.7 322.1,245.4 322.6,244.9 323,244.2 323.5,243.3 323.9,242.1 324.3,240.9 324.8,239.6 325.2,238.5 325.7,237.6 326.1,237.1 326.5,237.2 327,237.7 327.4,238.5 327.9,239.7 328.3,241 328.7,242.2 329.2,243.3 329.6,244.3 330.1,245 330.5,245.4 331,245.8 331.4,246 331.8,246 332.3,246 332.7,245.9 333.2,245.7 333.6,245.3 334,244.6 334.5,243.6 334.9,242.3 335.4,240.6 335.8,238.6 336.2,236.6 336.7,234.8 337.1,233.4 337.6,232.5 338,232.4 338.4,232.9 338.9,234 339.3,235.2 339.8,236.4 340.2,237.3 340.6,237.8 341.1,237.8 341.5,237.3 342,236.3 342.4,234.9 342.8,233.1 343.3,231.1 343.7,228.8 344.2,226.3 344.6,223.7 345,220.9 345.5,218 345.9,215.1 346.4,212.2 346.8,209.4 347.2,206.7 347.7,204.1 348.1,201.8 348.6,199.8 349,198.1 349.4,196.8 349.9,196 350.3,195.5 350.8,195.6 351.2,196 351.6,196.9 352.1,198.3 352.5,200 353,202 353.4,204.4 353.9,206.9 354.3,209.7 354.7,212.5 355.2,215.4 355.6,218.3 356.1,221.2 356.5,224 356.9,226.6 357.4,229.1 357.8,231.3 358.3,233.4 358.7,235.2 359.1,236.7 359.6,237.9 360,238.7 360.5,239.2 360.9,239.2 361.3,238.9 361.8,238.2 362.2,237.4 362.7,236.4 363.1,235.6 363.5,235.2 364,235.1 364.4,235.6 364.9,236.5 365.3,237.8 365.7,239.3 366.2,240.8 366.6,242.2 367.1,243.4 367.5,244.3 367.9,245 368.4,245.5 368.8,245.8 369.3,246 369.7,246.1 370.1,246.2 370.6,246.2 371,246.2 371.5,246.2 371.9,246.1 372.3,246 372.8,245.9 373.2,245.6 373.7,245.3 374.1,244.8 374.6,244.3 375,243.6 375.4,242.9 375.9,242.2 376.3,241.7 376.8,241.3 377.2,241.2 377.6,241.4 378.1,241.8 378.5,242.4 379,243.1 379.4,243.8 379.8,244.4 380.3,245 380.7,245.4 381.2,245.7 381.6,245.9 382,246.1 382.5,246.1 382.9,246.2 383.4,246.2 383.8,246.2 384.2,246.2 384.7,246.1 385.1,246.1 385.6,246 386,245.9 386.4,245.8 386.9,245.6 387.3,245.5 387.8,245.3 388.2,245.1 388.6,245 389.1,244.9 389.5,244.8 390,244.8 390.4,244.8 390.8,244.9 391.3,245 391.7,245.1 392.2,245.3 392.6,245.5 393,245.6 393.5,245.8 393.9,245.9 394.4,246 394.8,246.1 395.3,246.1 395.7,246.2 396.1,246.2 396.6,246.2 397,246.2 397.5,246.2 397.9,246.2 398.3,246.3 398.8,246.3 399.2,246.3 399.7,246.3 400.1,246.3 400.5,246.3 401,246.3 401.4,246.3 401.9,246.3 402.3,246.3 402.7,246.3 403.2,246.3 403.6,246.3 404.1,246.3 404.5,246.3" fill="none" stroke="#3F4FC4" stroke-width="1.4" stroke-linejoin="round"/>
<text x="401.9" y="243.3" font-size="7.85" text-anchor="end"><tspan font-style="italic">ℓ</tspan>2 = 2</text>
<polygon points="332.7,247.2 333.1,245 333.6,242.7 334,240.1 334.4,237.4 334.9,234.6 335.3,231.7 335.8,228.8 336.2,228.5 336.6,228.5 337.1,228.5 337.5,228.5 338,228.5 338.4,228.5 338.8,228.5 339.3,228.5 339.7,228.5 340.2,228.5 340.6,228.5 341,228.5 341.5,228.5 341.9,228.5 342.4,228.5 342.8,228.5 343.3,228.5 343.7,228.5 344.1,228.5 344.6,228.5 345,231 345.5,233.9 345.9,236.7 346.3,239.4 346.8,242 347.2,244.4 347.7,246.7 348.1,248.7 348.1,264.4 332.7,264.4" fill="#1E88D8" fill-opacity="0.07"/>
<line x1="340.2" y1="212.1" x2="340.2" y2="264.4" stroke="#1E88D8" stroke-width="0.7" stroke-dasharray="1.8 1.9" opacity="0.75"/>
<polyline points="288.2,260.2 288.6,259.7 289.1,259 289.5,258.1 290,256.9 290.4,255.5 290.8,254 291.3,252.5 291.7,251.2 292.2,250.3 292.6,249.9 293,250.1 293.5,250.8 293.9,252 294.4,253.5 294.8,255 295.2,256.4 295.7,257.7 296.1,258.7 296.6,259.5 297,260 297.4,260.2 297.9,260.3 298.3,260.2 298.8,259.8 299.2,259.3 299.7,258.4 300.1,257.2 300.5,255.7 301,253.9 301.4,252.1 301.9,250.3 302.3,248.8 302.7,247.9 303.2,247.6 303.6,247.9 304.1,249 304.5,250.5 304.9,252.3 305.4,254.1 305.8,255.9 306.3,257.3 306.7,258.5 307.1,259.3 307.6,259.9 308,260.2 308.5,260.3 308.9,260.3 309.3,260 309.8,259.5 310.2,258.9 310.7,257.9 311.1,256.8 311.5,255.5 312,254.1 312.4,252.8 312.9,251.8 313.3,251.2 313.7,251.1 314.2,251.5 314.6,252.4 315.1,253.6 315.5,254.9 315.9,256.2 316.4,257.5 316.8,258.5 317.3,259.3 317.7,259.9 318.1,260.3 318.6,260.5 319,260.6 319.5,260.7 319.9,260.7 320.4,260.5 320.8,260.3 321.2,259.9 321.7,259.2 322.1,258.3 322.6,257.1 323,255.5 323.4,253.7 323.9,251.8 324.3,250 324.8,248.5 325.2,247.5 325.6,247.2 326.1,247.5 326.5,248.4 327,249.8 327.4,251.3 327.8,252.8 328.3,254.1 328.7,255.1 329.2,255.6 329.6,255.7 330,255.4 330.5,254.7 330.9,253.7 331.4,252.5 331.8,250.9 332.2,249.2 332.7,247.2 333.1,245 333.6,242.7 334,240.1 334.4,237.4 334.9,234.6 335.3,231.7 335.8,228.8 336.2,225.9 336.6,223.1 337.1,220.4 337.5,218 338,215.7 338.4,213.8 338.8,212.3 339.3,211.1 339.7,210.4 340.2,210.1 340.6,210.3 341,210.9 341.5,211.9 341.9,213.4 342.4,215.2 342.8,217.4 343.3,219.8 343.7,222.4 344.1,225.2 344.6,228.1 345,231 345.5,233.9 345.9,236.7 346.3,239.4 346.8,242 347.2,244.4 347.7,246.7 348.1,248.7 348.5,250.5 349,252 349.4,253.3 349.9,254.3 350.3,254.9 350.7,255.3 351.2,255.4 351.6,255.2 352.1,254.8 352.5,254.3 352.9,253.8 353.4,253.5 353.8,253.4 354.3,253.6 354.7,254.1 355.1,254.9 355.6,255.9 356,256.9 356.5,257.8 356.9,258.7 357.3,259.4 357.8,259.9 358.2,260.2 358.7,260.5 359.1,260.6 359.5,260.6 360,260.5 360.4,260.3 360.9,260 361.3,259.6 361.7,259 362.2,258.4 362.6,257.7 363.1,257 363.5,256.4 364,256 364.4,255.8 364.8,255.9 365.3,256.3 365.7,256.8 366.2,257.5 366.6,258.2 367,258.9 367.5,259.4 367.9,259.9 368.4,260.2 368.8,260.5 369.2,260.6 369.7,260.7 370.1,260.7 370.6,260.7 371,260.6 371.4,260.6 371.9,260.4 372.3,260.3 372.8,260 373.2,259.8 373.6,259.5 374.1,259.2 374.5,258.9 375,258.6 375.4,258.4 375.8,258.3 376.3,258.2 376.7,258.2 377.2,258.3 377.6,258.5 378,258.8 378.5,259 378.9,259.3 379.4,259.6 379.8,259.9 380.2,260.1 380.7,260.3 381.1,260.5 381.6,260.6 382,260.7 382.4,260.8 382.9,260.8 383.3,260.8 383.8,260.8 384.2,260.8 384.7,260.8 385.1,260.9 385.5,260.9 386,260.9 386.4,260.9 386.9,260.9 387.3,260.9 387.7,260.9 388.2,260.9 388.6,260.9 389.1,260.9 389.5,260.9 389.9,260.9 390.4,260.9 390.8,260.9 391.3,260.9 391.7,260.9 392.1,260.9 392.6,260.9 393,260.9 393.5,260.9 393.9,260.9" fill="none" stroke="#1E88D8" stroke-width="1.4" stroke-linejoin="round"/>
<text x="391.3" y="257.9" font-size="7.85" text-anchor="end"><tspan font-style="italic">ℓ</tspan>2 = 2</text>
<line x1="303.6" y1="226.6" x2="303.6" y2="279" stroke="#FFB700" stroke-width="0.7" stroke-dasharray="1.8 1.9" opacity="0.75"/>
<polyline points="277.6,276.5 278,274.8 278.5,271.7 278.9,267.9 279.4,264.8 279.8,263.9 280.2,265.9 280.7,269.5 281.1,273.1 281.6,275.6 282,276.9 282.4,277.5 282.9,277.6 283.3,277.6 283.8,277.4 284.2,276.9 284.6,275.9 285.1,274.3 285.5,272.4 286,270.6 286.4,269.7 286.8,270.2 287.3,271.7 287.7,273.7 288.2,275.5 288.6,276.7 289.1,277.3 289.5,277.5 289.9,277.4 290.4,277.1 290.8,276.2 291.3,274.8 291.7,272.8 292.1,270.9 292.6,269.6 293,269.7 293.5,270.9 293.9,272.7 294.3,274.1 294.8,274.3 295.2,273.2 295.7,271.1 296.1,268.8 296.5,267.4 297,267.6 297.4,269.3 297.9,271.6 298.3,273.5 298.7,274.3 299.2,273.9 299.6,272.1 300.1,269.1 300.5,264.8 300.9,259.1 301.4,252.4 301.8,245 302.3,237.7 302.7,231.4 303.1,226.8 303.6,224.6 304,225.3 304.5,228.6 304.9,234.1 305.3,241.1 305.8,248.5 306.2,255.6 306.7,261.9 307.1,266.9 307.5,270.7 308,273.1 308.4,274.1 308.9,273.6 309.3,271.4 309.8,267.8 310.2,264 310.6,261.4 311.1,261.4 311.5,263.9 312,267.9 312.4,271.8 312.8,274.7 313.3,276.4 313.7,277 314.2,276.8 314.6,276.1 315,274.7 315.5,273.1 315.9,271.6 316.4,271 316.8,271.5 317.2,272.8 317.7,274.5 318.1,275.8 318.6,276.6 319,276.9 319.4,276.8 319.9,276.5 320.3,276 320.8,275.3 321.2,274.7 321.6,274.2 322.1,273.8 322.5,273.7 323,273.8 323.4,274.2 323.8,274.8 324.3,275.4 324.7,276 325.2,276.5 325.6,276.9 326,277.2 326.5,277.3 326.9,277.3 327.4,277.2 327.8,277 328.2,276.7 328.7,276.4 329.1,276.1 329.6,275.8 330,275.7 330.5,275.7 330.9,275.8 331.3,276 331.8,276.3 332.2,276.6 332.7,276.8 333.1,277 333.5,277.1 334,277.1 334.4,277 334.9,276.8 335.3,276.5 335.7,276.2 336.2,275.8 336.6,275.5 337.1,275.3 337.5,275.1 337.9,275 338.4,275.1 338.8,275.2 339.3,275.5 339.7,275.8 340.1,276.1 340.6,276.4 341,276.7 341.5,277 341.9,277.2 342.3,277.4 342.8,277.5 343.2,277.6 343.7,277.6 344.1,277.6 344.5,277.7 345,277.7 345.4,277.6 345.9,277.6 346.3,277.5 346.7,277.4 347.2,277.3 347.6,277.1 348.1,276.9 348.5,276.7 348.9,276.4 349.4,276.2 349.8,275.9 350.3,275.8 350.7,275.7 351.1,275.7 351.6,275.7 352,275.9 352.5,276.1 352.9,276.4 353.4,276.6 353.8,276.9 354.2,277.1 354.7,277.3 355.1,277.4 355.6,277.5 356,277.6 356.4,277.6 356.9,277.7 357.3,277.7 357.8,277.7 358.2,277.7 358.6,277.7 359.1,277.7 359.5,277.7 360,277.7 360.4,277.7 360.8,277.7 361.3,277.6 361.7,277.6 362.2,277.5 362.6,277.4 363,277.2 363.5,277 363.9,276.7 364.4,276.4 364.8,276.1 365.2,275.9 365.7,275.6 366.1,275.4 366.6,275.3 367,275.3 367.4,275.4 367.9,275.6 368.3,275.9 368.8,276.2 369.2,276.5 369.6,276.7 370.1,277 370.5,277.2 371,277.4 371.4,277.5 371.8,277.6 372.3,277.6 372.7,277.7 373.2,277.7 373.6,277.7 374.1,277.7 374.5,277.7 374.9,277.7 375.4,277.7 375.8,277.7 376.3,277.7 376.7,277.7 377.1,277.7 377.6,277.7 378,277.7 378.5,277.7 378.9,277.7 379.3,277.7 379.8,277.7 380.2,277.7 380.7,277.7 381.1,277.7 381.5,277.7 382,277.7 382.4,277.7 382.9,277.7 383.3,277.7" fill="none" stroke="#FFB700" stroke-width="1.4" stroke-linejoin="round"/>
<text x="380.7" y="272.5" font-size="7.85" text-anchor="end"><tspan font-style="italic">ℓ</tspan>2 = 0</text>
<line x1="293" y1="241.2" x2="293" y2="293.6" stroke="#F28A00" stroke-width="0.7" stroke-dasharray="1.8 1.9" opacity="0.75"/>
<polyline points="267,291 267.4,288.9 267.9,285.5 268.3,281.3 268.8,277.9 269.2,277 269.6,279.2 270.1,283.3 270.5,287.3 271,290 271.4,291.5 271.8,292.1 272.3,292.2 272.7,292.3 273.2,292.3 273.6,292.1 274,291.9 274.5,291.2 274.9,290.1 275.4,288.5 275.8,286.7 276.2,285.4 276.7,285.2 277.1,286.2 277.6,287.9 278,289.6 278.5,290.8 278.9,291.5 279.3,291.5 279.8,290.8 280.2,289.3 280.7,287.2 281.1,284.8 281.5,283.1 282,282.7 282.4,284 282.9,286.2 283.3,288.4 283.7,289.9 284.2,290.3 284.6,289.3 285.1,287.1 285.5,284.2 285.9,281.4 286.4,280 286.8,280.5 287.3,282.6 287.7,285.2 288.1,287 288.6,287.5 289,286.3 289.5,283.6 289.9,279.3 290.3,273.7 290.8,267 291.2,259.6 291.7,252.3 292.1,246 292.5,241.4 293,239.2 293.4,239.9 293.9,243.2 294.3,248.7 294.7,255.7 295.2,263.1 295.6,270.2 296.1,276.5 296.5,281.5 296.9,285.3 297.4,287.7 297.8,288.8 298.3,288.6 298.7,287 299.2,284.3 299.6,281.6 300,280 300.5,280.4 300.9,282.5 301.4,285.6 301.8,288.4 302.2,290.3 302.7,291.3 303.1,291.4 303.6,290.8 304,289.6 304.4,288.1 304.9,286.6 305.3,285.8 305.8,286.1 306.2,287.4 306.6,288.9 307.1,290.3 307.5,291.2 308,291.6 308.4,291.5 308.8,291.2 309.3,290.7 309.7,290.1 310.2,289.5 310.6,288.8 311,288.4 311.5,288.1 311.9,288.2 312.4,288.5 312.8,289 313.2,289.6 313.7,290.3 314.1,290.8 314.6,291.3 315,291.6 315.4,291.7 315.9,291.7 316.3,291.5 316.8,291.3 317.2,290.9 317.6,290.6 318.1,290.3 318.5,290 319,290 319.4,290 319.9,290.2 320.3,290.5 320.7,290.9 321.2,291.2 321.6,291.5 322.1,291.6 322.5,291.7 322.9,291.6 323.4,291.5 323.8,291.3 324.3,291 324.7,290.8 325.1,290.5 325.6,290.3 326,290.2 326.5,290.2 326.9,290.2 327.3,290.4 327.8,290.6 328.2,290.8 328.7,291.1 329.1,291.3 329.5,291.6 330,291.8 330.4,291.9 330.9,292.1 331.3,292.1 331.7,292.2 332.2,292.2 332.6,292.3 333.1,292.3 333.5,292.3 333.9,292.3 334.4,292.2 334.8,292.2 335.3,292.1 335.7,292.1 336.1,292 336.6,291.8 337,291.6 337.5,291.5 337.9,291.3 338.3,291.1 338.8,290.9 339.2,290.8 339.7,290.8 340.1,290.8 340.5,290.9 341,291 341.4,291.2 341.9,291.4 342.3,291.5 342.8,291.7 343.2,291.9 343.6,292 344.1,292.1 344.5,292.2 345,292.2 345.4,292.3 345.8,292.3 346.3,292.3 346.7,292.3 347.2,292.3 347.6,292.3 348,292.3 348.5,292.3 348.9,292.3 349.4,292.3 349.8,292.3 350.2,292.3 350.7,292.3 351.1,292.2 351.6,292.2 352,292.1 352.4,292 352.9,291.9 353.3,291.7 353.8,291.4 354.2,291.1 354.6,290.8 355.1,290.4 355.5,290.1 356,289.8 356.4,289.5 356.8,289.4 357.3,289.4 357.7,289.5 358.2,289.8 358.6,290.1 359,290.4 359.5,290.8 359.9,291.2 360.4,291.5 360.8,291.7 361.2,291.9 361.7,292 362.1,292.1 362.6,292.2 363,292.2 363.5,292.3 363.9,292.3 364.3,292.3 364.8,292.3 365.2,292.3 365.7,292.3 366.1,292.3 366.5,292.3 367,292.3 367.4,292.3 367.9,292.3 368.3,292.3 368.7,292.3 369.2,292.3 369.6,292.3 370.1,292.3 370.5,292.3 370.9,292.3 371.4,292.3 371.8,292.3 372.3,292.3 372.7,292.3" fill="none" stroke="#F28A00" stroke-width="1.4" stroke-linejoin="round"/>
<text x="370.1" y="287.1" font-size="7.85" text-anchor="end"><tspan font-style="italic">ℓ</tspan>2 = 2</text>
<line x1="282.4" y1="255.8" x2="282.4" y2="308.2" stroke="#E8470C" stroke-width="0.7" stroke-dasharray="1.8 1.9" opacity="0.75"/>
<polyline points="256.4,303.4 256.8,300.3 257.3,296.7 257.7,294.2 258.2,294.2 258.6,296.6 259,300.1 259.5,303.3 259.9,305.4 260.4,306.4 260.8,306.8 261.2,306.9 261.7,306.9 262.1,306.9 262.6,306.8 263,306.7 263.4,306.3 263.9,305.5 264.3,304.2 264.8,302.5 265.2,300.9 265.6,300 266.1,300.3 266.5,301.6 267,303.3 267.4,304.8 267.9,305.9 268.3,306.5 268.7,306.7 269.2,306.7 269.6,306.3 270.1,305.6 270.5,304.2 270.9,302.3 271.4,300.2 271.8,298.8 272.3,298.5 272.7,299.5 273.1,300.8 273.6,301.5 274,300.9 274.5,299 274.9,296.9 275.3,295.6 275.8,296 276.2,298 276.7,300.5 277.1,302.6 277.5,303.5 278,303.1 278.4,301.3 278.9,298.3 279.3,294 279.7,288.3 280.2,281.6 280.6,274.2 281.1,266.9 281.5,260.6 281.9,256 282.4,253.8 282.8,254.5 283.3,257.8 283.7,263.3 284.1,270.3 284.6,277.7 285,284.8 285.5,291 285.9,295.9 286.3,299.1 286.8,300.6 287.2,300.3 287.7,298.5 288.1,296.2 288.6,294.7 289,294.9 289.4,296.8 289.9,299.8 290.3,302.7 290.8,304.8 291.2,306 291.6,306.5 292.1,306.5 292.5,306 293,305.1 293.4,303.6 293.8,301.8 294.3,300.3 294.7,299.7 295.2,300.3 295.6,301.8 296,303.6 296.5,305 296.9,305.8 297.4,306.1 297.8,306 298.2,305.7 298.7,305.1 299.1,304.5 299.6,303.9 300,303.3 300.4,303 300.9,302.8 301.3,303 301.8,303.3 302.2,303.9 302.6,304.5 303.1,305.1 303.5,305.7 304,306.1 304.4,306.3 304.8,306.4 305.3,306.3 305.7,306.1 306.2,305.9 306.6,305.5 307,305.1 307.5,304.7 307.9,304.4 308.4,304.3 308.8,304.4 309.2,304.5 309.7,304.9 310.1,305.2 310.6,305.6 311,305.9 311.5,306.1 311.9,306.2 312.3,306.2 312.8,306.2 313.2,306 313.7,305.8 314.1,305.5 314.5,305.3 315,305 315.4,304.9 315.9,304.8 316.3,304.8 316.7,304.9 317.2,305.1 317.6,305.3 318.1,305.6 318.5,305.8 318.9,306.1 319.4,306.3 319.8,306.5 320.3,306.6 320.7,306.7 321.1,306.8 321.6,306.8 322,306.9 322.5,306.9 322.9,306.9 323.3,306.9 323.8,306.9 324.2,306.8 324.7,306.8 325.1,306.7 325.5,306.6 326,306.4 326.4,306.3 326.9,306 327.3,305.8 327.7,305.6 328.2,305.3 328.6,305.2 329.1,305 329.5,305 329.9,305 330.4,305.1 330.8,305.3 331.3,305.5 331.7,305.7 332.2,306 332.6,306.2 333,306.4 333.5,306.5 333.9,306.7 334.4,306.7 334.8,306.8 335.2,306.8 335.7,306.9 336.1,306.9 336.6,306.9 337,306.9 337.4,306.9 337.9,306.9 338.3,306.9 338.8,306.9 339.2,306.9 339.6,306.9 340.1,306.8 340.5,306.8 341,306.7 341.4,306.7 341.8,306.5 342.3,306.3 342.7,306.1 343.2,305.8 343.6,305.5 344,305.1 344.5,304.8 344.9,304.4 345.4,304.2 345.8,304.1 346.2,304 346.7,304.2 347.1,304.4 347.6,304.7 348,305 348.4,305.4 348.9,305.7 349.3,306 349.8,306.3 350.2,306.5 350.6,306.6 351.1,306.7 351.5,306.8 352,306.8 352.4,306.9 352.9,306.9 353.3,306.9 353.7,306.9 354.2,306.9 354.6,306.9 355.1,306.9 355.5,306.9 355.9,306.9 356.4,306.9 356.8,306.9 357.3,306.9 357.7,306.9 358.1,306.9 358.6,306.9 359,306.9 359.5,306.9 359.9,306.9 360.3,306.9 360.8,306.9 361.2,306.9 361.7,306.9 362.1,306.9" fill="none" stroke="#E8470C" stroke-width="1.4" stroke-linejoin="round"/>
<text x="359.5" y="301.7" font-size="7.85" text-anchor="end"><tspan font-style="italic">ℓ</tspan>2 = 2</text>
<polyline points="419.4,169.4 313.7,169.4 250.3,257 250.3,316.1 356,316.1 419.4,228.5" fill="none" stroke="#1f1f1f" stroke-width="0.8" stroke-linejoin="miter"/>
<line x1="250.3" y1="316.1" x2="250.3" y2="318.4" stroke="#1f1f1f" stroke-width="0.8"/>
<text x="250.3" y="326.4" font-size="8.2" text-anchor="middle" fill="#000">0</text>
<line x1="265.2" y1="316.1" x2="265.2" y2="317.5" stroke="#1f1f1f" stroke-width="0.7"/>
<line x1="280.2" y1="316.1" x2="280.2" y2="318.4" stroke="#1f1f1f" stroke-width="0.8"/>
<text x="280.2" y="326.4" font-size="8.2" text-anchor="middle" fill="#000">1</text>
<line x1="295.1" y1="316.1" x2="295.1" y2="317.5" stroke="#1f1f1f" stroke-width="0.7"/>
<line x1="310.1" y1="316.1" x2="310.1" y2="318.4" stroke="#1f1f1f" stroke-width="0.8"/>
<text x="310.1" y="326.4" font-size="8.2" text-anchor="middle" fill="#000">2</text>
<line x1="325.1" y1="316.1" x2="325.1" y2="317.5" stroke="#1f1f1f" stroke-width="0.7"/>
<line x1="340" y1="316.1" x2="340" y2="318.4" stroke="#1f1f1f" stroke-width="0.8"/>
<text x="340" y="326.4" font-size="8.2" text-anchor="middle" fill="#000">3</text>
<line x1="354.9" y1="316.1" x2="354.9" y2="317.5" stroke="#1f1f1f" stroke-width="0.7"/>
<line x1="248" y1="316.1" x2="250.3" y2="316.1" stroke="#1f1f1f" stroke-width="0.8"/>
<text x="247.1" y="319" font-size="8.2" text-anchor="end" fill="#000">0.0</text>
<line x1="248" y1="286.6" x2="250.3" y2="286.6" stroke="#1f1f1f" stroke-width="0.8"/>
<text x="247.1" y="289.4" font-size="8.2" text-anchor="end" fill="#000">0.5</text>
<line x1="248" y1="257" x2="250.3" y2="257" stroke="#1f1f1f" stroke-width="0.8"/>
<text x="247.1" y="259.9" font-size="8.2" text-anchor="end" fill="#000">1.0</text>
<line x1="248.9" y1="301.3" x2="250.3" y2="301.3" stroke="#1f1f1f" stroke-width="0.7"/>
<line x1="248.9" y1="271.8" x2="250.3" y2="271.8" stroke="#1f1f1f" stroke-width="0.7"/>
<text x="303.1" y="333.5" font-size="7.7" text-anchor="middle" fill="#000">Frequency (Hz)</text>
<text transform="translate(230.7,295.6) rotate(-90)" font-size="7.7" text-anchor="middle">Rel. Power (arb. units)</text>
<line x1="362.1" y1="308.2" x2="364.5" y2="308.2" stroke="#1f1f1f" stroke-width="0.8"/>
<text x="366.7" y="310.8" font-size="7.95" text-anchor="start" fill="#000">v = 5 cm/s</text>
<line x1="372.7" y1="293.6" x2="375.1" y2="293.6" stroke="#1f1f1f" stroke-width="0.8"/>
<text x="377.3" y="296.2" font-size="7.95" text-anchor="start" fill="#000">v = −5 cm/s</text>
<line x1="383.3" y1="279" x2="385.7" y2="279" stroke="#1f1f1f" stroke-width="0.8"/>
<text x="387.9" y="281.6" font-size="7.95" text-anchor="start" fill="#000">v = 5 cm/s</text>
<line x1="393.9" y1="264.4" x2="396.3" y2="264.4" stroke="#1f1f1f" stroke-width="0.8"/>
<text x="398.5" y="267" font-size="7.95" text-anchor="start" fill="#000">v = 10 cm/s</text>
<line x1="404.5" y1="249.8" x2="406.9" y2="249.8" stroke="#1f1f1f" stroke-width="0.8"/>
<text x="409.1" y="252.4" font-size="7.95" text-anchor="start" fill="#000">v = −10 cm/s</text>
<line x1="415.1" y1="235.2" x2="417.5" y2="235.2" stroke="#1f1f1f" stroke-width="0.8"/>
<text x="419.7" y="237.8" font-size="7.95" text-anchor="start" fill="#000">v = 10 cm/s</text>
<text x="237.6" y="183.7" font-size="10.6" text-anchor="start" fill="#000" font-weight="bold">d</text>
<text x="283" y="192.5" font-size="7.95" text-anchor="start" fill="#000">|Δf| = 1.7 Hz</text>
<line x1="336" y1="190" x2="337.7" y2="203" stroke="#7f7f7f" stroke-width="1.2"/>
<polygon points="338.7,210.4 334.8,203.3 340.6,202.6" fill="#7f7f7f" stroke="none" stroke-width="0"/>
<line x1="336" y1="190" x2="342" y2="192.7" stroke="#7f7f7f" stroke-width="1.2"/>
<polygon points="348.8,195.8 340.8,195.4 343.2,190.1" fill="#7f7f7f" stroke="none" stroke-width="0"/>
<line x1="336" y1="190" x2="352.8" y2="184" stroke="#7f7f7f" stroke-width="1.2"/>
<polygon points="359.9,181.5 353.8,186.7 351.8,181.3" fill="#7f7f7f" stroke="none" stroke-width="0"/>
<text x="246" y="221" font-size="7.95" text-anchor="start" fill="#000">|Δf| = 0.9 Hz</text>
<line x1="281" y1="225" x2="280.9" y2="246.6" stroke="#7f7f7f" stroke-width="1.2"/>
<polygon points="280.9,254.1 278,246.6 283.8,246.6" fill="#7f7f7f" stroke="none" stroke-width="0"/>
<line x1="281" y1="225" x2="287.1" y2="233.4" stroke="#7f7f7f" stroke-width="1.2"/>
<polygon points="291.5,239.5 284.7,235.1 289.4,231.7" fill="#7f7f7f" stroke="none" stroke-width="0"/>
<line x1="281" y1="225" x2="294.6" y2="224.9" stroke="#7f7f7f" stroke-width="1.2"/>
<polygon points="302.1,224.9 294.6,227.8 294.6,222" fill="#7f7f7f" stroke="none" stroke-width="0"/>
<polygon points="538.6,228.5 644.3,228.5 644.3,169.4 538.6,169.4" fill="#FFFEE8" stroke="none" stroke-width="0"/>
<polygon points="475.2,316.1 580.9,316.1 644.3,228.5 538.6,228.5" fill="#F5F5F5" stroke="none" stroke-width="0"/>
<clipPath id="w448_168"><rect x="0" y="0" width="685" height="486"/></clipPath>
<g clip-path="url(#w448_168)">
<polygon points="475.2,316.1 475.2,257 538.6,169.4 538.6,228.5" fill="#FEF5F5" stroke="none" stroke-width="0"/>
<polygon points="538.6,228.5 644.3,228.5 644.3,169.4 538.6,169.4" fill="#FDF2E9" stroke="none" stroke-width="0"/>
</g>
<line x1="568.5" y1="228.5" x2="568.5" y2="169.4" stroke="#D9D9D9" stroke-width="0.5"/>
<line x1="505.1" y1="316.1" x2="568.5" y2="228.5" stroke="#D9D9D9" stroke-width="0.5"/>
<line x1="598.4" y1="228.5" x2="598.4" y2="169.4" stroke="#D9D9D9" stroke-width="0.5"/>
<line x1="535" y1="316.1" x2="598.4" y2="228.5" stroke="#D9D9D9" stroke-width="0.5"/>
<line x1="628.3" y1="228.5" x2="628.3" y2="169.4" stroke="#D9D9D9" stroke-width="0.5"/>
<line x1="564.9" y1="316.1" x2="628.3" y2="228.5" stroke="#D9D9D9" stroke-width="0.5"/>
<line x1="538.6" y1="199" x2="644.3" y2="199" stroke="#D9D9D9" stroke-width="0.5"/>
<line x1="475.2" y1="286.6" x2="538.6" y2="199" stroke="#D9D9D9" stroke-width="0.5"/>
<line x1="481.3" y1="308.2" x2="587" y2="308.2" stroke="#D9D9D9" stroke-width="0.5"/>
<line x1="481.3" y1="308.2" x2="481.3" y2="249.1" stroke="#D9D9D9" stroke-width="0.5"/>
<line x1="491.9" y1="293.6" x2="597.6" y2="293.6" stroke="#D9D9D9" stroke-width="0.5"/>
<line x1="491.9" y1="293.6" x2="491.9" y2="234.5" stroke="#D9D9D9" stroke-width="0.5"/>
<line x1="502.5" y1="279" x2="608.2" y2="279" stroke="#D9D9D9" stroke-width="0.5"/>
<line x1="502.5" y1="279" x2="502.5" y2="219.9" stroke="#D9D9D9" stroke-width="0.5"/>
<line x1="513.1" y1="264.4" x2="618.8" y2="264.4" stroke="#D9D9D9" stroke-width="0.5"/>
<line x1="513.1" y1="264.4" x2="513.1" y2="205.3" stroke="#D9D9D9" stroke-width="0.5"/>
<line x1="523.7" y1="249.8" x2="629.4" y2="249.8" stroke="#D9D9D9" stroke-width="0.5"/>
<line x1="523.7" y1="249.8" x2="523.7" y2="190.7" stroke="#D9D9D9" stroke-width="0.5"/>
<line x1="534.3" y1="235.2" x2="640" y2="235.2" stroke="#D9D9D9" stroke-width="0.5"/>
<line x1="534.3" y1="235.2" x2="534.3" y2="176.1" stroke="#D9D9D9" stroke-width="0.5"/>
<line x1="644.3" y1="228.5" x2="644.3" y2="169.4" stroke="#BDBDBD" stroke-width="0.6"/>
<line x1="538.6" y1="228.5" x2="644.3" y2="228.5" stroke="#BDBDBD" stroke-width="0.6"/>
<line x1="538.6" y1="228.5" x2="538.6" y2="169.4" stroke="#BDBDBD" stroke-width="0.6"/>
<line x1="475.2" y1="316.1" x2="538.6" y2="228.5" stroke="#BDBDBD" stroke-width="0.6"/>
<line x1="603" y1="184.6" x2="603" y2="235.2" stroke="#6A1FC2" stroke-width="0.7" stroke-dasharray="1.8 1.9" opacity="0.75"/>
<polyline points="534.3,223.6 534.7,222.7 535.2,221.8 535.6,221 536.1,220.2 536.5,219.6 536.9,219.1 537.4,218.8 537.8,218.7 538.3,218.7 538.7,219 539.1,219.4 539.6,220 540,220.8 540.5,221.6 540.9,222.5 541.3,223.4 541.8,224.2 542.2,225.1 542.7,225.9 543.1,226.6 543.5,227.3 544,227.8 544.4,228.3 544.9,228.7 545.3,229 545.8,229.2 546.2,229.4 546.6,229.5 547.1,229.6 547.5,229.7 548,229.8 548.4,229.8 548.8,229.8 549.3,229.8 549.7,229.9 550.2,229.9 550.6,229.9 551,229.9 551.5,229.9 551.9,229.9 552.4,229.9 552.8,229.8 553.2,229.8 553.7,229.8 554.1,229.7 554.6,229.7 555,229.6 555.4,229.5 555.9,229.4 556.3,229.2 556.8,229 557.2,228.8 557.6,228.5 558.1,228.1 558.5,227.7 559,227.3 559.4,226.8 559.8,226.3 560.3,225.7 560.7,225.1 561.2,224.5 561.6,224 562,223.5 562.5,223 562.9,222.7 563.4,222.4 563.8,222.2 564.2,222.2 564.7,222.3 565.1,222.5 565.6,222.7 566,223.1 566.5,223.6 566.9,224.1 567.3,224.7 567.8,225.2 568.2,225.8 568.7,226.4 569.1,226.9 569.5,227.4 570,227.8 570.4,228.2 570.9,228.5 571.3,228.8 571.7,229.1 572.2,229.2 572.6,229.4 573.1,229.5 573.5,229.6 573.9,229.6 574.4,229.6 574.8,229.6 575.3,229.5 575.7,229.4 576.1,229.2 576.6,228.9 577,228.5 577.5,228 577.9,227.3 578.3,226.5 578.8,225.7 579.2,224.8 579.7,223.8 580.1,223 580.5,222.2 581,221.7 581.4,221.3 581.9,221.3 582.3,221.4 582.7,221.7 583.2,222.2 583.6,222.8 584.1,223.4 584.5,223.9 584.9,224.3 585.4,224.5 585.8,224.6 586.3,224.6 586.7,224.3 587.1,223.9 587.6,223.4 588,222.8 588.5,222 588.9,221.2 589.4,220.3 589.8,219.3 590.2,218.2 590.7,217 591.1,215.8 591.6,214.5 592,213.1 592.4,211.7 592.9,210.2 593.3,208.7 593.8,207.1 594.2,205.5 594.6,203.8 595.1,202.2 595.5,200.5 596,198.9 596.4,197.2 596.8,195.6 597.3,194.1 597.7,192.5 598.2,191.1 598.6,189.7 599,188.4 599.5,187.3 599.9,186.2 600.4,185.3 600.8,184.4 601.2,183.8 601.7,183.3 602.1,182.9 602.6,182.7 603,182.6 603.4,182.7 603.9,183 604.3,183.4 604.8,183.9 605.2,184.6 605.6,185.5 606.1,186.5 606.5,187.5 607,188.8 607.4,190.1 607.8,191.4 608.3,192.9 608.7,194.4 609.2,196 609.6,197.6 610.1,199.3 610.5,200.9 610.9,202.6 611.4,204.2 611.8,205.9 612.3,207.5 612.7,209 613.1,210.6 613.6,212 614,213.4 614.5,214.8 614.9,216.1 615.3,217.3 615.8,218.5 616.2,219.5 616.7,220.5 617.1,221.5 617.5,222.3 618,223.1 618.4,223.9 618.9,224.5 619.3,225.1 619.7,225.6 620.2,226 620.6,226.4 621.1,226.6 621.5,226.8 621.9,226.8 622.4,226.8 622.8,226.7 623.3,226.5 623.7,226.3 624.1,226.1 624.6,225.9 625,225.8 625.5,225.8 625.9,225.8 626.3,226 626.8,226.3 627.2,226.6 627.7,227 628.1,227.5 628.5,227.9 629,228.3 629.4,228.7 629.9,229 630.3,229.2 630.8,229.4 631.2,229.6 631.6,229.7 632.1,229.7 632.5,229.8 633,229.8 633.4,229.8 633.8,229.7 634.3,229.7 634.7,229.6 635.2,229.5 635.6,229.4 636,229.3 636.5,229.2 636.9,229.1 637.4,228.9 637.8,228.8 638.2,228.8 638.7,228.7 639.1,228.7 639.6,228.7 640,228.8" fill="none" stroke="#6A1FC2" stroke-width="1.4" stroke-linejoin="round"/>
<text x="639.3" y="227.8" font-size="7.85" text-anchor="end"><tspan font-style="italic">ℓ</tspan>2 = 0</text>
<polygon points="580.1,233.1 580.5,231.9 581,230.6 581.4,229.3 581.8,228.5 582.3,228.5 582.7,228.5 583.2,228.5 583.6,228.5 584,228.5 584.5,228.5 584.9,228.5 585.4,228.5 585.8,228.5 586.2,228.5 586.7,228.5 587.1,228.5 587.6,228.5 588,228.5 588.4,228.5 588.9,228.5 589.3,228.5 589.8,228.5 590.2,228.5 590.6,228.5 591.1,228.5 591.5,228.5 592,228.5 592.4,228.5 592.8,228.5 593.3,228.5 593.7,228.5 594.2,228.5 594.6,228.5 595,228.5 595.5,228.5 595.9,228.5 596.4,228.5 596.8,228.5 597.2,228.5 597.7,228.5 598.1,228.5 598.6,228.5 599,228.5 599.5,228.5 599.9,228.5 600.3,228.5 600.8,228.5 601.2,228.5 601.7,228.5 602.1,228.5 602.5,228.5 603,228.5 603.4,228.8 603.9,230.2 604.3,231.5 604.7,232.7 604.7,249.8 580.1,249.8" fill="#1E88D8" fill-opacity="0.07"/>
<line x1="592.4" y1="199.2" x2="592.4" y2="249.8" stroke="#3F4FC4" stroke-width="0.7" stroke-dasharray="1.8 1.9" opacity="0.75"/>
<polyline points="523.7,244 524.1,243.7 524.6,243.4 525,243 525.5,242.6 525.9,242.1 526.3,241.5 526.8,240.9 527.2,240.2 527.7,239.5 528.1,238.8 528.5,238.1 529,237.4 529.4,236.9 529.9,236.4 530.3,236.1 530.7,235.9 531.2,235.9 531.6,236.1 532.1,236.3 532.5,236.8 532.9,237.3 533.4,237.9 533.8,238.6 534.3,239.3 534.7,240 535.2,240.7 535.6,241.3 536,241.9 536.5,242.5 536.9,242.9 537.4,243.3 537.8,243.7 538.2,243.9 538.7,244.2 539.1,244.3 539.6,244.4 540,244.5 540.4,244.6 540.9,244.7 541.3,244.7 541.8,244.7 542.2,244.7 542.6,244.8 543.1,244.8 543.5,244.8 544,244.8 544.4,244.8 544.8,244.8 545.3,244.8 545.7,244.7 546.2,244.7 546.6,244.7 547,244.7 547.5,244.6 547.9,244.5 548.4,244.4 548.8,244.3 549.2,244.1 549.7,243.9 550.1,243.6 550.6,243.3 551,242.9 551.4,242.5 551.9,242 552.3,241.5 552.8,241 553.2,240.5 553.6,240 554.1,239.6 554.5,239.3 555,239 555.4,238.9 555.9,238.9 556.3,239 556.7,239.2 557.2,239.5 557.6,239.9 558.1,240.4 558.5,240.9 558.9,241.4 559.4,241.9 559.8,242.3 560.3,242.8 560.7,243.2 561.1,243.5 561.6,243.8 562,244 562.5,244.2 562.9,244.4 563.3,244.5 563.8,244.5 564.2,244.6 564.7,244.6 565.1,244.5 565.5,244.4 566,244.3 566.4,244 566.9,243.7 567.3,243.3 567.7,242.8 568.2,242.2 568.6,241.5 569.1,240.7 569.5,239.9 569.9,239.1 570.4,238.5 570.8,237.9 571.3,237.5 571.7,237.4 572.1,237.4 572.6,237.6 573,237.9 573.5,238.3 573.9,238.8 574.3,239.2 574.8,239.5 575.2,239.7 575.7,239.7 576.1,239.6 576.6,239.4 577,239 577.4,238.4 577.9,237.8 578.3,237 578.8,236.2 579.2,235.2 579.6,234.2 580.1,233.1 580.5,231.9 581,230.6 581.4,229.3 581.8,227.8 582.3,226.4 582.7,224.8 583.2,223.2 583.6,221.6 584,219.9 584.5,218.2 584.9,216.5 585.4,214.8 585.8,213.1 586.2,211.4 586.7,209.7 587.1,208.1 587.6,206.6 588,205.1 588.4,203.8 588.9,202.5 589.3,201.3 589.8,200.3 590.2,199.4 590.6,198.6 591.1,198 591.5,197.6 592,197.3 592.4,197.2 592.8,197.3 593.3,197.5 593.7,197.9 594.2,198.4 594.6,199.1 595,200 595.5,201 595.9,202.1 596.4,203.4 596.8,204.7 597.2,206.2 597.7,207.7 598.1,209.3 598.6,210.9 599,212.6 599.5,214.3 599.9,216 600.3,217.7 600.8,219.4 601.2,221.1 601.7,222.8 602.1,224.4 602.5,225.9 603,227.4 603.4,228.8 603.9,230.2 604.3,231.5 604.7,232.7 605.2,233.9 605.6,235 606.1,236 606.5,236.9 606.9,237.7 607.4,238.5 607.8,239.2 608.3,239.8 608.7,240.4 609.1,240.8 609.6,241.2 610,241.4 610.5,241.6 610.9,241.6 611.3,241.5 611.8,241.3 612.2,241 612.7,240.6 613.1,240.2 613.5,239.8 614,239.4 614.4,239.1 614.9,239 615.3,239.1 615.7,239.3 616.2,239.6 616.6,240.1 617.1,240.7 617.5,241.3 617.9,241.9 618.4,242.5 618.8,243.1 619.3,243.5 619.7,243.9 620.2,244.1 620.6,244.3 621,244.5 621.5,244.6 621.9,244.7 622.4,244.7 622.8,244.7 623.2,244.7 623.7,244.6 624.1,244.6 624.6,244.4 625,244.3 625.4,244 625.9,243.8 626.3,243.4 626.8,243.1 627.2,242.8 627.6,242.6 628.1,242.4 628.5,242.4 629,242.5 629.4,242.7" fill="none" stroke="#3F4FC4" stroke-width="1.4" stroke-linejoin="round"/>
<text x="628.7" y="242.4" font-size="7.85" text-anchor="end"><tspan font-style="italic">ℓ</tspan>2 = 2</text>
<polygon points="569.9,246.8 570.4,245.5 570.8,244.2 571.2,242.7 571.7,241.3 572.1,239.7 572.6,238.1 573,236.5 573.4,234.8 573.9,233.1 574.3,231.4 574.8,229.7 575.2,228.5 575.6,228.5 576.1,228.5 576.5,228.5 577,228.5 577.4,228.5 577.8,228.5 578.3,228.5 578.7,228.5 579.2,228.5 579.6,228.5 580,228.5 580.5,228.5 580.9,228.5 581.4,228.5 581.8,228.5 582.2,228.5 582.7,228.5 583.1,228.5 583.6,228.5 584,228.5 584.4,228.5 584.9,228.5 585.3,228.5 585.8,228.5 586.2,228.5 586.6,228.5 587.1,228.5 587.5,228.5 588,228.5 588.4,228.5 588.9,229.2 589.3,230.9 589.7,232.6 590.2,234.3 590.6,236 591.1,237.6 591.5,239.3 591.9,240.8 592.4,242.3 592.8,243.7 593.3,245.1 593.7,246.4 594.1,247.6 594.1,264.4 569.9,264.4" fill="#1E88D8" fill-opacity="0.07"/>
<line x1="581.8" y1="214.1" x2="581.8" y2="264.4" stroke="#1E88D8" stroke-width="0.7" stroke-dasharray="1.8 1.9" opacity="0.75"/>
<polyline points="513.1,258 513.5,257.6 514,257.1 514.4,256.6 514.9,256 515.3,255.3 515.7,254.7 516.2,254 516.6,253.4 517.1,252.8 517.5,252.3 517.9,251.9 518.4,251.6 518.8,251.4 519.3,251.4 519.7,251.5 520.1,251.8 520.6,252.2 521,252.7 521.5,253.3 521.9,253.9 522.3,254.6 522.8,255.2 523.2,255.9 523.7,256.5 524.1,257 524.6,257.5 525,257.9 525.4,258.3 525.9,258.6 526.3,258.8 526.8,258.9 527.2,259 527.6,259 528.1,258.9 528.5,258.8 529,258.6 529.4,258.3 529.8,257.9 530.3,257.4 530.7,256.8 531.2,256.2 531.6,255.5 532,254.7 532.5,253.9 532.9,253 533.4,252.3 533.8,251.6 534.2,251 534.7,250.6 535.1,250.3 535.6,250.2 536,250.3 536.4,250.6 536.9,251.1 537.3,251.7 537.8,252.4 538.2,253.2 538.6,254 539.1,254.8 539.5,255.6 540,256.3 540.4,257 540.8,257.5 541.3,258 541.7,258.4 542.2,258.7 542.6,259 543,259.2 543.5,259.3 543.9,259.4 544.4,259.4 544.8,259.4 545.3,259.4 545.7,259.3 546.1,259.2 546.6,259.1 547,258.9 547.5,258.6 547.9,258.3 548.3,257.9 548.8,257.4 549.2,256.9 549.7,256.4 550.1,255.8 550.5,255.1 551,254.5 551.4,254 551.9,253.5 552.3,253.1 552.7,252.8 553.2,252.6 553.6,252.6 554.1,252.7 554.5,252.9 554.9,253.3 555.4,253.7 555.8,254.3 556.3,254.8 556.7,255.4 557.1,256 557.6,256.5 558,257 558.5,257.4 558.9,257.8 559.3,258.1 559.8,258.2 560.2,258.4 560.7,258.4 561.1,258.4 561.5,258.3 562,258.2 562.4,258.1 562.9,257.8 563.3,257.6 563.7,257.3 564.2,256.9 564.6,256.5 565.1,256.1 565.5,255.5 566,255 566.4,254.3 566.8,253.6 567.3,252.9 567.7,252 568.2,251.1 568.6,250.2 569,249.1 569.5,248 569.9,246.8 570.4,245.5 570.8,244.2 571.2,242.7 571.7,241.3 572.1,239.7 572.6,238.1 573,236.5 573.4,234.8 573.9,233.1 574.3,231.4 574.8,229.7 575.2,228 575.6,226.3 576.1,224.6 576.5,223 577,221.5 577.4,220 577.8,218.6 578.3,217.4 578.7,216.2 579.2,215.2 579.6,214.3 580,213.5 580.5,212.9 580.9,212.5 581.4,212.2 581.8,212.1 582.2,212.2 582.7,212.4 583.1,212.8 583.6,213.3 584,214 584.4,214.9 584.9,215.9 585.3,217 585.8,218.3 586.2,219.6 586.6,221.1 587.1,222.6 587.5,224.2 588,225.8 588.4,227.5 588.9,229.2 589.3,230.9 589.7,232.6 590.2,234.3 590.6,236 591.1,237.6 591.5,239.3 591.9,240.8 592.4,242.3 592.8,243.7 593.3,245.1 593.7,246.4 594.1,247.6 594.6,248.8 595,249.9 595.5,250.9 595.9,251.8 596.3,252.6 596.8,253.4 597.2,254.1 597.7,254.8 598.1,255.4 598.5,255.9 599,256.3 599.4,256.7 599.9,257 600.3,257.2 600.7,257.3 601.2,257.3 601.6,257.2 602.1,257 602.5,256.7 602.9,256.3 603.4,255.8 603.8,255.3 604.3,254.9 604.7,254.5 605.1,254.2 605.6,254.1 606,254.1 606.5,254.4 606.9,254.8 607.3,255.3 607.8,255.8 608.2,256.5 608.7,257.1 609.1,257.6 609.6,258.1 610,258.5 610.4,258.9 610.9,259.1 611.3,259.3 611.8,259.4 612.2,259.5 612.6,259.5 613.1,259.5 613.5,259.4 614,259.3 614.4,259.2 614.8,258.9 615.3,258.7 615.7,258.3 616.2,258 616.6,257.7 617,257.5 617.5,257.3 617.9,257.3 618.4,257.4 618.8,257.6" fill="none" stroke="#1E88D8" stroke-width="1.4" stroke-linejoin="round"/>
<text x="618.1" y="257" font-size="7.85" text-anchor="end"><tspan font-style="italic">ℓ</tspan>2 = 2</text>
<line x1="536.9" y1="227.3" x2="536.9" y2="279" stroke="#FFB700" stroke-width="0.7" stroke-dasharray="1.8 1.9" opacity="0.75"/>
<polyline points="502.5,277.3 502.9,277.3 503.4,277.2 503.8,277.1 504.3,276.8 504.7,276.3 505.1,275.5 505.6,274.4 506,273 506.5,271.6 506.9,270.2 507.3,269.3 507.8,269.1 508.2,269.6 508.7,270.6 509.1,272 509.5,273.5 510,274.8 510.4,275.8 510.9,276.5 511.3,276.9 511.7,277.1 512.2,277.2 512.6,277.2 513.1,277.2 513.5,277 514,276.6 514.4,276 514.8,275.1 515.3,274 515.7,272.7 516.2,271.5 516.6,270.5 517,270.1 517.5,270.4 517.9,271.1 518.4,272.3 518.8,273.6 519.2,274.8 519.7,275.8 520.1,276.4 520.6,276.9 521,277.1 521.4,277.2 521.9,277.2 522.3,277.1 522.8,276.8 523.2,276.3 523.6,275.6 524.1,274.4 524.5,273 525,271.5 525.4,270 525.8,269 526.3,268.6 526.7,269 527.2,270 527.6,271.2 528,272.2 528.5,272.6 528.9,272 529.4,270.1 529.8,267 530.2,262.6 530.7,257.5 531.1,251.9 531.6,246.3 532,241.2 532.4,236.7 532.9,233 533.3,230.2 533.8,228.2 534.2,226.9 534.7,226.1 535.1,225.6 535.5,225.4 536,225.4 536.4,225.3 536.9,225.3 537.3,225.3 537.7,225.4 538.2,225.5 538.6,225.8 539.1,226.3 539.5,227.3 539.9,228.9 540.4,231.2 540.8,234.4 541.3,238.4 541.7,243.1 542.1,248.5 542.6,254.2 543,259.7 543.5,264.7 543.9,268.8 544.3,271.8 544.8,273.4 545.2,273.8 545.7,273.1 546.1,271.6 546.5,270 547,268.7 547.4,268.4 547.9,269 548.3,270.5 548.7,272.4 549.2,274.1 549.6,275.5 550.1,276.4 550.5,276.9 550.9,277.2 551.4,277.3 551.8,277.3 552.3,277.3 552.7,277.3 553.1,277.1 553.6,276.9 554,276.4 554.5,275.6 554.9,274.6 555.4,273.4 555.8,272.5 556.2,272 556.7,272.1 557.1,272.8 557.6,273.9 558,275 558.4,275.9 558.9,276.6 559.3,277 559.8,277.1 560.2,277.1 560.6,276.9 561.1,276.5 561.5,275.9 562,275 562.4,274 562.8,273.1 563.3,272.7 563.7,272.7 564.2,273.3 564.6,274.2 565,275.2 565.5,276 565.9,276.6 566.4,277 566.8,277.2 567.2,277.3 567.7,277.3 568.1,277.3 568.6,277.3 569,277.2 569.4,277.1 569.9,276.9 570.3,276.6 570.8,276.3 571.2,275.9 571.6,275.5 572.1,275.2 572.5,274.9 573,274.8 573.4,274.9 573.8,275.1 574.3,275.4 574.7,275.8 575.2,276.2 575.6,276.6 576,276.8 576.5,277 576.9,277.2 577.4,277.3 577.8,277.3 578.3,277.3 578.7,277.3 579.1,277.3 579.6,277.3 580,277.3 580.5,277.3 580.9,277.3 581.3,277.2 581.8,277.2 582.2,277.1 582.7,276.9 583.1,276.8 583.5,276.5 584,276.3 584.4,276 584.9,275.8 585.3,275.5 585.7,275.4 586.2,275.3 586.6,275.3 587.1,275.3 587.5,275.5 587.9,275.7 588.4,276 588.8,276.2 589.3,276.5 589.7,276.7 590.1,276.9 590.6,277 591,277.1 591.5,277.2 591.9,277.3 592.3,277.3 592.8,277.3 593.2,277.3 593.7,277.3 594.1,277.3 594.5,277.3 595,277.3 595.4,277.3 595.9,277.3 596.3,277.3 596.7,277.3 597.2,277.3 597.6,277.3 598.1,277.3 598.5,277.3 599,277.3 599.4,277.3 599.8,277.3 600.3,277.3 600.7,277.3 601.2,277.2 601.6,277.1 602,276.8 602.5,276.4 602.9,275.9 603.4,275.4 603.8,274.9 604.2,274.8 604.7,274.9 605.1,275.3 605.6,275.8 606,276.3 606.4,276.7 606.9,277 607.3,277.2 607.8,277.3 608.2,277.3" fill="none" stroke="#FFB700" stroke-width="1.4" stroke-linejoin="round"/>
<text x="607.5" y="271.6" font-size="7.85" text-anchor="end"><tspan font-style="italic">ℓ</tspan>2 = 0</text>
<line x1="526.3" y1="241.9" x2="526.3" y2="293.6" stroke="#F28A00" stroke-width="0.7" stroke-dasharray="1.8 1.9" opacity="0.75"/>
<polyline points="491.9,291.9 492.3,291.9 492.8,291.8 493.2,291.6 493.7,291.2 494.1,290.6 494.5,289.8 495,288.7 495.4,287.5 495.9,286.4 496.3,285.6 496.7,285.4 497.2,285.6 497.6,286.4 498.1,287.5 498.5,288.7 498.9,289.7 499.4,290.6 499.8,291.2 500.3,291.6 500.7,291.8 501.1,291.9 501.6,291.9 502,291.9 502.5,291.8 502.9,291.7 503.4,291.5 503.8,291.1 504.2,290.5 504.7,289.6 505.1,288.5 505.6,287.2 506,286.2 506.4,285.4 506.9,285.2 507.3,285.6 507.8,286.5 508.2,287.6 508.6,288.8 509.1,289.9 509.5,290.7 510,291.2 510.4,291.6 510.8,291.8 511.3,291.8 511.7,291.8 512.2,291.7 512.6,291.4 513,290.9 513.5,290.1 513.9,289.1 514.4,287.8 514.8,286.5 515.2,285.3 515.7,284.5 516.1,284.4 516.6,284.8 517,285.6 517.4,286.4 517.9,286.8 518.3,286.2 518.8,284.4 519.2,281.4 519.6,277.1 520.1,272 520.5,266.5 521,260.9 521.4,255.8 521.8,251.3 522.3,247.6 522.7,244.8 523.2,242.8 523.6,241.5 524.1,240.7 524.5,240.2 524.9,240 525.4,240 525.8,239.9 526.3,239.9 526.7,239.9 527.1,240 527.6,240.1 528,240.4 528.5,240.9 528.9,241.9 529.3,243.5 529.8,245.8 530.2,249 530.7,253 531.1,257.7 531.5,263.1 532,268.8 532.4,274.3 532.9,279.3 533.3,283.5 533.7,286.5 534.2,288.3 534.6,288.8 535.1,288.3 535.5,287.1 535.9,285.5 536.4,284.1 536.8,283.5 537.3,283.9 537.7,285.1 538.1,286.8 538.6,288.5 539,289.9 539.5,290.9 539.9,291.4 540.3,291.7 540.8,291.9 541.2,291.9 541.7,291.9 542.1,291.9 542.5,291.9 543,291.8 543.4,291.5 543.9,291.1 544.3,290.5 544.8,289.6 545.2,288.7 545.6,287.9 546.1,287.4 546.5,287.5 547,288.1 547.4,288.9 547.8,289.9 548.3,290.7 548.7,291.2 549.2,291.5 549.6,291.6 550,291.4 550.5,291 550.9,290.3 551.4,289.6 551.8,288.9 552.2,288.4 552.7,288.4 553.1,288.7 553.6,289.3 554,290.1 554.4,290.8 554.9,291.3 555.3,291.6 555.8,291.8 556.2,291.9 556.6,291.9 557.1,291.9 557.5,291.9 558,291.9 558.4,291.8 558.8,291.7 559.3,291.5 559.7,291.2 560.2,290.8 560.6,290.4 561,289.9 561.5,289.5 561.9,289.2 562.4,289.1 562.8,289.2 563.2,289.4 563.7,289.8 564.1,290.2 564.6,290.6 565,291 565.4,291.4 565.9,291.6 566.3,291.7 566.8,291.8 567.2,291.9 567.7,291.9 568.1,291.9 568.5,291.9 569,291.9 569.4,291.9 569.9,291.9 570.3,291.8 570.7,291.7 571.2,291.7 571.6,291.5 572.1,291.4 572.5,291.2 572.9,291 573.4,290.8 573.8,290.6 574.3,290.5 574.7,290.4 575.1,290.4 575.6,290.4 576,290.5 576.5,290.7 576.9,290.9 577.3,291.1 577.8,291.3 578.2,291.4 578.7,291.6 579.1,291.7 579.5,291.8 580,291.8 580.4,291.9 580.9,291.9 581.3,291.9 581.7,291.9 582.2,291.9 582.6,291.9 583.1,291.9 583.5,291.9 583.9,291.9 584.4,291.9 584.8,291.9 585.3,291.9 585.7,291.9 586.1,291.9 586.6,291.9 587,291.9 587.5,291.9 587.9,291.9 588.4,291.9 588.8,291.9 589.2,291.9 589.7,291.9 590.1,291.9 590.6,291.8 591,291.7 591.4,291.4 591.9,291 592.3,290.5 592.8,289.9 593.2,289.5 593.6,289.4 594.1,289.5 594.5,289.9 595,290.5 595.4,291 595.8,291.4 596.3,291.7 596.7,291.8 597.2,291.9 597.6,291.9" fill="none" stroke="#F28A00" stroke-width="1.4" stroke-linejoin="round"/>
<text x="596.9" y="286.2" font-size="7.85" text-anchor="end"><tspan font-style="italic">ℓ</tspan>2 = 2</text>
<line x1="515.7" y1="256.5" x2="515.7" y2="308.2" stroke="#E8470C" stroke-width="0.7" stroke-dasharray="1.8 1.9" opacity="0.75"/>
<polyline points="481.3,306.5 481.7,306.5 482.2,306.4 482.6,306.2 483.1,305.9 483.5,305.3 483.9,304.5 484.4,303.3 484.8,301.9 485.3,300.4 485.7,299.1 486.1,298.4 486.6,298.3 487,299 487.5,300.2 487.9,301.6 488.3,303.1 488.8,304.3 489.2,305.2 489.7,305.8 490.1,306.2 490.5,306.4 491,306.4 491.4,306.4 491.9,306.2 492.3,305.9 492.8,305.4 493.2,304.7 493.6,303.7 494.1,302.6 494.5,301.4 495,300.5 495.4,300.1 495.8,300.1 496.3,300.8 496.7,301.8 497.2,302.9 497.6,304.1 498,305 498.5,305.6 498.9,306.1 499.4,306.3 499.8,306.4 500.2,306.5 500.7,306.5 501.1,306.4 501.6,306.2 502,305.9 502.4,305.3 502.9,304.3 503.3,303 503.8,301.3 504.2,299.6 504.6,298 505.1,297 505.5,296.7 506,297.2 506.4,298.3 506.8,299.4 507.3,300.2 507.7,300 508.2,298.5 508.6,295.7 509,291.6 509.5,286.5 509.9,281 510.4,275.5 510.8,270.4 511.2,265.9 511.7,262.2 512.1,259.4 512.6,257.4 513,256.1 513.5,255.3 513.9,254.8 514.3,254.6 514.8,254.6 515.2,254.5 515.7,254.5 516.1,254.5 516.5,254.6 517,254.7 517.4,255 517.9,255.5 518.3,256.5 518.7,258.1 519.2,260.4 519.6,263.6 520.1,267.6 520.5,272.3 520.9,277.7 521.4,283.4 521.8,288.9 522.3,294 522.7,298.1 523.1,301.1 523.6,303 524,303.5 524.5,303.1 524.9,301.8 525.3,300.1 525.8,298.6 526.2,297.8 526.7,298 527.1,299.1 527.5,300.8 528,302.6 528.4,304.2 528.9,305.3 529.3,305.9 529.7,306.3 530.2,306.4 530.6,306.5 531.1,306.4 531.5,306.3 531.9,306 532.4,305.4 532.8,304.6 533.3,303.6 533.7,302.6 534.1,301.9 534.6,301.7 535,302 535.5,302.8 535.9,303.8 536.4,304.7 536.8,305.5 537.2,306 537.7,306.3 538.1,306.4 538.6,306.4 539,306.2 539.4,305.9 539.9,305.4 540.3,304.7 540.8,303.8 541.2,303 541.6,302.4 542.1,302.3 542.5,302.7 543,303.5 543.4,304.4 543.8,305.2 544.3,305.8 544.7,306.2 545.2,306.4 545.6,306.5 546,306.5 546.5,306.5 546.9,306.5 547.4,306.5 547.8,306.4 548.2,306.3 548.7,306 549.1,305.7 549.6,305.3 550,304.8 550.4,304.3 550.9,303.8 551.3,303.4 551.8,303.2 552.2,303.2 552.6,303.4 553.1,303.8 553.5,304.3 554,304.8 554.4,305.3 554.8,305.7 555.3,306 555.7,306.2 556.2,306.4 556.6,306.5 557.1,306.5 557.5,306.5 557.9,306.5 558.4,306.5 558.8,306.5 559.3,306.5 559.7,306.5 560.1,306.4 560.6,306.3 561,306.2 561.5,306.1 561.9,305.9 562.3,305.6 562.8,305.4 563.2,305.1 563.7,304.9 564.1,304.7 564.5,304.6 565,304.5 565.4,304.5 565.9,304.6 566.3,304.8 566.7,305.1 567.2,305.3 567.6,305.6 568.1,305.8 568.5,306 568.9,306.2 569.4,306.3 569.8,306.4 570.3,306.4 570.7,306.5 571.1,306.5 571.6,306.5 572,306.5 572.5,306.5 572.9,306.5 573.3,306.5 573.8,306.5 574.2,306.5 574.7,306.5 575.1,306.5 575.5,306.5 576,306.5 576.4,306.5 576.9,306.5 577.3,306.5 577.8,306.5 578.2,306.5 578.6,306.5 579.1,306.5 579.5,306.5 580,306.4 580.4,306.2 580.8,305.9 581.3,305.5 581.7,305 582.2,304.7 582.6,304.4 583,304.5 583.5,304.7 583.9,305.2 584.4,305.6 584.8,306 585.2,306.2 585.7,306.4 586.1,306.5 586.6,306.5 587,306.5" fill="none" stroke="#E8470C" stroke-width="1.4" stroke-linejoin="round"/>
<text x="586.3" y="300.8" font-size="7.85" text-anchor="end"><tspan font-style="italic">ℓ</tspan>2 = 2</text>
<polyline points="644.3,169.4 538.6,169.4 475.2,257 475.2,316.1 580.9,316.1 644.3,228.5" fill="none" stroke="#1f1f1f" stroke-width="0.8" stroke-linejoin="miter"/>
<line x1="475.2" y1="316.1" x2="475.2" y2="318.4" stroke="#1f1f1f" stroke-width="0.8"/>
<text x="475.2" y="326.4" font-size="8.2" text-anchor="middle" fill="#000">0</text>
<line x1="490.1" y1="316.1" x2="490.1" y2="317.5" stroke="#1f1f1f" stroke-width="0.7"/>
<line x1="505.1" y1="316.1" x2="505.1" y2="318.4" stroke="#1f1f1f" stroke-width="0.8"/>
<text x="505.1" y="326.4" font-size="8.2" text-anchor="middle" fill="#000">1</text>
<line x1="520" y1="316.1" x2="520" y2="317.5" stroke="#1f1f1f" stroke-width="0.7"/>
<line x1="535" y1="316.1" x2="535" y2="318.4" stroke="#1f1f1f" stroke-width="0.8"/>
<text x="535" y="326.4" font-size="8.2" text-anchor="middle" fill="#000">2</text>
<line x1="550" y1="316.1" x2="550" y2="317.5" stroke="#1f1f1f" stroke-width="0.7"/>
<line x1="564.9" y1="316.1" x2="564.9" y2="318.4" stroke="#1f1f1f" stroke-width="0.8"/>
<text x="564.9" y="326.4" font-size="8.2" text-anchor="middle" fill="#000">3</text>
<line x1="579.9" y1="316.1" x2="579.9" y2="317.5" stroke="#1f1f1f" stroke-width="0.7"/>
<line x1="472.9" y1="316.1" x2="475.2" y2="316.1" stroke="#1f1f1f" stroke-width="0.8"/>
<text x="472" y="319" font-size="8.2" text-anchor="end" fill="#000">0.0</text>
<line x1="472.9" y1="286.6" x2="475.2" y2="286.6" stroke="#1f1f1f" stroke-width="0.8"/>
<text x="472" y="289.4" font-size="8.2" text-anchor="end" fill="#000">0.5</text>
<line x1="472.9" y1="257" x2="475.2" y2="257" stroke="#1f1f1f" stroke-width="0.8"/>
<text x="472" y="259.9" font-size="8.2" text-anchor="end" fill="#000">1.0</text>
<line x1="473.8" y1="301.3" x2="475.2" y2="301.3" stroke="#1f1f1f" stroke-width="0.7"/>
<line x1="473.8" y1="271.8" x2="475.2" y2="271.8" stroke="#1f1f1f" stroke-width="0.7"/>
<text x="528" y="333.5" font-size="7.7" text-anchor="middle" fill="#000">Frequency (Hz)</text>
<text transform="translate(455.6,295.6) rotate(-90)" font-size="7.7" text-anchor="middle">Rel. Power (arb. units)</text>
<line x1="587" y1="308.2" x2="589.4" y2="308.2" stroke="#1f1f1f" stroke-width="0.8"/>
<text x="591.6" y="310.8" font-size="7.95" text-anchor="start" fill="#000">v = 5 cm/s</text>
<line x1="597.6" y1="293.6" x2="600" y2="293.6" stroke="#1f1f1f" stroke-width="0.8"/>
<text x="602.2" y="296.2" font-size="7.95" text-anchor="start" fill="#000">v = −5 cm/s</text>
<line x1="608.2" y1="279" x2="610.6" y2="279" stroke="#1f1f1f" stroke-width="0.8"/>
<text x="612.8" y="281.6" font-size="7.95" text-anchor="start" fill="#000">v = 5 cm/s</text>
<line x1="618.8" y1="264.4" x2="621.2" y2="264.4" stroke="#1f1f1f" stroke-width="0.8"/>
<text x="623.4" y="267" font-size="7.95" text-anchor="start" fill="#000">v = 10 cm/s</text>
<line x1="629.4" y1="249.8" x2="631.8" y2="249.8" stroke="#1f1f1f" stroke-width="0.8"/>
<text x="634" y="252.4" font-size="7.95" text-anchor="start" fill="#000">v = −10 cm/s</text>
<line x1="640" y1="235.2" x2="642.4" y2="235.2" stroke="#1f1f1f" stroke-width="0.8"/>
<text x="644.6" y="237.8" font-size="7.95" text-anchor="start" fill="#000">v = 10 cm/s</text>
<text x="460.1" y="183.7" font-size="10.6" text-anchor="start" fill="#000" font-weight="bold">f</text>
<text x="510" y="196" font-size="7.95" text-anchor="start" fill="#000">|Δf| = 2.3 Hz</text>
<line x1="562" y1="191" x2="575.4" y2="206.7" stroke="#7f7f7f" stroke-width="1.2"/>
<polygon points="580.3,212.4 573.2,208.6 577.6,204.8" fill="#7f7f7f" stroke="none" stroke-width="0"/>
<line x1="562" y1="191" x2="583.6" y2="195.9" stroke="#7f7f7f" stroke-width="1.2"/>
<polygon points="590.9,197.5 583,198.7 584.2,193" fill="#7f7f7f" stroke="none" stroke-width="0"/>
<line x1="562" y1="191" x2="594.2" y2="184.4" stroke="#7f7f7f" stroke-width="1.2"/>
<polygon points="601.5,182.9 594.7,187.2 593.6,181.6" fill="#7f7f7f" stroke="none" stroke-width="0"/>
<text x="468" y="221.5" font-size="7.95" text-anchor="start" fill="#000">|Δf| = 1.2 Hz</text>
<line x1="510" y1="224" x2="513.2" y2="247.4" stroke="#7f7f7f" stroke-width="1.2"/>
<polygon points="514.2,254.8 510.3,247.8 516,247" fill="#7f7f7f" stroke="none" stroke-width="0"/>
<line x1="510" y1="224" x2="519.7" y2="234.7" stroke="#7f7f7f" stroke-width="1.2"/>
<polygon points="524.8,240.2 517.6,236.6 521.9,232.7" fill="#7f7f7f" stroke="none" stroke-width="0"/>
<line x1="510" y1="224" x2="527.9" y2="225.2" stroke="#7f7f7f" stroke-width="1.2"/>
<polygon points="535.4,225.6 527.7,228 528.1,222.3" fill="#7f7f7f" stroke="none" stroke-width="0"/>
<rect x="0" y="336.7" width="673" height="149.3" fill="#DFDFDF"/>
<defs><radialGradient id="rg" cx="0.5" cy="0.5" r="0.5">
<stop offset="0.0000" stop-color="#4a4a4a"/>
<stop offset="0.0400" stop-color="#767676"/>
<stop offset="0.0933" stop-color="#b0b0b0"/>
<stop offset="0.1200" stop-color="#8a8a8a"/>
<stop offset="0.1533" stop-color="#3c3c3c"/>
<stop offset="0.1867" stop-color="#141414"/>
<stop offset="0.2200" stop-color="#3a3a3a"/>
<stop offset="0.2467" stop-color="#545454"/>
<stop offset="0.2733" stop-color="#525252"/>
<stop offset="0.3067" stop-color="#222"/>
<stop offset="0.3333" stop-color="#090909"/>
<stop offset="0.3667" stop-color="#1e1e1e"/>
<stop offset="0.3967" stop-color="#2f2f2f"/>
<stop offset="0.4267" stop-color="#1c1c1c"/>
<stop offset="0.4600" stop-color="#070707"/>
<stop offset="0.5067" stop-color="#050505"/>
<stop offset="0.5467" stop-color="#161616"/>
<stop offset="0.5733" stop-color="#1a1a1a"/>
<stop offset="0.6067" stop-color="#0a0a0a"/>
<stop offset="0.6400" stop-color="#040404"/>
<stop offset="0.6933" stop-color="#040404"/>
<stop offset="0.7300" stop-color="#101010"/>
<stop offset="0.7567" stop-color="#121212"/>
<stop offset="0.7900" stop-color="#060606"/>
<stop offset="0.8200" stop-color="#020202"/>
<stop offset="0.8600" stop-color="#020202"/>
<stop offset="0.8933" stop-color="#0b0b0b"/>
<stop offset="0.9167" stop-color="#0c0c0c"/>
<stop offset="0.9533" stop-color="#040404"/>
<stop offset="1.0000" stop-color="#000"/>
</radialGradient><filter id="bl" x="-5%" y="-5%" width="110%" height="110%"><feGaussianBlur stdDeviation="0.45"/></filter></defs>
<rect x="5.1" y="342" width="14.3" height="12" fill="#000"/>
<text x="12.2" y="351.5" font-size="11" text-anchor="middle" fill="#fff" font-weight="bold">g</text>
<rect x="5.2" y="354.0" width="14.6" height="113.8" fill="#fff"/>
<rect x="5.1" y="468.4" width="15.9" height="11.9" fill="#000"/>
<text transform="translate(15.5,454.8) rotate(-90)" font-size="9.2" font-weight="bold"><tspan font-style="italic">ℓ</tspan><tspan font-size="6.6" dy="0.8">2</tspan><tspan dy="-0.8"> = 2;</tspan></text>
<text transform="translate(15.5,419.7) rotate(-90)" font-size="9.2" font-weight="bold"><tspan font-style="italic">α</tspan><tspan font-size="6.6" dy="0.8">2</tspan><tspan dy="-0.8"> = 0.0025</tspan></text>
<rect x="21.4" y="342" width="321.8" height="10.9" fill="#000"/>
<rect x="21.4" y="354.9" width="321.8" height="61.5" fill="#000"/>
<rect x="21.4" y="418.3" width="321.8" height="62" fill="#000"/>
<clipPath id="cl00"><rect x="21.4" y="354.9" width="321.8" height="61.5"/></clipPath>
<clipPath id="cl01"><rect x="21.4" y="418.3" width="321.8" height="62"/></clipPath>
<text x="48.4" y="350.9" font-size="8.1" text-anchor="middle" fill="#fff">0 s</text>
<text x="102" y="350.9" font-size="8.1" text-anchor="middle" fill="#fff">0.3 s</text>
<text x="155.6" y="350.9" font-size="8.1" text-anchor="middle" fill="#fff">0.6 s</text>
<text x="209.2" y="350.9" font-size="8.1" text-anchor="middle" fill="#fff">0.9 s</text>
<text x="262.8" y="350.9" font-size="8.1" text-anchor="middle" fill="#fff">1.2 s</text>
<text x="316.4" y="350.9" font-size="8.1" text-anchor="middle" fill="#fff">1.5 s</text>
<g clip-path="url(#cl00)">
<circle cx="48.4" cy="380.7" r="30" fill="url(#rg)" filter="url(#bl)"/>
<circle cx="102" cy="380.7" r="30" fill="url(#rg)" filter="url(#bl)"/>
<circle cx="155.6" cy="380.7" r="30" fill="url(#rg)" filter="url(#bl)"/>
<circle cx="209.2" cy="380.7" r="30" fill="url(#rg)" filter="url(#bl)"/>
<circle cx="262.8" cy="380.7" r="30" fill="url(#rg)" filter="url(#bl)"/>
<circle cx="316.4" cy="380.7" r="30" fill="url(#rg)" filter="url(#bl)"/>
</g>
<line x1="47.2" y1="398.4" x2="48.9" y2="372.8" stroke="#D6D6D6" stroke-width="1.3" stroke-dasharray="3.4 1.5"/>
<polygon points="49.5,363.3 53,373 44.8,372.5" fill="#D0D0D0" stroke="none" stroke-width="0"/>
<line x1="92.2" y1="395.6" x2="107.8" y2="373.8" stroke="#D6D6D6" stroke-width="1.3" stroke-dasharray="3.4 1.5"/>
<polygon points="113.3,366.1 111.1,376.2 104.4,371.4" fill="#D0D0D0" stroke="none" stroke-width="0"/>
<line x1="140.1" y1="387.4" x2="165.2" y2="377.4" stroke="#D6D6D6" stroke-width="1.3" stroke-dasharray="3.4 1.5"/>
<polygon points="174,373.9 166.7,381.2 163.7,373.6" fill="#D0D0D0" stroke="none" stroke-width="0"/>
<line x1="192.2" y1="377.4" x2="219" y2="382.2" stroke="#D6D6D6" stroke-width="1.3" stroke-dasharray="3.4 1.5"/>
<polygon points="228.4,383.9 218.3,386.3 219.8,378.2" fill="#D0D0D0" stroke="none" stroke-width="0"/>
<line x1="249.9" y1="369.9" x2="270.5" y2="386.2" stroke="#D6D6D6" stroke-width="1.3" stroke-dasharray="3.4 1.5"/>
<polygon points="277.9,392.1 267.9,389.4 273,383" fill="#D0D0D0" stroke="none" stroke-width="0"/>
<line x1="310.2" y1="364" x2="320" y2="388.4" stroke="#D6D6D6" stroke-width="1.3" stroke-dasharray="3.4 1.5"/>
<polygon points="323.5,397.2 316.2,389.9 323.8,386.9" fill="#D0D0D0" stroke="none" stroke-width="0"/>
<text x="34.4" y="411.9" font-size="8.8" text-anchor="start" fill="#fff" font-weight="bold">g1</text>
<text x="129.5" y="411.9" font-size="7.75" text-anchor="middle" fill="#fff">v = 5 cm/s</text>
<text x="263.1" y="411.9" font-size="7.95" text-anchor="middle" fill="#fff">Clockwise Rotating</text>
<g clip-path="url(#cl01)">
<circle cx="48.4" cy="444.5" r="30" fill="url(#rg)" filter="url(#bl)"/>
<circle cx="102" cy="444.5" r="30" fill="url(#rg)" filter="url(#bl)"/>
<circle cx="155.6" cy="444.5" r="30" fill="url(#rg)" filter="url(#bl)"/>
<circle cx="209.2" cy="444.5" r="30" fill="url(#rg)" filter="url(#bl)"/>
<circle cx="262.8" cy="444.5" r="30" fill="url(#rg)" filter="url(#bl)"/>
<circle cx="316.4" cy="444.5" r="30" fill="url(#rg)" filter="url(#bl)"/>
</g>
<line x1="39.7" y1="459.6" x2="52.5" y2="436.8" stroke="#D6D6D6" stroke-width="1.3" stroke-dasharray="3.4 1.5"/>
<polygon points="57.2,428.5 56.1,438.8 49,434.8" fill="#D0D0D0" stroke="none" stroke-width="0"/>
<line x1="102.3" y1="461.2" x2="101.8" y2="436.4" stroke="#D6D6D6" stroke-width="1.3" stroke-dasharray="3.4 1.5"/>
<polygon points="101.6,426.9 105.9,436.3 97.7,436.5" fill="#D0D0D0" stroke="none" stroke-width="0"/>
<line x1="167" y1="458.9" x2="151.5" y2="437" stroke="#D6D6D6" stroke-width="1.3" stroke-dasharray="3.4 1.5"/>
<polygon points="146,429.2 154.8,434.6 148.1,439.3" fill="#D0D0D0" stroke="none" stroke-width="0"/>
<line x1="226.6" y1="451.4" x2="202.5" y2="440.6" stroke="#D6D6D6" stroke-width="1.3" stroke-dasharray="3.4 1.5"/>
<polygon points="193.8,436.7 204.1,436.8 200.8,444.3" fill="#D0D0D0" stroke="none" stroke-width="0"/>
<line x1="281" y1="441.4" x2="255.3" y2="445.7" stroke="#D6D6D6" stroke-width="1.3" stroke-dasharray="3.4 1.5"/>
<polygon points="245.9,447.2 254.6,441.6 255.9,449.7" fill="#D0D0D0" stroke="none" stroke-width="0"/>
<line x1="330.5" y1="434.8" x2="308.6" y2="450" stroke="#D6D6D6" stroke-width="1.3" stroke-dasharray="3.4 1.5"/>
<polygon points="300.8,455.4 306.3,446.6 310.9,453.4" fill="#D0D0D0" stroke="none" stroke-width="0"/>
<text x="34.4" y="475.9" font-size="8.8" text-anchor="start" fill="#fff" font-weight="bold">g2</text>
<text x="129.5" y="475.9" font-size="7.75" text-anchor="middle" fill="#fff">v = −5 cm/s</text>
<text x="263.1" y="475.9" font-size="7.95" text-anchor="middle" fill="#fff">Anticlockwise Rotating</text>
<rect x="345.5" y="342" width="321.7" height="10.9" fill="#000"/>
<rect x="345.5" y="354.9" width="321.7" height="61.5" fill="#000"/>
<rect x="345.5" y="418.3" width="321.7" height="62" fill="#000"/>
<clipPath id="cl10"><rect x="345.5" y="354.9" width="321.7" height="61.5"/></clipPath>
<clipPath id="cl11"><rect x="345.5" y="418.3" width="321.7" height="62"/></clipPath>
<text x="372.4" y="350.9" font-size="8.1" text-anchor="middle" fill="#fff">0 s</text>
<text x="426.2" y="350.9" font-size="8.1" text-anchor="middle" fill="#fff">0.3 s</text>
<text x="480" y="350.9" font-size="8.1" text-anchor="middle" fill="#fff">0.6 s</text>
<text x="533.8" y="350.9" font-size="8.1" text-anchor="middle" fill="#fff">0.9 s</text>
<text x="587.6" y="350.9" font-size="8.1" text-anchor="middle" fill="#fff">1.2 s</text>
<text x="641.4" y="350.9" font-size="8.1" text-anchor="middle" fill="#fff">1.5 s</text>
<g clip-path="url(#cl10)">
<circle cx="372.4" cy="380.7" r="30" fill="url(#rg)" filter="url(#bl)"/>
<circle cx="426.2" cy="380.7" r="30" fill="url(#rg)" filter="url(#bl)"/>
<circle cx="480" cy="380.7" r="30" fill="url(#rg)" filter="url(#bl)"/>
<circle cx="533.8" cy="380.7" r="30" fill="url(#rg)" filter="url(#bl)"/>
<circle cx="587.6" cy="380.7" r="30" fill="url(#rg)" filter="url(#bl)"/>
<circle cx="641.4" cy="380.7" r="30" fill="url(#rg)" filter="url(#bl)"/>
</g>
<line x1="371.2" y1="397.2" x2="372.5" y2="371.7" stroke="#D6D6D6" stroke-width="1.3" stroke-dasharray="3.4 1.5"/>
<polygon points="373,362.2 376.6,371.9 368.4,371.5" fill="#D0D0D0" stroke="none" stroke-width="0"/>
<line x1="411.6" y1="386.2" x2="436.6" y2="375.8" stroke="#D6D6D6" stroke-width="1.3" stroke-dasharray="3.4 1.5"/>
<polygon points="445.4,372.2 438.2,379.6 435.1,372" fill="#D0D0D0" stroke="none" stroke-width="0"/>
<line x1="466" y1="368.5" x2="487.1" y2="385.8" stroke="#D6D6D6" stroke-width="1.3" stroke-dasharray="3.4 1.5"/>
<polygon points="494.5,391.8 484.6,389 489.7,382.6" fill="#D0D0D0" stroke="none" stroke-width="0"/>
<line x1="538.9" y1="362.2" x2="532.9" y2="388" stroke="#D6D6D6" stroke-width="1.3" stroke-dasharray="3.4 1.5"/>
<polygon points="530.7,397.2 528.9,387 536.9,388.9" fill="#D0D0D0" stroke="none" stroke-width="0"/>
<line x1="605.4" y1="376.2" x2="579.6" y2="382.2" stroke="#D6D6D6" stroke-width="1.3" stroke-dasharray="3.4 1.5"/>
<polygon points="570.4,384.4 578.7,378.2 580.6,386.2" fill="#D0D0D0" stroke="none" stroke-width="0"/>
<line x1="652.6" y1="393.7" x2="636" y2="373.1" stroke="#D6D6D6" stroke-width="1.3" stroke-dasharray="3.4 1.5"/>
<polygon points="630,365.7 639.2,370.5 632.8,375.7" fill="#D0D0D0" stroke="none" stroke-width="0"/>
<text x="358.5" y="411.9" font-size="8.8" text-anchor="start" fill="#fff" font-weight="bold">g3</text>
<text x="453.4" y="411.9" font-size="7.75" text-anchor="middle" fill="#fff">v = 10 cm/s</text>
<text x="587.1" y="411.9" font-size="7.95" text-anchor="middle" fill="#fff">Clockwise Rotating</text>
<g clip-path="url(#cl11)">
<circle cx="372.4" cy="444.5" r="30" fill="url(#rg)" filter="url(#bl)"/>
<circle cx="426.2" cy="444.5" r="30" fill="url(#rg)" filter="url(#bl)"/>
<circle cx="480" cy="444.5" r="30" fill="url(#rg)" filter="url(#bl)"/>
<circle cx="533.8" cy="444.5" r="30" fill="url(#rg)" filter="url(#bl)"/>
<circle cx="587.6" cy="444.5" r="30" fill="url(#rg)" filter="url(#bl)"/>
<circle cx="641.4" cy="444.5" r="30" fill="url(#rg)" filter="url(#bl)"/>
</g>
<line x1="365.6" y1="460.5" x2="376.1" y2="437.2" stroke="#D6D6D6" stroke-width="1.3" stroke-dasharray="3.4 1.5"/>
<polygon points="380,428.5 379.8,438.8 372.4,435.5" fill="#D0D0D0" stroke="none" stroke-width="0"/>
<line x1="437.7" y1="458.9" x2="421.9" y2="437.7" stroke="#D6D6D6" stroke-width="1.3" stroke-dasharray="3.4 1.5"/>
<polygon points="416.2,430.1 425.2,435.3 418.6,440.2" fill="#D0D0D0" stroke="none" stroke-width="0"/>
<line x1="498" y1="440.7" x2="471.8" y2="445.5" stroke="#D6D6D6" stroke-width="1.3" stroke-dasharray="3.4 1.5"/>
<polygon points="462.5,447.2 471.1,441.5 472.6,449.5" fill="#D0D0D0" stroke="none" stroke-width="0"/>
<line x1="539.3" y1="427.3" x2="531.6" y2="452.8" stroke="#D6D6D6" stroke-width="1.3" stroke-dasharray="3.4 1.5"/>
<polygon points="528.8,461.9 527.6,451.6 535.5,454" fill="#D0D0D0" stroke="none" stroke-width="0"/>
<line x1="576.2" y1="430.8" x2="592.8" y2="450.9" stroke="#D6D6D6" stroke-width="1.3" stroke-dasharray="3.4 1.5"/>
<polygon points="598.9,458.2 589.7,453.5 596,448.3" fill="#D0D0D0" stroke="none" stroke-width="0"/>
<line x1="624.1" y1="448.4" x2="649.9" y2="442.4" stroke="#D6D6D6" stroke-width="1.3" stroke-dasharray="3.4 1.5"/>
<polygon points="659.2,440.2 650.9,446.4 649,438.4" fill="#D0D0D0" stroke="none" stroke-width="0"/>
<text x="358.5" y="475.9" font-size="8.8" text-anchor="start" fill="#fff" font-weight="bold">g4</text>
<text x="453.4" y="475.9" font-size="7.75" text-anchor="middle" fill="#fff">v = −10 cm/s</text>
<text x="587.1" y="475.9" font-size="7.95" text-anchor="middle" fill="#fff">Anticlockwise Rotating</text>
<rect x="343.2" y="342" width="2.3" height="138.3" fill="#D0D0D0"/>
</svg>
</body></html>
